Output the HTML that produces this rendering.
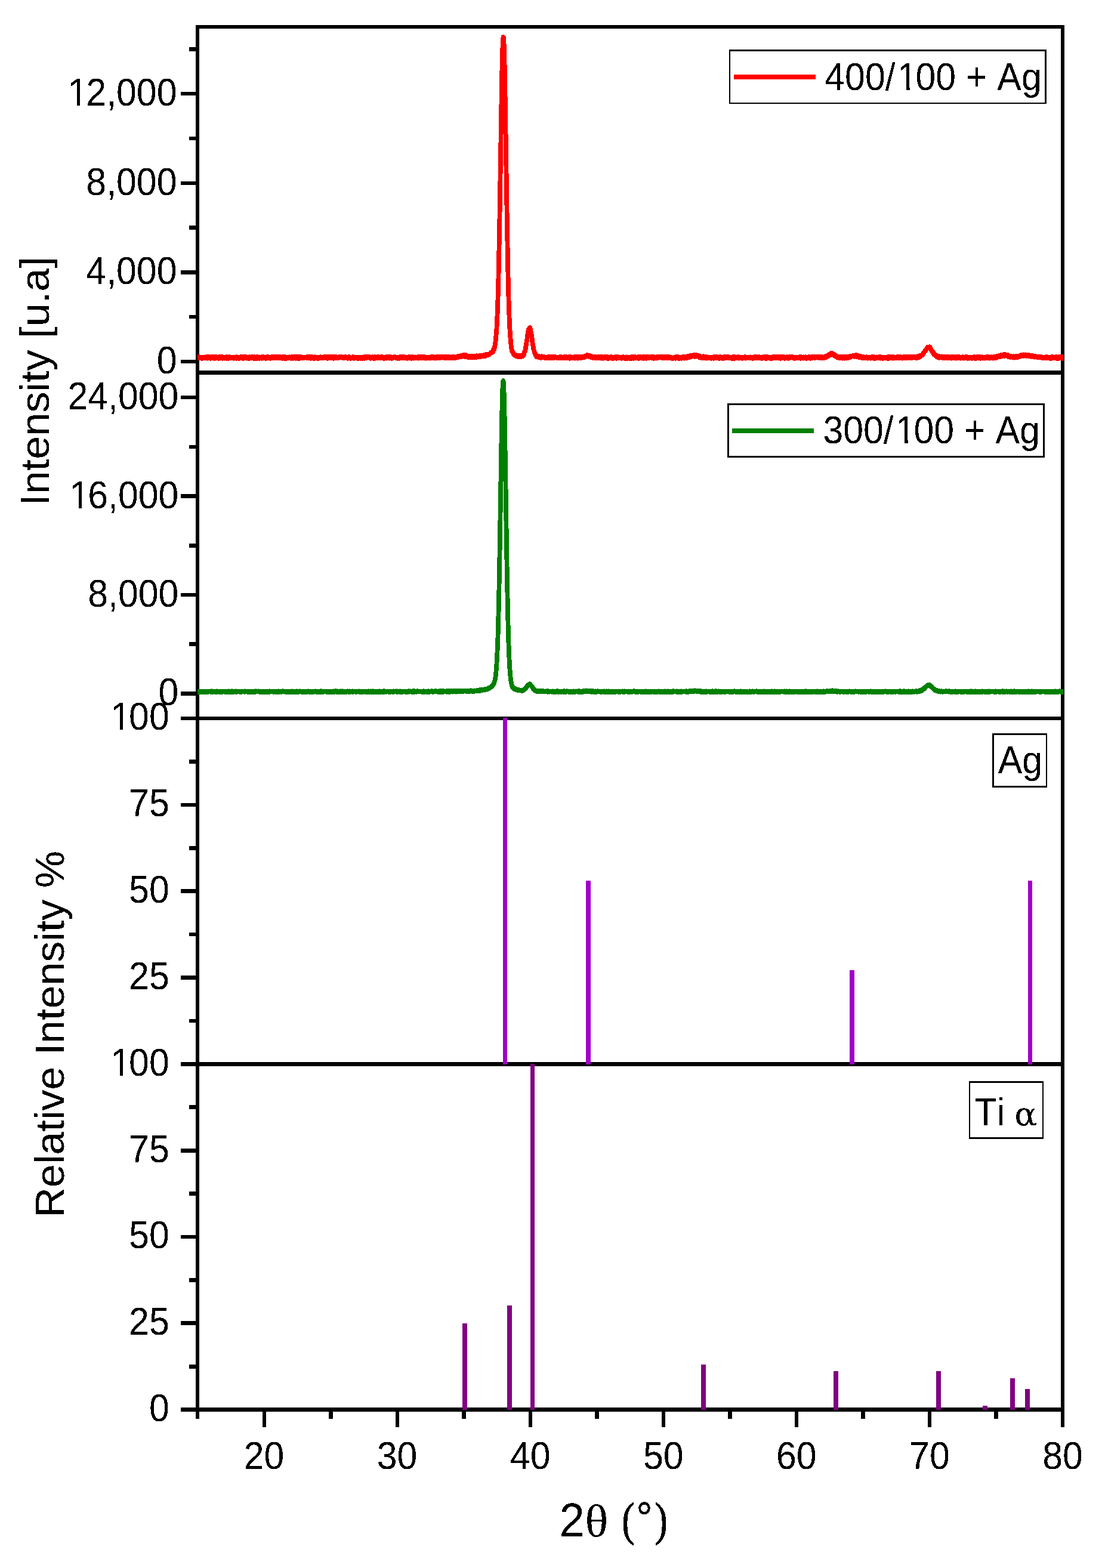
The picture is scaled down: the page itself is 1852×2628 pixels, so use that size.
<!DOCTYPE html>
<html lang="en"><head><meta charset="utf-8"><title>XRD patterns</title>
<style>html,body{margin:0;padding:0;background:#fff}svg{display:block}text{font-family:"Liberation Sans",sans-serif;fill:#000;font-kerning:none;font-variant-ligatures:none;white-space:pre}</style></head><body>
<svg width="1852" height="2628" viewBox="0 0 1852 2628">
<defs><filter id="bw" filterUnits="userSpaceOnUse" x="0" y="0" width="1852" height="2628" color-interpolation-filters="sRGB"><feComponentTransfer><feFuncA type="discrete" tableValues="0 1"/></feComponentTransfer></filter></defs>
<rect x="0" y="0" width="1852" height="2628" fill="#fff"/>
<g shape-rendering="crispEdges">
<rect x="328" y="42" width="6" height="2336" fill="#000"/>
<rect x="1778" y="42" width="6" height="2350" fill="#000"/>
<rect x="328" y="42" width="1456" height="6" fill="#000"/>
<rect x="328" y="621" width="1456" height="7" fill="#000"/>
<rect x="303" y="1201" width="1481" height="6" fill="#000"/>
<rect x="303" y="1780" width="1481" height="7" fill="#000"/>
<rect x="303" y="2359" width="1481" height="7" fill="#000"/>
<rect x="317" y="79" width="11" height="7" fill="#000"/>
<rect x="303" y="154" width="25" height="6" fill="#000"/>
<rect x="317" y="229" width="11" height="6" fill="#000"/>
<rect x="303" y="304" width="25" height="6" fill="#000"/>
<rect x="317" y="378" width="11" height="7" fill="#000"/>
<rect x="303" y="453" width="25" height="7" fill="#000"/>
<rect x="317" y="528" width="11" height="6" fill="#000"/>
<rect x="303" y="603" width="25" height="6" fill="#000"/>
<rect x="303" y="663" width="25" height="6" fill="#000"/>
<rect x="317" y="746" width="11" height="6" fill="#000"/>
<rect x="303" y="828" width="25" height="7" fill="#000"/>
<rect x="317" y="911" width="11" height="7" fill="#000"/>
<rect x="303" y="994" width="25" height="6" fill="#000"/>
<rect x="317" y="1076" width="11" height="7" fill="#000"/>
<rect x="303" y="1159" width="25" height="7" fill="#000"/>
<rect x="317" y="1273" width="11" height="7" fill="#000"/>
<rect x="303" y="1346" width="25" height="6" fill="#000"/>
<rect x="317" y="1418" width="11" height="7" fill="#000"/>
<rect x="303" y="1490" width="25" height="7" fill="#000"/>
<rect x="317" y="1563" width="11" height="6" fill="#000"/>
<rect x="303" y="1635" width="25" height="7" fill="#000"/>
<rect x="317" y="1708" width="11" height="6" fill="#000"/>
<rect x="317" y="1852" width="11" height="7" fill="#000"/>
<rect x="303" y="1925" width="25" height="7" fill="#000"/>
<rect x="317" y="1997" width="11" height="7" fill="#000"/>
<rect x="303" y="2070" width="25" height="6" fill="#000"/>
<rect x="317" y="2142" width="11" height="7" fill="#000"/>
<rect x="303" y="2214" width="25" height="7" fill="#000"/>
<rect x="317" y="2287" width="11" height="7" fill="#000"/>
<rect x="440" y="2366" width="6" height="26" fill="#000"/>
<rect x="551" y="2366" width="7" height="12" fill="#000"/>
<rect x="663" y="2366" width="6" height="26" fill="#000"/>
<rect x="774" y="2366" width="7" height="12" fill="#000"/>
<rect x="886" y="2366" width="6" height="26" fill="#000"/>
<rect x="997" y="2366" width="7" height="12" fill="#000"/>
<rect x="1109" y="2366" width="6" height="26" fill="#000"/>
<rect x="1220" y="2366" width="7" height="12" fill="#000"/>
<rect x="1332" y="2366" width="6" height="26" fill="#000"/>
<rect x="1443" y="2366" width="7" height="12" fill="#000"/>
<rect x="1555" y="2366" width="6" height="26" fill="#000"/>
<rect x="1666" y="2366" width="7" height="12" fill="#000"/>
</g>
<g shape-rendering="crispEdges">
<rect x="843" y="1203" width="7" height="581" fill="#a000c8"/>
<rect x="982" y="1476" width="8" height="308" fill="#a000c8"/>
<rect x="1424" y="1626" width="8" height="158" fill="#a000c8"/>
<rect x="1723" y="1476" width="7" height="308" fill="#a000c8"/>
<rect x="775" y="2218" width="8" height="145" fill="#800080"/>
<rect x="850" y="2188" width="8" height="175" fill="#800080"/>
<rect x="889" y="1783" width="7" height="580" fill="#800080"/>
<rect x="1175" y="2287" width="8" height="76" fill="#800080"/>
<rect x="1397" y="2298" width="8" height="65" fill="#800080"/>
<rect x="1569" y="2298" width="8" height="65" fill="#800080"/>
<rect x="1647" y="2356" width="8" height="7" fill="#800080"/>
<rect x="1693" y="2310" width="8" height="53" fill="#800080"/>
<rect x="1718" y="2328" width="8" height="35" fill="#800080"/>
</g>
<clipPath id="cp"><rect x="331" y="40" width="1451" height="1170"/></clipPath>
<g clip-path="url(#cp)">
<polyline fill="none" stroke="#ff0000" stroke-width="6.8" stroke-linejoin="round" shape-rendering="crispEdges" points="325.0,599.4 326.0,599.4 327.0,599.4 328.0,599.4 329.0,599.4 330.0,599.4 331.0,599.4 332.0,599.4 333.0,599.4 334.0,599.4 335.0,599.4 336.0,599.4 337.0,599.4 338.0,599.4 339.0,599.4 340.0,599.4 341.0,599.4 342.0,599.4 343.0,599.4 344.0,599.4 345.0,599.4 346.0,599.4 347.0,599.4 348.0,599.4 349.0,599.4 350.0,599.4 351.0,599.4 352.0,599.4 353.0,599.4 354.0,599.4 355.0,599.4 356.0,599.4 357.0,599.4 358.0,599.4 359.0,599.4 360.0,599.4 361.0,599.4 362.0,599.4 363.0,599.4 364.0,599.4 365.0,599.4 366.0,599.4 367.0,599.4 368.0,599.4 369.0,599.4 370.0,599.4 371.0,599.4 372.0,599.4 373.0,599.4 374.0,599.4 375.0,599.4 376.0,599.4 377.0,599.4 378.0,599.4 379.0,599.4 380.0,599.4 381.0,599.4 382.0,599.4 383.0,599.4 384.0,599.4 385.0,599.4 386.0,599.4 387.0,599.4 388.0,599.4 389.0,599.4 390.0,599.4 391.0,599.4 392.0,599.4 393.0,599.4 394.0,599.4 395.0,599.4 396.0,599.4 397.0,599.4 398.0,599.4 399.0,599.4 400.0,599.4 401.0,599.4 402.0,599.4 403.0,599.4 404.0,599.4 405.0,599.4 406.0,599.4 407.0,599.4 408.0,599.4 409.0,599.4 410.0,599.4 411.0,599.4 412.0,599.4 413.0,599.4 414.0,599.4 415.0,599.4 416.0,599.4 417.0,599.4 418.0,599.4 419.0,599.4 420.0,599.4 421.0,599.4 422.0,599.4 423.0,599.4 424.0,599.4 425.0,599.4 426.0,599.4 427.0,599.4 428.0,599.4 429.0,599.4 430.0,599.4 431.0,599.4 432.0,599.4 433.0,599.4 434.0,599.4 435.0,599.4 436.0,599.4 437.0,599.4 438.0,599.4 439.0,599.4 440.0,599.4 441.0,599.4 442.0,599.4 443.0,599.4 444.0,599.4 445.0,599.4 446.0,599.4 447.0,599.4 448.0,599.4 449.0,599.4 450.0,599.4 451.0,599.4 452.0,599.4 453.0,599.4 454.0,599.4 455.0,599.4 456.0,599.4 457.0,599.4 458.0,599.4 459.0,599.4 460.0,599.4 461.0,599.4 462.0,599.4 463.0,599.4 464.0,599.4 465.0,599.4 466.0,599.4 467.0,599.4 468.0,599.4 469.0,599.4 470.0,599.4 471.0,599.4 472.0,599.4 473.0,599.4 474.0,599.4 475.0,599.4 476.0,599.4 477.0,599.4 478.0,599.4 479.0,599.4 480.0,599.4 481.0,599.4 482.0,599.4 483.0,599.4 484.0,599.4 485.0,599.4 486.0,599.4 487.0,599.4 488.0,599.4 489.0,599.4 490.0,599.4 491.0,599.4 492.0,599.4 493.0,599.4 494.0,599.4 495.0,599.4 496.0,599.4 497.0,599.4 498.0,599.4 499.0,599.4 500.0,599.4 501.0,599.4 502.0,599.4 503.0,599.4 504.0,599.4 505.0,599.4 506.0,599.4 507.0,599.4 508.0,599.4 509.0,599.4 510.0,599.4 511.0,599.4 512.0,599.4 513.0,599.4 514.0,599.4 515.0,599.4 516.0,599.4 517.0,599.4 518.0,599.4 519.0,599.4 520.0,599.4 521.0,599.4 522.0,599.4 523.0,599.4 524.0,599.4 525.0,599.4 526.0,599.4 527.0,599.4 528.0,599.4 529.0,599.4 530.0,599.4 531.0,599.4 532.0,599.4 533.0,599.4 534.0,599.4 535.0,599.4 536.0,599.4 537.0,599.4 538.0,599.4 539.0,599.4 540.0,599.4 541.0,599.4 542.0,599.4 543.0,599.4 544.0,599.4 545.0,599.4 546.0,599.4 547.0,599.4 548.0,599.4 549.0,599.4 550.0,599.4 551.0,599.4 552.0,599.4 553.0,599.4 554.0,599.4 555.0,599.4 556.0,599.4 557.0,599.4 558.0,599.4 559.0,599.4 560.0,599.4 561.0,599.4 562.0,599.4 563.0,599.4 564.0,599.4 565.0,599.4 566.0,599.4 567.0,599.4 568.0,599.4 569.0,599.4 570.0,599.4 571.0,599.4 572.0,599.4 573.0,599.4 574.0,599.4 575.0,599.4 576.0,599.4 577.0,599.4 578.0,599.3 579.0,599.3 580.0,599.3 581.0,599.3 582.0,599.3 583.0,599.3 584.0,599.3 585.0,599.3 586.0,599.3 587.0,599.3 588.0,599.3 589.0,599.3 590.0,599.3 591.0,599.3 592.0,599.3 593.0,599.3 594.0,599.3 595.0,599.3 596.0,599.3 597.0,599.3 598.0,599.3 599.0,599.3 600.0,599.3 601.0,599.3 602.0,599.3 603.0,599.3 604.0,599.3 605.0,599.3 606.0,599.3 607.0,599.3 608.0,599.3 609.0,599.3 610.0,599.3 611.0,599.3 612.0,599.3 613.0,599.3 614.0,599.3 615.0,599.3 616.0,599.3 617.0,599.3 618.0,599.3 619.0,599.3 620.0,599.3 621.0,599.3 622.0,599.3 623.0,599.3 624.0,599.3 625.0,599.3 626.0,599.3 627.0,599.3 628.0,599.3 629.0,599.3 630.0,599.3 631.0,599.3 632.0,599.3 633.0,599.3 634.0,599.3 635.0,599.3 636.0,599.3 637.0,599.3 638.0,599.3 639.0,599.3 640.0,599.3 641.0,599.3 642.0,599.3 643.0,599.3 644.0,599.3 645.0,599.3 646.0,599.3 647.0,599.3 648.0,599.3 649.0,599.3 650.0,599.3 651.0,599.3 652.0,599.3 653.0,599.3 654.0,599.3 655.0,599.3 656.0,599.3 657.0,599.3 658.0,599.3 659.0,599.3 660.0,599.3 661.0,599.3 662.0,599.3 663.0,599.3 664.0,599.3 665.0,599.3 666.0,599.3 667.0,599.3 668.0,599.3 669.0,599.3 670.0,599.3 671.0,599.3 672.0,599.3 673.0,599.3 674.0,599.3 675.0,599.3 676.0,599.3 677.0,599.3 678.0,599.3 679.0,599.3 680.0,599.3 681.0,599.3 682.0,599.3 683.0,599.3 684.0,599.3 685.0,599.3 686.0,599.3 687.0,599.3 688.0,599.3 689.0,599.3 690.0,599.3 691.0,599.2 692.0,599.2 693.0,599.2 694.0,599.2 695.0,599.2 696.0,599.2 697.0,599.2 698.0,599.2 699.0,599.2 700.0,599.2 701.0,599.2 702.0,599.2 703.0,599.2 704.0,599.2 705.0,599.2 706.0,599.2 707.0,599.2 708.0,599.2 709.0,599.2 710.0,599.2 711.0,599.2 712.0,599.2 713.0,599.2 714.0,599.2 715.0,599.2 716.0,599.2 717.0,599.2 718.0,599.2 719.0,599.2 720.0,599.2 721.0,599.2 722.0,599.2 723.0,599.2 724.0,599.2 725.0,599.2 726.0,599.1 727.0,599.1 728.0,599.1 729.0,599.1 730.0,599.1 731.0,599.1 732.0,599.1 733.0,599.1 734.0,599.1 735.0,599.1 736.0,599.1 737.0,599.1 738.0,599.1 739.0,599.1 740.0,599.1 741.0,599.1 742.0,599.1 743.0,599.1 744.0,599.0 745.0,599.0 746.0,599.0 747.0,599.0 748.0,599.0 749.0,599.0 750.0,599.0 751.0,599.0 752.0,599.0 753.0,599.0 754.0,599.0 755.0,598.9 756.0,598.9 757.0,598.9 758.0,598.9 759.0,598.9 760.0,598.9 761.0,598.8 762.0,598.8 763.0,598.8 764.0,598.7 765.0,598.6 766.0,598.5 767.0,598.4 768.0,598.2 769.0,597.9 770.0,597.7 771.0,597.4 772.0,597.0 773.0,596.7 774.0,596.4 775.0,596.2 776.0,596.1 777.0,596.0 778.0,596.1 779.0,596.2 780.0,596.5 781.0,596.7 782.0,597.0 783.0,597.3 784.0,597.5 785.0,597.7 786.0,597.9 787.0,598.0 788.0,598.0 789.0,598.1 790.0,598.1 791.0,598.1 792.0,598.1 793.0,598.0 794.0,598.0 795.0,597.9 796.0,597.9 797.0,597.8 798.0,597.8 799.0,597.7 800.0,597.6 801.0,597.5 802.0,597.4 803.0,597.4 804.0,597.3 805.0,597.1 806.0,597.0 807.0,596.9 808.0,596.8 809.0,596.6 810.0,596.5 811.0,596.3 812.0,596.1 813.0,595.9 814.0,595.6 815.0,595.4 816.0,595.1 817.0,594.8 818.0,594.4 819.0,594.1 820.0,593.6 821.0,593.1 822.0,592.6 823.0,591.9 824.0,591.1 825.0,590.2 826.0,589.0 827.0,587.4 828.0,585.1 829.0,581.7 830.0,576.5 831.0,568.7 832.0,557.0 833.0,539.9 834.0,515.9 835.0,483.4 836.0,441.4 837.0,390.0 838.0,330.3 839.0,265.5 840.0,200.0 841.0,140.1 842.0,93.1 843.0,66.0 844.0,63.3 845.0,85.0 846.0,127.5 847.0,185.0 848.0,250.4 849.0,317.3 850.0,380.1 851.0,435.4 852.0,480.9 853.0,516.5 854.0,542.8 855.0,561.4 856.0,574.0 857.0,582.1 858.0,587.2 859.0,590.4 860.0,592.3 861.0,593.5 862.0,594.3 863.0,594.9 864.0,595.3 865.0,595.6 866.0,595.9 867.0,596.1 868.0,596.3 869.0,596.5 870.0,596.6 871.0,596.7 872.0,596.8 873.0,596.8 874.0,596.6 875.0,596.3 876.0,595.8 877.0,594.8 878.0,593.1 879.0,590.7 880.0,587.1 881.0,582.5 882.0,576.7 883.0,570.1 884.0,563.3 885.0,557.0 886.0,552.0 887.0,549.3 888.0,549.3 889.0,552.1 890.0,557.2 891.0,563.6 892.0,570.5 893.0,577.2 894.0,583.0 895.0,587.8 896.0,591.4 897.0,593.9 898.0,595.7 899.0,596.8 900.0,597.5 901.0,597.9 902.0,598.1 903.0,598.3 904.0,598.4 905.0,598.5 906.0,598.6 907.0,598.6 908.0,598.7 909.0,598.7 910.0,598.7 911.0,598.8 912.0,598.8 913.0,598.8 914.0,598.9 915.0,598.9 916.0,598.9 917.0,598.9 918.0,598.9 919.0,599.0 920.0,599.0 921.0,599.0 922.0,599.0 923.0,599.0 924.0,599.0 925.0,599.0 926.0,599.0 927.0,599.1 928.0,599.1 929.0,599.1 930.0,599.1 931.0,599.1 932.0,599.1 933.0,599.1 934.0,599.1 935.0,599.1 936.0,599.1 937.0,599.1 938.0,599.1 939.0,599.2 940.0,599.2 941.0,599.2 942.0,599.2 943.0,599.2 944.0,599.2 945.0,599.2 946.0,599.2 947.0,599.2 948.0,599.2 949.0,599.2 950.0,599.2 951.0,599.2 952.0,599.2 953.0,599.2 954.0,599.2 955.0,599.2 956.0,599.2 957.0,599.2 958.0,599.2 959.0,599.2 960.0,599.2 961.0,599.2 962.0,599.2 963.0,599.2 964.0,599.2 965.0,599.2 966.0,599.2 967.0,599.2 968.0,599.2 969.0,599.2 970.0,599.2 971.0,599.2 972.0,599.2 973.0,599.1 974.0,599.1 975.0,599.0 976.0,598.8 977.0,598.6 978.0,598.2 979.0,597.9 980.0,597.4 981.0,597.0 982.0,596.5 983.0,596.2 984.0,596.0 985.0,596.0 986.0,596.2 987.0,596.5 988.0,597.0 989.0,597.4 990.0,597.9 991.0,598.3 992.0,598.6 993.0,598.8 994.0,599.0 995.0,599.1 996.0,599.2 997.0,599.2 998.0,599.3 999.0,599.3 1000.0,599.3 1001.0,599.3 1002.0,599.3 1003.0,599.3 1004.0,599.3 1005.0,599.3 1006.0,599.3 1007.0,599.3 1008.0,599.3 1009.0,599.3 1010.0,599.3 1011.0,599.3 1012.0,599.3 1013.0,599.3 1014.0,599.3 1015.0,599.3 1016.0,599.3 1017.0,599.3 1018.0,599.3 1019.0,599.3 1020.0,599.3 1021.0,599.3 1022.0,599.3 1023.0,599.3 1024.0,599.3 1025.0,599.3 1026.0,599.3 1027.0,599.3 1028.0,599.3 1029.0,599.3 1030.0,599.3 1031.0,599.3 1032.0,599.3 1033.0,599.3 1034.0,599.3 1035.0,599.3 1036.0,599.3 1037.0,599.3 1038.0,599.3 1039.0,599.3 1040.0,599.3 1041.0,599.3 1042.0,599.3 1043.0,599.3 1044.0,599.3 1045.0,599.3 1046.0,599.3 1047.0,599.3 1048.0,599.3 1049.0,599.3 1050.0,599.3 1051.0,599.3 1052.0,599.4 1053.0,599.4 1054.0,599.4 1055.0,599.4 1056.0,599.4 1057.0,599.4 1058.0,599.4 1059.0,599.4 1060.0,599.4 1061.0,599.4 1062.0,599.4 1063.0,599.4 1064.0,599.4 1065.0,599.4 1066.0,599.4 1067.0,599.4 1068.0,599.4 1069.0,599.4 1070.0,599.4 1071.0,599.4 1072.0,599.4 1073.0,599.4 1074.0,599.4 1075.0,599.4 1076.0,599.4 1077.0,599.4 1078.0,599.4 1079.0,599.4 1080.0,599.4 1081.0,599.4 1082.0,599.4 1083.0,599.4 1084.0,599.4 1085.0,599.4 1086.0,599.4 1087.0,599.4 1088.0,599.4 1089.0,599.4 1090.0,599.4 1091.0,599.4 1092.0,599.4 1093.0,599.4 1094.0,599.4 1095.0,599.4 1096.0,599.4 1097.0,599.4 1098.0,599.4 1099.0,599.4 1100.0,599.4 1101.0,599.4 1102.0,599.4 1103.0,599.4 1104.0,599.4 1105.0,599.4 1106.0,599.4 1107.0,599.4 1108.0,599.4 1109.0,599.4 1110.0,599.4 1111.0,599.4 1112.0,599.4 1113.0,599.4 1114.0,599.4 1115.0,599.4 1116.0,599.4 1117.0,599.4 1118.0,599.4 1119.0,599.4 1120.0,599.4 1121.0,599.4 1122.0,599.4 1123.0,599.4 1124.0,599.4 1125.0,599.4 1126.0,599.4 1127.0,599.4 1128.0,599.4 1129.0,599.4 1130.0,599.4 1131.0,599.4 1132.0,599.4 1133.0,599.4 1134.0,599.3 1135.0,599.3 1136.0,599.3 1137.0,599.3 1138.0,599.3 1139.0,599.3 1140.0,599.3 1141.0,599.3 1142.0,599.3 1143.0,599.3 1144.0,599.2 1145.0,599.2 1146.0,599.2 1147.0,599.1 1148.0,599.0 1149.0,598.9 1150.0,598.8 1151.0,598.7 1152.0,598.5 1153.0,598.4 1154.0,598.2 1155.0,597.9 1156.0,597.7 1157.0,597.5 1158.0,597.3 1159.0,597.0 1160.0,596.8 1161.0,596.7 1162.0,596.5 1163.0,596.4 1164.0,596.4 1165.0,596.4 1166.0,596.5 1167.0,596.6 1168.0,596.7 1169.0,596.9 1170.0,597.1 1171.0,597.3 1172.0,597.6 1173.0,597.8 1174.0,598.0 1175.0,598.2 1176.0,598.4 1177.0,598.6 1178.0,598.7 1179.0,598.9 1180.0,599.0 1181.0,599.1 1182.0,599.1 1183.0,599.2 1184.0,599.2 1185.0,599.3 1186.0,599.3 1187.0,599.3 1188.0,599.3 1189.0,599.3 1190.0,599.3 1191.0,599.3 1192.0,599.3 1193.0,599.4 1194.0,599.4 1195.0,599.4 1196.0,599.4 1197.0,599.4 1198.0,599.4 1199.0,599.4 1200.0,599.4 1201.0,599.4 1202.0,599.4 1203.0,599.4 1204.0,599.4 1205.0,599.4 1206.0,599.4 1207.0,599.4 1208.0,599.4 1209.0,599.4 1210.0,599.4 1211.0,599.4 1212.0,599.4 1213.0,599.4 1214.0,599.4 1215.0,599.4 1216.0,599.4 1217.0,599.4 1218.0,599.4 1219.0,599.4 1220.0,599.4 1221.0,599.4 1222.0,599.4 1223.0,599.4 1224.0,599.4 1225.0,599.4 1226.0,599.4 1227.0,599.4 1228.0,599.4 1229.0,599.4 1230.0,599.4 1231.0,599.4 1232.0,599.4 1233.0,599.4 1234.0,599.4 1235.0,599.4 1236.0,599.4 1237.0,599.4 1238.0,599.4 1239.0,599.4 1240.0,599.4 1241.0,599.4 1242.0,599.4 1243.0,599.4 1244.0,599.4 1245.0,599.4 1246.0,599.4 1247.0,599.4 1248.0,599.4 1249.0,599.4 1250.0,599.4 1251.0,599.4 1252.0,599.4 1253.0,599.4 1254.0,599.4 1255.0,599.4 1256.0,599.4 1257.0,599.4 1258.0,599.4 1259.0,599.4 1260.0,599.4 1261.0,599.4 1262.0,599.4 1263.0,599.4 1264.0,599.4 1265.0,599.4 1266.0,599.4 1267.0,599.4 1268.0,599.4 1269.0,599.4 1270.0,599.4 1271.0,599.4 1272.0,599.4 1273.0,599.4 1274.0,599.4 1275.0,599.4 1276.0,599.4 1277.0,599.4 1278.0,599.4 1279.0,599.4 1280.0,599.4 1281.0,599.4 1282.0,599.4 1283.0,599.4 1284.0,599.4 1285.0,599.4 1286.0,599.4 1287.0,599.4 1288.0,599.4 1289.0,599.4 1290.0,599.4 1291.0,599.4 1292.0,599.4 1293.0,599.4 1294.0,599.4 1295.0,599.4 1296.0,599.4 1297.0,599.4 1298.0,599.4 1299.0,599.4 1300.0,599.4 1301.0,599.4 1302.0,599.4 1303.0,599.4 1304.0,599.4 1305.0,599.4 1306.0,599.4 1307.0,599.4 1308.0,599.4 1309.0,599.4 1310.0,599.4 1311.0,599.4 1312.0,599.4 1313.0,599.4 1314.0,599.4 1315.0,599.4 1316.0,599.4 1317.0,599.4 1318.0,599.4 1319.0,599.4 1320.0,599.4 1321.0,599.4 1322.0,599.4 1323.0,599.4 1324.0,599.4 1325.0,599.4 1326.0,599.4 1327.0,599.4 1328.0,599.4 1329.0,599.4 1330.0,599.4 1331.0,599.4 1332.0,599.4 1333.0,599.4 1334.0,599.4 1335.0,599.4 1336.0,599.4 1337.0,599.4 1338.0,599.4 1339.0,599.4 1340.0,599.4 1341.0,599.4 1342.0,599.4 1343.0,599.4 1344.0,599.4 1345.0,599.4 1346.0,599.4 1347.0,599.4 1348.0,599.4 1349.0,599.4 1350.0,599.4 1351.0,599.4 1352.0,599.4 1353.0,599.4 1354.0,599.4 1355.0,599.4 1356.0,599.4 1357.0,599.4 1358.0,599.3 1359.0,599.3 1360.0,599.3 1361.0,599.3 1362.0,599.3 1363.0,599.3 1364.0,599.3 1365.0,599.3 1366.0,599.3 1367.0,599.3 1368.0,599.3 1369.0,599.3 1370.0,599.3 1371.0,599.3 1372.0,599.3 1373.0,599.3 1374.0,599.3 1375.0,599.3 1376.0,599.2 1377.0,599.2 1378.0,599.2 1379.0,599.1 1380.0,599.1 1381.0,599.0 1382.0,598.8 1383.0,598.6 1384.0,598.3 1385.0,598.0 1386.0,597.5 1387.0,596.9 1388.0,596.3 1389.0,595.6 1390.0,594.9 1391.0,594.3 1392.0,593.8 1393.0,593.5 1394.0,593.4 1395.0,593.5 1396.0,593.9 1397.0,594.4 1398.0,595.1 1399.0,595.8 1400.0,596.4 1401.0,597.0 1402.0,597.6 1403.0,598.0 1404.0,598.4 1405.0,598.6 1406.0,598.8 1407.0,599.0 1408.0,599.1 1409.0,599.1 1410.0,599.2 1411.0,599.2 1412.0,599.2 1413.0,599.2 1414.0,599.2 1415.0,599.2 1416.0,599.2 1417.0,599.2 1418.0,599.2 1419.0,599.1 1420.0,599.1 1421.0,599.0 1422.0,598.9 1423.0,598.7 1424.0,598.5 1425.0,598.3 1426.0,598.1 1427.0,597.8 1428.0,597.5 1429.0,597.2 1430.0,596.9 1431.0,596.7 1432.0,596.5 1433.0,596.4 1434.0,596.3 1435.0,596.4 1436.0,596.6 1437.0,596.8 1438.0,597.0 1439.0,597.3 1440.0,597.6 1441.0,597.9 1442.0,598.2 1443.0,598.4 1444.0,598.6 1445.0,598.8 1446.0,599.0 1447.0,599.1 1448.0,599.1 1449.0,599.2 1450.0,599.2 1451.0,599.3 1452.0,599.3 1453.0,599.3 1454.0,599.3 1455.0,599.3 1456.0,599.3 1457.0,599.3 1458.0,599.3 1459.0,599.3 1460.0,599.3 1461.0,599.3 1462.0,599.3 1463.0,599.3 1464.0,599.3 1465.0,599.3 1466.0,599.3 1467.0,599.3 1468.0,599.3 1469.0,599.3 1470.0,599.3 1471.0,599.3 1472.0,599.3 1473.0,599.3 1474.0,599.3 1475.0,599.3 1476.0,599.3 1477.0,599.3 1478.0,599.3 1479.0,599.3 1480.0,599.3 1481.0,599.3 1482.0,599.3 1483.0,599.3 1484.0,599.3 1485.0,599.3 1486.0,599.3 1487.0,599.3 1488.0,599.3 1489.0,599.3 1490.0,599.3 1491.0,599.3 1492.0,599.3 1493.0,599.3 1494.0,599.3 1495.0,599.3 1496.0,599.3 1497.0,599.3 1498.0,599.3 1499.0,599.3 1500.0,599.3 1501.0,599.3 1502.0,599.3 1503.0,599.3 1504.0,599.3 1505.0,599.3 1506.0,599.3 1507.0,599.3 1508.0,599.3 1509.0,599.3 1510.0,599.3 1511.0,599.2 1512.0,599.2 1513.0,599.2 1514.0,599.2 1515.0,599.2 1516.0,599.2 1517.0,599.2 1518.0,599.2 1519.0,599.2 1520.0,599.2 1521.0,599.2 1522.0,599.1 1523.0,599.1 1524.0,599.1 1525.0,599.1 1526.0,599.1 1527.0,599.1 1528.0,599.0 1529.0,599.0 1530.0,599.0 1531.0,599.0 1532.0,598.9 1533.0,598.9 1534.0,598.8 1535.0,598.8 1536.0,598.7 1537.0,598.6 1538.0,598.4 1539.0,598.2 1540.0,598.0 1541.0,597.7 1542.0,597.2 1543.0,596.7 1544.0,596.0 1545.0,595.2 1546.0,594.1 1547.0,593.0 1548.0,591.6 1549.0,590.2 1550.0,588.6 1551.0,587.1 1552.0,585.5 1553.0,584.2 1554.0,583.0 1555.0,582.2 1556.0,581.9 1557.0,582.0 1558.0,582.7 1559.0,583.7 1560.0,585.0 1561.0,586.4 1562.0,588.0 1563.0,589.6 1564.0,591.1 1565.0,592.5 1566.0,593.7 1567.0,594.8 1568.0,595.7 1569.0,596.4 1570.0,597.0 1571.0,597.5 1572.0,597.9 1573.0,598.1 1574.0,598.4 1575.0,598.5 1576.0,598.6 1577.0,598.7 1578.0,598.8 1579.0,598.9 1580.0,598.9 1581.0,598.9 1582.0,599.0 1583.0,599.0 1584.0,599.0 1585.0,599.1 1586.0,599.1 1587.0,599.1 1588.0,599.1 1589.0,599.1 1590.0,599.1 1591.0,599.2 1592.0,599.2 1593.0,599.2 1594.0,599.2 1595.0,599.2 1596.0,599.2 1597.0,599.2 1598.0,599.2 1599.0,599.2 1600.0,599.2 1601.0,599.2 1602.0,599.2 1603.0,599.3 1604.0,599.3 1605.0,599.3 1606.0,599.3 1607.0,599.3 1608.0,599.3 1609.0,599.3 1610.0,599.3 1611.0,599.3 1612.0,599.3 1613.0,599.3 1614.0,599.3 1615.0,599.3 1616.0,599.3 1617.0,599.3 1618.0,599.3 1619.0,599.3 1620.0,599.3 1621.0,599.3 1622.0,599.3 1623.0,599.3 1624.0,599.3 1625.0,599.3 1626.0,599.3 1627.0,599.3 1628.0,599.3 1629.0,599.3 1630.0,599.3 1631.0,599.3 1632.0,599.3 1633.0,599.3 1634.0,599.3 1635.0,599.3 1636.0,599.3 1637.0,599.3 1638.0,599.3 1639.0,599.3 1640.0,599.3 1641.0,599.3 1642.0,599.3 1643.0,599.3 1644.0,599.3 1645.0,599.3 1646.0,599.3 1647.0,599.3 1648.0,599.3 1649.0,599.3 1650.0,599.3 1651.0,599.3 1652.0,599.3 1653.0,599.3 1654.0,599.3 1655.0,599.3 1656.0,599.3 1657.0,599.3 1658.0,599.3 1659.0,599.3 1660.0,599.3 1661.0,599.3 1662.0,599.2 1663.0,599.2 1664.0,599.2 1665.0,599.1 1666.0,599.0 1667.0,598.9 1668.0,598.8 1669.0,598.7 1670.0,598.5 1671.0,598.3 1672.0,598.1 1673.0,597.8 1674.0,597.5 1675.0,597.2 1676.0,596.9 1677.0,596.6 1678.0,596.3 1679.0,596.0 1680.0,595.8 1681.0,595.6 1682.0,595.4 1683.0,595.4 1684.0,595.3 1685.0,595.4 1686.0,595.5 1687.0,595.7 1688.0,596.0 1689.0,596.2 1690.0,596.5 1691.0,596.8 1692.0,597.1 1693.0,597.4 1694.0,597.6 1695.0,597.9 1696.0,598.1 1697.0,598.2 1698.0,598.3 1699.0,598.4 1700.0,598.4 1701.0,598.4 1702.0,598.4 1703.0,598.3 1704.0,598.2 1705.0,598.1 1706.0,597.9 1707.0,597.7 1708.0,597.5 1709.0,597.3 1710.0,597.0 1711.0,596.8 1712.0,596.5 1713.0,596.3 1714.0,596.0 1715.0,595.8 1716.0,595.7 1717.0,595.5 1718.0,595.4 1719.0,595.4 1720.0,595.4 1721.0,595.4 1722.0,595.5 1723.0,595.6 1724.0,595.8 1725.0,596.0 1726.0,596.2 1727.0,596.4 1728.0,596.7 1729.0,596.9 1730.0,597.2 1731.0,597.4 1732.0,597.7 1733.0,597.9 1734.0,598.1 1735.0,598.3 1736.0,598.5 1737.0,598.6 1738.0,598.7 1739.0,598.9 1740.0,598.9 1741.0,599.0 1742.0,599.1 1743.0,599.1 1744.0,599.2 1745.0,599.2 1746.0,599.3 1747.0,599.3 1748.0,599.3 1749.0,599.3 1750.0,599.3 1751.0,599.3 1752.0,599.3 1753.0,599.3 1754.0,599.3 1755.0,599.3 1756.0,599.3 1757.0,599.4 1758.0,599.4 1759.0,599.4 1760.0,599.4 1761.0,599.4 1762.0,599.4 1763.0,599.4 1764.0,599.4 1765.0,599.4 1766.0,599.4 1767.0,599.4 1768.0,599.4 1769.0,599.4 1770.0,599.4 1771.0,599.4 1772.0,599.4 1773.0,599.4 1774.0,599.4 1775.0,599.4 1776.0,599.4 1777.0,599.4 1778.0,599.4 1779.0,599.4 1780.0,599.4 1781.0,599.4 1782.0,599.4 1783.0,599.4 1784.0,599.4 1785.0,599.4 1786.0,599.4 1787.0,599.4 1788.0,599.4"/><polyline fill="none" stroke="#ff0000" stroke-width="7.8" stroke-linejoin="round" shape-rendering="crispEdges" points="325.0,599.1 325.5,599.9 326.0,599.2 326.5,599.1 327.0,598.5 327.5,599.2 328.0,600.4 328.5,599.8 329.0,600.4 329.5,599.6 330.0,599.8 330.5,599.6 331.0,598.1 331.5,600.2 332.0,599.9 332.5,599.9 333.0,598.1 333.5,598.1 334.0,598.5 334.5,598.9 335.0,599.7 335.5,599.3 336.0,599.9 336.5,598.8 337.0,599.7 337.5,599.8 338.0,598.8 338.5,600.7 339.0,599.9 339.5,600.5 340.0,598.8 340.5,598.7 341.0,599.1 341.5,599.3 342.0,600.0 342.5,599.6 343.0,599.0 343.5,598.5 344.0,598.9 344.5,600.5 345.0,598.6 345.5,599.6 346.0,599.8 346.5,598.1 347.0,599.4 347.5,600.6 348.0,598.1 348.5,599.1 349.0,599.3 349.5,598.6 350.0,599.9 350.5,599.3 351.0,598.1 351.5,600.2 352.0,600.0 352.5,600.3 353.0,600.7 353.5,599.7 354.0,599.5 354.5,598.2 355.0,600.0 355.5,598.8 356.0,599.0 356.5,598.2 357.0,598.5 357.5,598.9 358.0,600.6 358.5,598.1 359.0,598.1 359.5,599.6 360.0,600.7 360.5,599.9 361.0,598.1 361.5,598.1 362.0,599.7 362.5,598.7 363.0,598.3 363.5,600.3 364.0,600.4 364.5,599.5 365.0,599.6 365.5,599.8 366.0,600.7 366.5,600.0 367.0,599.9 367.5,599.9 368.0,598.1 368.5,600.6 369.0,600.3 369.5,599.9 370.0,598.1 370.5,598.8 371.0,600.2 371.5,598.1 372.0,599.2 372.5,600.4 373.0,598.1 373.5,600.7 374.0,599.9 374.5,599.2 375.0,599.7 375.5,600.0 376.0,599.5 376.5,600.5 377.0,598.8 377.5,599.0 378.0,600.4 378.5,599.4 379.0,598.5 379.5,600.3 380.0,600.7 380.5,599.0 381.0,598.1 381.5,599.3 382.0,599.2 382.5,599.1 383.0,600.7 383.5,598.4 384.0,600.6 384.5,598.2 385.0,598.6 385.5,600.0 386.0,600.5 386.5,600.2 387.0,599.7 387.5,599.5 388.0,599.5 388.5,599.9 389.0,599.2 389.5,599.6 390.0,599.9 390.5,599.4 391.0,600.1 391.5,599.9 392.0,600.7 392.5,599.7 393.0,599.0 393.5,599.0 394.0,599.4 394.5,600.3 395.0,599.1 395.5,599.7 396.0,600.7 396.5,598.1 397.0,598.3 397.5,599.6 398.0,599.8 398.5,599.6 399.0,599.0 399.5,600.0 400.0,599.6 400.5,598.9 401.0,600.7 401.5,599.7 402.0,598.9 402.5,599.3 403.0,599.2 403.5,599.3 404.0,598.1 404.5,598.9 405.0,600.3 405.5,598.3 406.0,599.3 406.5,600.3 407.0,600.2 407.5,600.7 408.0,598.1 408.5,599.0 409.0,599.1 409.5,600.0 410.0,600.4 410.5,598.1 411.0,600.4 411.5,598.1 412.0,600.0 412.5,598.1 413.0,599.5 413.5,600.5 414.0,599.2 414.5,599.6 415.0,600.1 415.5,599.5 416.0,599.3 416.5,600.7 417.0,600.4 417.5,599.1 418.0,600.7 418.5,598.3 419.0,600.2 419.5,599.1 420.0,599.5 420.5,600.0 421.0,599.6 421.5,600.0 422.0,598.0 422.5,598.0 423.0,600.0 423.5,598.5 424.0,598.4 424.5,598.0 425.0,600.6 425.5,600.1 426.0,600.7 426.5,598.5 427.0,599.4 427.5,598.3 428.0,600.1 428.5,600.7 429.0,598.5 429.5,600.7 430.0,600.3 430.5,599.2 431.0,598.0 431.5,600.7 432.0,599.3 432.5,598.8 433.0,599.8 433.5,599.8 434.0,600.7 434.5,598.4 435.0,600.5 435.5,600.7 436.0,600.7 436.5,599.2 437.0,598.7 437.5,600.3 438.0,599.5 438.5,599.5 439.0,600.7 439.5,599.1 440.0,598.0 440.5,599.0 441.0,598.0 441.5,600.2 442.0,599.7 442.5,598.8 443.0,599.4 443.5,600.2 444.0,599.5 444.5,600.6 445.0,599.3 445.5,600.4 446.0,600.7 446.5,600.7 447.0,598.7 447.5,600.2 448.0,598.0 448.5,598.3 449.0,598.0 449.5,600.4 450.0,598.2 450.5,599.4 451.0,599.2 451.5,599.3 452.0,598.8 452.5,599.6 453.0,600.7 453.5,599.4 454.0,599.9 454.5,600.3 455.0,599.2 455.5,598.2 456.0,598.8 456.5,600.4 457.0,598.0 457.5,598.8 458.0,600.3 458.5,600.1 459.0,599.4 459.5,600.1 460.0,599.5 460.5,598.3 461.0,598.0 461.5,598.8 462.0,600.3 462.5,598.8 463.0,598.5 463.5,598.6 464.0,598.0 464.5,599.3 465.0,598.3 465.5,599.7 466.0,598.0 466.5,599.7 467.0,598.8 467.5,598.0 468.0,600.1 468.5,599.1 469.0,598.0 469.5,598.5 470.0,599.7 470.5,598.9 471.0,600.1 471.5,600.1 472.0,600.0 472.5,599.7 473.0,600.6 473.5,600.0 474.0,599.8 474.5,598.0 475.0,600.2 475.5,600.6 476.0,599.1 476.5,598.9 477.0,600.7 477.5,598.0 478.0,599.8 478.5,600.7 479.0,598.5 479.5,600.0 480.0,600.7 480.5,599.3 481.0,599.9 481.5,600.2 482.0,598.5 482.5,599.3 483.0,599.7 483.5,600.2 484.0,599.3 484.5,599.2 485.0,598.4 485.5,599.0 486.0,600.2 486.5,599.5 487.0,598.6 487.5,598.6 488.0,600.7 488.5,600.5 489.0,600.0 489.5,598.0 490.0,600.0 490.5,599.8 491.0,600.7 491.5,599.8 492.0,599.3 492.5,599.9 493.0,598.0 493.5,600.4 494.0,599.7 494.5,598.7 495.0,600.6 495.5,600.7 496.0,598.0 496.5,598.7 497.0,599.6 497.5,599.5 498.0,599.0 498.5,598.4 499.0,600.7 499.5,600.4 500.0,598.2 500.5,598.1 501.0,600.7 501.5,600.3 502.0,600.7 502.5,600.1 503.0,598.5 503.5,599.6 504.0,598.0 504.5,598.7 505.0,599.3 505.5,599.9 506.0,598.7 506.5,599.3 507.0,599.8 507.5,599.7 508.0,600.0 508.5,599.6 509.0,599.1 509.5,600.1 510.0,599.4 510.5,598.6 511.0,598.8 511.5,599.4 512.0,599.3 512.5,599.5 513.0,599.4 513.5,599.5 514.0,599.2 514.5,598.2 515.0,599.8 515.5,600.4 516.0,599.8 516.5,599.2 517.0,599.8 517.5,598.4 518.0,598.0 518.5,599.4 519.0,598.5 519.5,600.1 520.0,598.3 520.5,598.0 521.0,598.4 521.5,600.7 522.0,599.0 522.5,598.1 523.0,598.6 523.5,599.9 524.0,599.8 524.5,599.5 525.0,600.7 525.5,600.0 526.0,599.3 526.5,599.9 527.0,600.7 527.5,600.3 528.0,600.3 528.5,598.3 529.0,599.2 529.5,600.1 530.0,599.1 530.5,600.4 531.0,599.9 531.5,600.2 532.0,599.2 532.5,600.7 533.0,600.5 533.5,599.2 534.0,599.4 534.5,600.7 535.0,599.0 535.5,600.2 536.0,600.3 536.5,599.4 537.0,598.3 537.5,599.5 538.0,599.7 538.5,600.4 539.0,600.1 539.5,599.4 540.0,600.2 540.5,599.9 541.0,599.6 541.5,599.4 542.0,599.1 542.5,600.0 543.0,598.4 543.5,598.8 544.0,599.4 544.5,598.0 545.0,598.9 545.5,598.0 546.0,598.7 546.5,599.9 547.0,599.9 547.5,599.3 548.0,599.1 548.5,598.0 549.0,600.7 549.5,599.8 550.0,600.4 550.5,598.5 551.0,599.2 551.5,598.0 552.0,600.1 552.5,600.2 553.0,598.0 553.5,599.3 554.0,600.0 554.5,598.0 555.0,598.0 555.5,598.3 556.0,598.8 556.5,598.0 557.0,599.4 557.5,599.6 558.0,600.0 558.5,600.0 559.0,600.7 559.5,600.5 560.0,598.1 560.5,598.9 561.0,598.3 561.5,598.3 562.0,599.3 562.5,599.4 563.0,599.8 563.5,598.0 564.0,598.2 564.5,599.3 565.0,599.2 565.5,599.1 566.0,599.3 566.5,598.6 567.0,600.0 567.5,599.7 568.0,599.3 568.5,598.7 569.0,599.2 569.5,598.0 570.0,598.4 570.5,599.4 571.0,598.0 571.5,599.5 572.0,599.5 572.5,598.0 573.0,599.1 573.5,599.1 574.0,599.8 574.5,599.9 575.0,599.3 575.5,598.5 576.0,599.2 576.5,599.3 577.0,600.0 577.5,599.6 578.0,598.7 578.5,598.1 579.0,599.0 579.5,598.6 580.0,598.3 580.5,599.2 581.0,598.9 581.5,599.4 582.0,599.8 582.5,599.0 583.0,600.7 583.5,599.0 584.0,600.4 584.5,599.5 585.0,600.4 585.5,598.0 586.0,598.6 586.5,599.6 587.0,599.9 587.5,600.7 588.0,599.7 588.5,600.6 589.0,600.1 589.5,600.2 590.0,599.8 590.5,599.2 591.0,599.8 591.5,598.3 592.0,600.5 592.5,598.4 593.0,599.6 593.5,600.7 594.0,599.1 594.5,599.4 595.0,600.4 595.5,599.4 596.0,598.6 596.5,599.6 597.0,599.9 597.5,600.0 598.0,598.6 598.5,600.7 599.0,600.7 599.5,599.4 600.0,599.6 600.5,598.9 601.0,600.7 601.5,598.7 602.0,600.0 602.5,598.9 603.0,598.7 603.5,600.0 604.0,600.6 604.5,599.3 605.0,598.7 605.5,600.1 606.0,599.3 606.5,599.6 607.0,600.7 607.5,600.4 608.0,598.8 608.5,600.7 609.0,599.3 609.5,600.1 610.0,598.7 610.5,599.3 611.0,598.0 611.5,600.7 612.0,600.6 612.5,598.2 613.0,598.0 613.5,598.0 614.0,600.5 614.5,598.9 615.0,599.3 615.5,599.0 616.0,599.2 616.5,598.3 617.0,599.4 617.5,598.0 618.0,599.3 618.5,599.6 619.0,599.8 619.5,599.1 620.0,598.5 620.5,599.5 621.0,598.9 621.5,600.7 622.0,600.1 622.5,599.2 623.0,598.9 623.5,598.7 624.0,598.4 624.5,599.0 625.0,599.6 625.5,599.8 626.0,599.9 626.5,600.7 627.0,598.7 627.5,599.3 628.0,600.7 628.5,598.0 629.0,598.8 629.5,599.5 630.0,599.5 630.5,599.7 631.0,599.1 631.5,599.7 632.0,599.4 632.5,600.1 633.0,598.0 633.5,598.5 634.0,599.3 634.5,598.3 635.0,598.3 635.5,599.9 636.0,598.7 636.5,599.9 637.0,600.0 637.5,599.6 638.0,599.8 638.5,599.2 639.0,598.0 639.5,599.3 640.0,599.7 640.5,598.8 641.0,599.2 641.5,600.0 642.0,598.5 642.5,599.9 643.0,600.6 643.5,598.8 644.0,599.5 644.5,599.2 645.0,600.6 645.5,599.6 646.0,600.2 646.5,598.7 647.0,599.3 647.5,599.3 648.0,598.0 648.5,600.6 649.0,600.2 649.5,598.0 650.0,600.0 650.5,599.2 651.0,599.7 651.5,599.7 652.0,598.0 652.5,599.1 653.0,600.6 653.5,598.8 654.0,598.3 654.5,598.0 655.0,598.1 655.5,599.6 656.0,600.6 656.5,599.7 657.0,599.5 657.5,600.6 658.0,598.8 658.5,598.7 659.0,599.8 659.5,599.8 660.0,598.3 660.5,598.2 661.0,599.6 661.5,599.5 662.0,598.1 662.5,599.1 663.0,598.8 663.5,599.7 664.0,599.2 664.5,599.2 665.0,599.0 665.5,600.3 666.0,600.6 666.5,598.9 667.0,600.1 667.5,598.6 668.0,599.4 668.5,600.0 669.0,600.6 669.5,598.9 670.0,599.2 670.5,599.5 671.0,598.0 671.5,599.3 672.0,598.6 672.5,599.6 673.0,598.2 673.5,597.9 674.0,599.3 674.5,599.5 675.0,598.8 675.5,600.1 676.0,599.0 676.5,598.7 677.0,599.7 677.5,597.9 678.0,598.6 678.5,599.3 679.0,600.1 679.5,599.1 680.0,599.6 680.5,598.6 681.0,599.6 681.5,600.6 682.0,598.6 682.5,600.6 683.0,598.7 683.5,599.3 684.0,599.4 684.5,600.2 685.0,598.1 685.5,597.9 686.0,599.8 686.5,600.0 687.0,599.8 687.5,600.6 688.0,599.4 688.5,599.5 689.0,600.1 689.5,599.6 690.0,600.6 690.5,598.1 691.0,598.9 691.5,597.9 692.0,600.0 692.5,598.9 693.0,600.1 693.5,600.6 694.0,599.2 694.5,599.0 695.0,598.8 695.5,598.4 696.0,598.6 696.5,599.8 697.0,599.3 697.5,599.3 698.0,599.1 698.5,600.1 699.0,599.7 699.5,599.1 700.0,599.9 700.5,599.1 701.0,598.1 701.5,600.6 702.0,599.7 702.5,598.3 703.0,600.2 703.5,599.5 704.0,597.9 704.5,600.5 705.0,599.5 705.5,600.1 706.0,599.4 706.5,599.1 707.0,597.9 707.5,600.1 708.0,599.2 708.5,598.9 709.0,599.5 709.5,599.3 710.0,599.8 710.5,598.8 711.0,599.2 711.5,597.9 712.0,598.8 712.5,599.8 713.0,600.5 713.5,598.8 714.0,599.1 714.5,600.5 715.0,598.9 715.5,599.9 716.0,600.5 716.5,599.2 717.0,600.3 717.5,598.5 718.0,599.4 718.5,599.1 719.0,599.3 719.5,600.2 720.0,600.5 720.5,598.5 721.0,598.6 721.5,599.6 722.0,598.2 722.5,599.6 723.0,599.7 723.5,598.9 724.0,599.7 724.5,597.8 725.0,599.9 725.5,597.8 726.0,598.5 726.5,598.6 727.0,598.8 727.5,600.0 728.0,599.2 728.5,598.8 729.0,599.6 729.5,600.5 730.0,599.1 730.5,599.5 731.0,600.3 731.5,599.4 732.0,597.9 732.5,600.4 733.0,600.4 733.5,597.8 734.0,599.1 734.5,599.5 735.0,600.0 735.5,599.7 736.0,598.8 736.5,598.1 737.0,599.2 737.5,600.1 738.0,598.0 738.5,598.1 739.0,599.1 739.5,597.7 740.0,598.8 740.5,598.7 741.0,599.5 741.5,598.4 742.0,598.2 742.5,598.7 743.0,599.0 743.5,598.4 744.0,599.1 744.5,599.8 745.0,600.2 745.5,600.4 746.0,598.3 746.5,598.6 747.0,597.7 747.5,600.3 748.0,598.3 748.5,599.0 749.0,599.5 749.5,597.7 750.0,599.4 750.5,599.0 751.0,597.7 751.5,599.3 752.0,600.1 752.5,597.6 753.0,599.7 753.5,599.2 754.0,599.4 754.5,599.4 755.0,600.2 755.5,598.7 756.0,599.8 756.5,598.5 757.0,599.6 757.5,598.1 758.0,598.8 758.5,600.2 759.0,599.3 759.5,598.7 760.0,597.8 760.5,598.1 761.0,599.0 761.5,599.7 762.0,599.2 762.5,599.3 763.0,598.7 763.5,600.0 764.0,598.3 764.5,598.1 765.0,599.5 765.5,598.6 766.0,598.2 766.5,597.9 767.0,598.1 767.5,598.9 768.0,598.5 768.5,596.9 769.0,598.3 769.5,598.0 770.0,596.7 770.5,598.3 771.0,597.1 771.5,596.9 772.0,597.8 772.5,598.1 773.0,596.1 773.5,597.0 774.0,595.6 774.5,597.7 775.0,595.8 775.5,597.3 776.0,595.5 776.5,596.8 777.0,597.4 777.5,594.7 778.0,595.7 778.5,596.6 779.0,596.2 779.5,595.7 780.0,597.8 780.5,596.7 781.0,595.4 781.5,597.7 782.0,595.7 782.5,598.2 783.0,596.7 783.5,597.5 784.0,598.7 784.5,597.7 785.0,596.4 785.5,596.5 786.0,599.0 786.5,598.6 787.0,597.2 787.5,598.8 788.0,598.5 788.5,598.7 789.0,596.8 789.5,597.8 790.0,599.0 790.5,598.8 791.0,598.9 791.5,596.8 792.0,598.2 792.5,598.5 793.0,599.4 793.5,597.1 794.0,597.7 794.5,598.0 795.0,598.8 795.5,597.5 796.0,599.0 796.5,597.1 797.0,598.1 797.5,597.3 798.0,597.9 798.5,597.1 799.0,596.4 799.5,598.7 800.0,597.9 800.5,597.0 801.0,597.7 801.5,598.4 802.0,596.5 802.5,597.3 803.0,597.9 803.5,597.8 804.0,596.9 804.5,595.9 805.0,598.3 805.5,597.4 806.0,597.0 806.5,596.7 807.0,597.2 807.5,596.4 808.0,595.8 808.5,596.0 809.0,596.1 809.5,596.0 810.0,595.4 810.5,597.0 811.0,595.0 811.5,596.8 812.0,595.1 812.5,596.3 813.0,597.2 813.5,596.0 814.0,595.0 814.5,595.6 815.0,595.5 815.5,593.9 816.0,594.5 816.5,595.1 817.0,594.4 817.5,594.7 818.0,595.1 818.5,595.0 819.0,594.9 819.5,594.4 820.0,593.4 820.5,593.4 821.0,592.9 821.5,592.6 822.0,592.4 822.5,590.9 823.0,591.6 823.5,591.5 824.0,590.2 824.5,590.7 825.0,590.7 825.5,589.5 826.0,590.3 826.5,586.9 827.0,587.2 827.5,585.0 828.0,586.0 828.5,584.9 829.0,580.4 829.5,579.5 830.0,577.0 830.5,572.7 831.0,569.2 831.5,562.1 832.0,557.8 832.5,549.6 833.0,540.0 833.5,528.3 834.0,516.5 834.5,500.3 835.0,483.6 835.5,463.1 836.0,440.1 836.5,416.8 837.0,390.2 837.5,361.7 838.0,329.5 838.5,298.3 839.0,266.1 839.5,232.6 840.0,201.2 840.5,170.3 841.0,139.3 841.5,113.2 842.0,93.9 842.5,78.0 843.0,66.8 843.5,62.2 844.0,62.7 844.5,70.6 845.0,85.9 845.5,103.1 846.0,126.2 846.5,153.9 847.0,186.3 847.5,218.4 848.0,249.8 848.5,283.3 849.0,317.5 849.5,348.8 850.0,381.4 850.5,408.8 851.0,434.3 851.5,460.7 852.0,480.4 852.5,500.2 853.0,516.5 853.5,530.4 854.0,543.1 854.5,552.3 855.0,560.1 855.5,567.0 856.0,572.8 856.5,577.8 857.0,582.1 857.5,585.0 858.0,587.7 858.5,589.1 859.0,589.6 859.5,590.8 860.0,591.0 860.5,592.8 861.0,594.0 861.5,594.5 862.0,594.2 862.5,594.5 863.0,595.8 863.5,595.1 864.0,596.0 864.5,596.0 865.0,595.9 865.5,597.0 866.0,595.4 866.5,595.7 867.0,595.4 867.5,595.5 868.0,597.7 868.5,597.7 869.0,596.5 869.5,597.1 870.0,597.7 870.5,597.4 871.0,597.9 871.5,595.5 872.0,596.2 872.5,597.2 873.0,598.1 873.5,596.8 874.0,595.8 874.5,596.2 875.0,595.7 875.5,595.3 876.0,597.1 876.5,594.7 877.0,594.8 877.5,595.4 878.0,594.3 878.5,592.3 879.0,590.1 879.5,589.4 880.0,588.5 880.5,585.5 881.0,583.7 881.5,579.8 882.0,577.2 882.5,573.3 883.0,570.6 883.5,568.0 884.0,562.0 884.5,560.0 885.0,557.2 885.5,553.7 886.0,551.7 886.5,551.1 887.0,550.6 887.5,549.5 888.0,549.6 888.5,549.1 889.0,553.5 889.5,554.5 890.0,557.1 890.5,559.2 891.0,563.5 891.5,566.0 892.0,570.6 892.5,574.3 893.0,577.2 893.5,580.5 894.0,582.2 894.5,586.9 895.0,587.1 895.5,588.4 896.0,591.2 896.5,592.1 897.0,593.0 897.5,594.6 898.0,596.0 898.5,595.2 899.0,596.7 899.5,598.5 900.0,598.1 900.5,597.6 901.0,598.0 901.5,597.9 902.0,598.1 902.5,598.9 903.0,598.2 903.5,597.0 904.0,598.4 904.5,597.6 905.0,599.1 905.5,597.9 906.0,598.7 906.5,599.9 907.0,597.6 907.5,597.6 908.0,597.3 908.5,597.3 909.0,597.4 909.5,599.1 910.0,598.1 910.5,597.4 911.0,597.4 911.5,599.4 912.0,598.1 912.5,598.5 913.0,599.1 913.5,600.1 914.0,600.2 914.5,599.8 915.0,599.0 915.5,599.1 916.0,600.2 916.5,600.2 917.0,598.6 917.5,599.4 918.0,599.2 918.5,599.0 919.0,598.5 919.5,597.7 920.0,598.5 920.5,597.6 921.0,600.1 921.5,599.5 922.0,597.9 922.5,600.3 923.0,599.9 923.5,597.7 924.0,600.4 924.5,599.8 925.0,600.4 925.5,597.9 926.0,599.6 926.5,599.5 927.0,599.3 927.5,599.2 928.0,600.1 928.5,597.7 929.0,597.9 929.5,597.8 930.0,598.6 930.5,598.5 931.0,599.4 931.5,599.4 932.0,599.1 932.5,598.5 933.0,598.7 933.5,600.0 934.0,599.8 934.5,599.2 935.0,598.8 935.5,600.5 936.0,598.6 936.5,599.8 937.0,600.2 937.5,598.9 938.0,599.9 938.5,598.1 939.0,600.1 939.5,599.3 940.0,597.8 940.5,599.8 941.0,598.3 941.5,600.4 942.0,598.5 942.5,599.0 943.0,599.4 943.5,598.9 944.0,599.4 944.5,598.7 945.0,599.8 945.5,599.2 946.0,599.4 946.5,597.9 947.0,600.3 947.5,599.2 948.0,597.9 948.5,599.3 949.0,599.6 949.5,600.2 950.0,598.2 950.5,600.5 951.0,599.1 951.5,600.5 952.0,599.1 952.5,599.9 953.0,598.9 953.5,598.2 954.0,600.3 954.5,600.1 955.0,600.6 955.5,600.0 956.0,598.7 956.5,597.9 957.0,598.6 957.5,598.6 958.0,598.5 958.5,599.8 959.0,599.5 959.5,599.0 960.0,599.4 960.5,599.1 961.0,599.4 961.5,599.9 962.0,600.1 962.5,598.6 963.0,597.9 963.5,600.6 964.0,599.3 964.5,600.3 965.0,597.9 965.5,598.9 966.0,599.3 966.5,597.9 967.0,598.7 967.5,599.9 968.0,600.3 968.5,600.6 969.0,598.4 969.5,597.9 970.0,599.7 970.5,600.1 971.0,599.4 971.5,598.0 972.0,599.9 972.5,599.9 973.0,599.7 973.5,598.7 974.0,599.4 974.5,599.8 975.0,598.4 975.5,597.6 976.0,599.1 976.5,599.1 977.0,598.6 977.5,599.3 978.0,597.7 978.5,598.0 979.0,597.6 979.5,598.2 980.0,598.7 980.5,596.9 981.0,598.3 981.5,598.1 982.0,597.3 982.5,596.9 983.0,597.5 983.5,595.9 984.0,595.9 984.5,595.0 985.0,596.5 985.5,597.4 986.0,596.7 986.5,596.8 987.0,596.3 987.5,596.9 988.0,595.6 988.5,598.2 989.0,597.0 989.5,596.6 990.0,597.2 990.5,597.3 991.0,599.1 991.5,599.4 992.0,597.3 992.5,599.6 993.0,599.7 993.5,598.4 994.0,597.7 994.5,598.4 995.0,598.5 995.5,599.5 996.0,598.8 996.5,597.9 997.0,599.5 997.5,597.9 998.0,600.1 998.5,598.1 999.0,598.6 999.5,598.5 1000.0,598.8 1000.5,600.5 1001.0,600.1 1001.5,599.9 1002.0,599.6 1002.5,598.0 1003.0,598.8 1003.5,598.8 1004.0,598.4 1004.5,599.8 1005.0,598.6 1005.5,598.6 1006.0,598.3 1006.5,598.0 1007.0,599.9 1007.5,600.6 1008.0,599.5 1008.5,598.4 1009.0,598.0 1009.5,599.5 1010.0,600.5 1010.5,599.6 1011.0,600.2 1011.5,600.6 1012.0,600.4 1012.5,598.9 1013.0,600.3 1013.5,600.1 1014.0,598.0 1014.5,598.9 1015.0,598.0 1015.5,599.2 1016.0,599.9 1016.5,598.3 1017.0,598.0 1017.5,600.6 1018.0,599.7 1018.5,600.7 1019.0,598.1 1019.5,600.3 1020.0,600.7 1020.5,600.7 1021.0,599.1 1021.5,599.6 1022.0,599.2 1022.5,600.3 1023.0,600.3 1023.5,599.4 1024.0,598.0 1024.5,600.0 1025.0,598.9 1025.5,599.9 1026.0,599.6 1026.5,600.7 1027.0,600.4 1027.5,598.9 1028.0,599.7 1028.5,600.7 1029.0,598.8 1029.5,599.7 1030.0,600.5 1030.5,600.5 1031.0,599.8 1031.5,598.1 1032.0,598.1 1032.5,599.6 1033.0,599.7 1033.5,600.7 1034.0,598.5 1034.5,600.4 1035.0,600.1 1035.5,598.0 1036.0,598.6 1036.5,599.5 1037.0,598.9 1037.5,599.2 1038.0,599.8 1038.5,598.6 1039.0,599.8 1039.5,598.7 1040.0,598.8 1040.5,599.9 1041.0,598.8 1041.5,599.6 1042.0,600.7 1042.5,599.4 1043.0,599.2 1043.5,600.0 1044.0,599.0 1044.5,600.4 1045.0,598.1 1045.5,599.9 1046.0,598.9 1046.5,598.6 1047.0,600.7 1047.5,598.5 1048.0,600.7 1048.5,600.0 1049.0,600.7 1049.5,598.4 1050.0,600.5 1050.5,600.7 1051.0,599.2 1051.5,599.2 1052.0,600.7 1052.5,599.5 1053.0,598.9 1053.5,598.8 1054.0,599.8 1054.5,599.7 1055.0,599.5 1055.5,600.7 1056.0,599.0 1056.5,599.8 1057.0,600.7 1057.5,598.4 1058.0,600.3 1058.5,600.7 1059.0,598.1 1059.5,598.3 1060.0,598.4 1060.5,598.0 1061.0,599.8 1061.5,598.0 1062.0,599.8 1062.5,600.7 1063.0,598.0 1063.5,599.1 1064.0,598.0 1064.5,600.1 1065.0,598.7 1065.5,599.1 1066.0,599.4 1066.5,599.9 1067.0,599.0 1067.5,599.4 1068.0,598.8 1068.5,599.5 1069.0,598.2 1069.5,599.4 1070.0,598.0 1070.5,598.9 1071.0,600.7 1071.5,599.4 1072.0,598.2 1072.5,599.6 1073.0,598.4 1073.5,598.0 1074.0,598.7 1074.5,600.1 1075.0,599.7 1075.5,599.3 1076.0,598.5 1076.5,598.3 1077.0,600.6 1077.5,599.6 1078.0,598.5 1078.5,598.0 1079.0,598.1 1079.5,600.7 1080.0,598.3 1080.5,599.3 1081.0,599.6 1081.5,599.2 1082.0,599.1 1082.5,598.1 1083.0,598.4 1083.5,600.7 1084.0,598.6 1084.5,600.2 1085.0,598.0 1085.5,599.1 1086.0,599.6 1086.5,600.3 1087.0,598.3 1087.5,599.9 1088.0,599.7 1088.5,598.7 1089.0,599.8 1089.5,598.5 1090.0,598.6 1090.5,599.3 1091.0,598.0 1091.5,599.3 1092.0,598.4 1092.5,598.0 1093.0,599.0 1093.5,600.1 1094.0,599.0 1094.5,600.6 1095.0,598.3 1095.5,598.1 1096.0,600.7 1096.5,599.7 1097.0,600.3 1097.5,598.6 1098.0,600.1 1098.5,599.6 1099.0,600.0 1099.5,599.4 1100.0,600.5 1100.5,598.7 1101.0,598.4 1101.5,598.0 1102.0,600.5 1102.5,598.7 1103.0,598.4 1103.5,598.5 1104.0,598.9 1104.5,598.2 1105.0,599.1 1105.5,598.8 1106.0,598.8 1106.5,598.5 1107.0,599.4 1107.5,598.9 1108.0,599.5 1108.5,599.6 1109.0,599.7 1109.5,598.0 1110.0,598.9 1110.5,598.6 1111.0,600.1 1111.5,598.0 1112.0,598.7 1112.5,599.1 1113.0,599.0 1113.5,600.3 1114.0,598.9 1114.5,600.3 1115.0,598.0 1115.5,598.0 1116.0,600.5 1116.5,599.8 1117.0,599.8 1117.5,599.5 1118.0,599.8 1118.5,598.2 1119.0,600.3 1119.5,598.9 1120.0,600.3 1120.5,599.4 1121.0,598.0 1121.5,598.1 1122.0,600.4 1122.5,599.2 1123.0,599.0 1123.5,599.6 1124.0,599.0 1124.5,598.8 1125.0,599.5 1125.5,599.5 1126.0,600.7 1126.5,599.4 1127.0,600.7 1127.5,600.7 1128.0,600.7 1128.5,600.4 1129.0,599.5 1129.5,599.5 1130.0,599.2 1130.5,598.7 1131.0,599.3 1131.5,598.7 1132.0,600.7 1132.5,599.9 1133.0,598.9 1133.5,598.0 1134.0,599.3 1134.5,599.0 1135.0,598.3 1135.5,598.3 1136.0,598.0 1136.5,599.9 1137.0,599.3 1137.5,600.7 1138.0,599.3 1138.5,599.2 1139.0,600.7 1139.5,599.5 1140.0,599.5 1140.5,599.0 1141.0,598.7 1141.5,600.6 1142.0,600.2 1142.5,600.6 1143.0,598.9 1143.5,599.3 1144.0,598.4 1144.5,600.1 1145.0,597.9 1145.5,599.7 1146.0,600.2 1146.5,600.5 1147.0,598.2 1147.5,600.1 1148.0,598.4 1148.5,598.3 1149.0,597.7 1149.5,600.0 1150.0,600.2 1150.5,598.2 1151.0,598.0 1151.5,598.3 1152.0,599.9 1152.5,599.4 1153.0,597.8 1153.5,596.9 1154.0,597.5 1154.5,599.2 1155.0,599.3 1155.5,597.6 1156.0,597.1 1156.5,597.1 1157.0,596.2 1157.5,598.2 1158.0,596.2 1158.5,598.2 1159.0,595.7 1159.5,595.7 1160.0,597.1 1160.5,596.0 1161.0,597.4 1161.5,596.6 1162.0,595.4 1162.5,597.1 1163.0,597.2 1163.5,595.1 1164.0,597.7 1164.5,596.9 1165.0,597.1 1165.5,595.1 1166.0,595.8 1166.5,596.2 1167.0,597.6 1167.5,595.3 1168.0,595.9 1168.5,595.5 1169.0,596.7 1169.5,597.3 1170.0,595.8 1170.5,596.7 1171.0,597.8 1171.5,598.8 1172.0,598.2 1172.5,597.4 1173.0,596.7 1173.5,597.0 1174.0,597.4 1174.5,598.3 1175.0,598.2 1175.5,599.7 1176.0,598.7 1176.5,597.5 1177.0,599.9 1177.5,599.6 1178.0,598.8 1178.5,598.1 1179.0,597.5 1179.5,598.0 1180.0,599.8 1180.5,598.3 1181.0,597.8 1181.5,599.3 1182.0,599.4 1182.5,599.7 1183.0,599.8 1183.5,600.5 1184.0,598.4 1184.5,600.2 1185.0,598.3 1185.5,599.9 1186.0,599.5 1186.5,599.5 1187.0,600.2 1187.5,599.3 1188.0,600.4 1188.5,600.2 1189.0,599.5 1189.5,598.8 1190.0,598.6 1190.5,598.8 1191.0,599.2 1191.5,599.3 1192.0,600.7 1192.5,600.0 1193.0,600.1 1193.5,598.5 1194.0,598.7 1194.5,599.1 1195.0,599.5 1195.5,598.4 1196.0,600.7 1196.5,598.8 1197.0,600.4 1197.5,598.0 1198.0,599.4 1198.5,599.6 1199.0,599.5 1199.5,599.9 1200.0,599.6 1200.5,599.5 1201.0,598.0 1201.5,598.7 1202.0,598.0 1202.5,600.0 1203.0,599.7 1203.5,599.2 1204.0,598.6 1204.5,598.8 1205.0,600.7 1205.5,600.7 1206.0,599.3 1206.5,600.6 1207.0,598.0 1207.5,598.0 1208.0,598.9 1208.5,598.5 1209.0,598.8 1209.5,599.5 1210.0,600.7 1210.5,598.7 1211.0,599.4 1211.5,599.6 1212.0,599.3 1212.5,600.3 1213.0,600.7 1213.5,598.2 1214.0,599.5 1214.5,599.1 1215.0,599.7 1215.5,598.0 1216.0,598.0 1216.5,598.0 1217.0,599.9 1217.5,599.6 1218.0,599.4 1218.5,598.0 1219.0,599.0 1219.5,598.7 1220.0,598.0 1220.5,598.5 1221.0,600.0 1221.5,599.9 1222.0,599.4 1222.5,599.9 1223.0,598.8 1223.5,599.4 1224.0,599.4 1224.5,599.9 1225.0,599.3 1225.5,599.2 1226.0,599.2 1226.5,598.8 1227.0,600.7 1227.5,599.9 1228.0,599.8 1228.5,600.7 1229.0,600.7 1229.5,598.0 1230.0,600.0 1230.5,600.2 1231.0,600.7 1231.5,600.6 1232.0,600.1 1232.5,598.3 1233.0,598.6 1233.5,599.6 1234.0,599.9 1234.5,598.4 1235.0,599.0 1235.5,599.0 1236.0,599.4 1236.5,599.7 1237.0,599.1 1237.5,598.2 1238.0,600.6 1238.5,600.7 1239.0,599.3 1239.5,600.4 1240.0,599.8 1240.5,600.0 1241.0,599.8 1241.5,598.7 1242.0,599.9 1242.5,600.3 1243.0,598.5 1243.5,600.7 1244.0,600.7 1244.5,600.7 1245.0,600.7 1245.5,600.1 1246.0,599.1 1246.5,598.8 1247.0,598.6 1247.5,599.5 1248.0,599.3 1248.5,600.0 1249.0,598.0 1249.5,600.7 1250.0,600.7 1250.5,599.4 1251.0,600.0 1251.5,599.8 1252.0,599.6 1252.5,599.2 1253.0,599.3 1253.5,598.6 1254.0,599.5 1254.5,599.4 1255.0,599.7 1255.5,598.6 1256.0,599.4 1256.5,599.4 1257.0,600.0 1257.5,598.4 1258.0,599.8 1258.5,600.3 1259.0,599.9 1259.5,599.0 1260.0,598.9 1260.5,599.2 1261.0,600.1 1261.5,600.7 1262.0,599.2 1262.5,598.8 1263.0,599.7 1263.5,599.6 1264.0,598.5 1264.5,598.7 1265.0,599.3 1265.5,600.0 1266.0,598.2 1266.5,598.4 1267.0,599.9 1267.5,598.2 1268.0,599.5 1268.5,599.7 1269.0,599.3 1269.5,598.4 1270.0,599.3 1270.5,599.1 1271.0,599.7 1271.5,598.6 1272.0,600.4 1272.5,598.1 1273.0,599.2 1273.5,599.4 1274.0,600.3 1274.5,598.8 1275.0,599.9 1275.5,598.8 1276.0,600.1 1276.5,600.7 1277.0,599.0 1277.5,599.8 1278.0,598.5 1278.5,600.3 1279.0,600.5 1279.5,599.4 1280.0,598.3 1280.5,599.8 1281.0,600.5 1281.5,600.4 1282.0,600.2 1282.5,598.0 1283.0,598.7 1283.5,600.7 1284.0,598.2 1284.5,600.5 1285.0,600.7 1285.5,600.1 1286.0,600.4 1286.5,599.1 1287.0,598.2 1287.5,599.3 1288.0,599.2 1288.5,599.3 1289.0,600.0 1289.5,599.2 1290.0,599.6 1290.5,599.8 1291.0,599.4 1291.5,600.7 1292.0,599.8 1292.5,599.5 1293.0,599.2 1293.5,598.8 1294.0,600.7 1294.5,599.5 1295.0,598.4 1295.5,598.8 1296.0,599.2 1296.5,599.0 1297.0,600.4 1297.5,598.3 1298.0,599.8 1298.5,599.5 1299.0,598.3 1299.5,599.4 1300.0,599.3 1300.5,599.9 1301.0,599.0 1301.5,599.7 1302.0,598.0 1302.5,598.3 1303.0,600.1 1303.5,600.4 1304.0,599.4 1304.5,598.8 1305.0,600.4 1305.5,598.0 1306.0,598.6 1306.5,600.0 1307.0,600.0 1307.5,598.4 1308.0,598.0 1308.5,600.7 1309.0,599.5 1309.5,598.5 1310.0,599.4 1310.5,600.2 1311.0,598.0 1311.5,600.4 1312.0,600.1 1312.5,598.0 1313.0,600.1 1313.5,598.0 1314.0,600.5 1314.5,599.8 1315.0,600.7 1315.5,598.8 1316.0,599.4 1316.5,600.4 1317.0,598.8 1317.5,598.7 1318.0,599.0 1318.5,599.3 1319.0,598.3 1319.5,599.8 1320.0,599.9 1320.5,599.4 1321.0,600.7 1321.5,599.1 1322.0,600.6 1322.5,598.9 1323.0,600.1 1323.5,598.0 1324.0,599.6 1324.5,599.2 1325.0,598.9 1325.5,598.8 1326.0,599.0 1326.5,598.7 1327.0,598.0 1327.5,598.8 1328.0,598.9 1328.5,598.9 1329.0,598.4 1329.5,599.2 1330.0,600.1 1330.5,599.1 1331.0,598.9 1331.5,600.7 1332.0,600.3 1332.5,600.2 1333.0,600.5 1333.5,599.1 1334.0,599.2 1334.5,600.4 1335.0,598.8 1335.5,599.3 1336.0,599.7 1336.5,599.7 1337.0,599.1 1337.5,600.3 1338.0,599.2 1338.5,600.1 1339.0,600.4 1339.5,600.0 1340.0,600.1 1340.5,598.3 1341.0,598.1 1341.5,598.8 1342.0,599.8 1342.5,600.7 1343.0,598.2 1343.5,599.7 1344.0,598.6 1344.5,598.7 1345.0,599.1 1345.5,600.0 1346.0,599.6 1346.5,600.5 1347.0,598.4 1347.5,600.2 1348.0,600.2 1348.5,599.4 1349.0,599.8 1349.5,598.8 1350.0,598.3 1350.5,599.0 1351.0,598.7 1351.5,600.7 1352.0,598.9 1352.5,600.7 1353.0,599.5 1353.5,599.7 1354.0,600.1 1354.5,598.6 1355.0,600.2 1355.5,599.7 1356.0,598.0 1356.5,599.9 1357.0,599.9 1357.5,599.8 1358.0,600.7 1358.5,599.0 1359.0,599.8 1359.5,600.1 1360.0,598.5 1360.5,600.5 1361.0,598.0 1361.5,598.1 1362.0,599.8 1362.5,598.3 1363.0,599.2 1363.5,598.0 1364.0,599.4 1364.5,598.3 1365.0,599.7 1365.5,598.0 1366.0,599.8 1366.5,599.1 1367.0,599.4 1367.5,599.3 1368.0,599.4 1368.5,598.1 1369.0,598.0 1369.5,599.3 1370.0,598.4 1370.5,598.9 1371.0,599.7 1371.5,598.0 1372.0,598.6 1372.5,598.7 1373.0,598.3 1373.5,599.6 1374.0,599.1 1374.5,598.5 1375.0,598.3 1375.5,600.0 1376.0,598.6 1376.5,599.8 1377.0,599.7 1377.5,597.9 1378.0,598.2 1378.5,599.2 1379.0,599.5 1379.5,599.9 1380.0,599.8 1380.5,600.0 1381.0,598.6 1381.5,598.7 1382.0,599.6 1382.5,598.3 1383.0,599.6 1383.5,597.1 1384.0,598.9 1384.5,598.0 1385.0,596.6 1385.5,598.7 1386.0,597.8 1386.5,597.2 1387.0,595.9 1387.5,596.2 1388.0,597.6 1388.5,595.2 1389.0,594.3 1389.5,594.5 1390.0,593.8 1390.5,594.5 1391.0,593.9 1391.5,593.2 1392.0,593.0 1392.5,594.6 1393.0,592.1 1393.5,594.7 1394.0,592.9 1394.5,592.4 1395.0,594.3 1395.5,594.2 1396.0,592.9 1396.5,594.9 1397.0,593.1 1397.5,593.9 1398.0,596.1 1398.5,595.2 1399.0,594.5 1399.5,596.6 1400.0,597.3 1400.5,596.7 1401.0,595.7 1401.5,597.0 1402.0,598.0 1402.5,598.5 1403.0,599.4 1403.5,598.0 1404.0,597.9 1404.5,598.5 1405.0,599.8 1405.5,597.9 1406.0,600.1 1406.5,597.6 1407.0,599.7 1407.5,598.4 1408.0,599.5 1408.5,599.8 1409.0,598.0 1409.5,599.1 1410.0,599.4 1410.5,599.7 1411.0,598.3 1411.5,598.3 1412.0,597.9 1412.5,600.6 1413.0,599.0 1413.5,599.0 1414.0,597.9 1414.5,600.1 1415.0,598.7 1415.5,600.6 1416.0,600.0 1416.5,599.2 1417.0,599.9 1417.5,598.1 1418.0,598.9 1418.5,598.6 1419.0,597.9 1419.5,599.1 1420.0,598.9 1420.5,600.4 1421.0,597.7 1421.5,598.3 1422.0,598.0 1422.5,598.4 1423.0,599.1 1423.5,599.0 1424.0,598.6 1424.5,598.0 1425.0,598.8 1425.5,598.5 1426.0,596.7 1426.5,597.7 1427.0,596.5 1427.5,596.5 1428.0,597.6 1428.5,597.4 1429.0,597.3 1429.5,596.2 1430.0,596.7 1430.5,595.9 1431.0,597.0 1431.5,597.2 1432.0,597.8 1432.5,597.6 1433.0,595.6 1433.5,595.9 1434.0,595.5 1434.5,596.7 1435.0,597.7 1435.5,597.1 1436.0,595.2 1436.5,595.5 1437.0,595.5 1437.5,597.4 1438.0,597.0 1438.5,597.5 1439.0,598.6 1439.5,596.7 1440.0,596.8 1440.5,599.1 1441.0,598.2 1441.5,597.3 1442.0,596.9 1442.5,597.0 1443.0,597.1 1443.5,598.6 1444.0,598.7 1444.5,599.7 1445.0,598.7 1445.5,598.2 1446.0,598.2 1446.5,600.3 1447.0,597.7 1447.5,599.3 1448.0,599.2 1448.5,599.8 1449.0,598.8 1449.5,599.7 1450.0,600.0 1450.5,599.1 1451.0,598.8 1451.5,599.1 1452.0,598.4 1452.5,599.1 1453.0,599.0 1453.5,599.5 1454.0,600.6 1454.5,600.6 1455.0,598.9 1455.5,599.9 1456.0,599.6 1456.5,600.0 1457.0,599.3 1457.5,599.6 1458.0,598.9 1458.5,598.6 1459.0,600.2 1459.5,600.6 1460.0,600.0 1460.5,599.7 1461.0,599.6 1461.5,598.9 1462.0,598.0 1462.5,600.0 1463.0,599.5 1463.5,598.8 1464.0,598.4 1464.5,600.5 1465.0,598.0 1465.5,600.7 1466.0,599.9 1466.5,600.7 1467.0,598.7 1467.5,599.3 1468.0,598.9 1468.5,599.5 1469.0,599.1 1469.5,598.6 1470.0,600.4 1470.5,598.6 1471.0,598.9 1471.5,599.9 1472.0,598.8 1472.5,598.9 1473.0,599.7 1473.5,599.0 1474.0,598.2 1474.5,599.2 1475.0,599.1 1475.5,600.7 1476.0,598.3 1476.5,600.3 1477.0,598.6 1477.5,599.0 1478.0,599.0 1478.5,599.6 1479.0,600.2 1479.5,600.7 1480.0,598.7 1480.5,600.6 1481.0,600.3 1481.5,600.1 1482.0,598.6 1482.5,600.2 1483.0,599.2 1483.5,599.7 1484.0,599.1 1484.5,600.0 1485.0,600.4 1485.5,600.4 1486.0,599.1 1486.5,600.3 1487.0,600.7 1487.5,598.4 1488.0,600.7 1488.5,598.1 1489.0,599.8 1489.5,599.9 1490.0,600.6 1490.5,599.6 1491.0,598.9 1491.5,598.6 1492.0,598.1 1492.5,600.0 1493.0,599.1 1493.5,598.6 1494.0,599.8 1494.5,598.6 1495.0,598.9 1495.5,598.9 1496.0,600.6 1496.5,600.6 1497.0,599.2 1497.5,598.0 1498.0,599.6 1498.5,599.4 1499.0,599.6 1499.5,599.8 1500.0,599.0 1500.5,600.2 1501.0,600.1 1501.5,599.5 1502.0,598.9 1502.5,598.8 1503.0,599.9 1503.5,598.2 1504.0,599.1 1504.5,598.6 1505.0,598.0 1505.5,599.8 1506.0,599.2 1506.5,599.3 1507.0,600.1 1507.5,597.9 1508.0,599.2 1508.5,599.5 1509.0,600.0 1509.5,598.2 1510.0,599.9 1510.5,599.5 1511.0,600.5 1511.5,600.3 1512.0,599.8 1512.5,600.6 1513.0,599.2 1513.5,598.8 1514.0,598.9 1514.5,598.3 1515.0,599.2 1515.5,597.9 1516.0,599.1 1516.5,599.6 1517.0,600.1 1517.5,598.9 1518.0,600.5 1518.5,598.6 1519.0,599.1 1519.5,597.8 1520.0,598.4 1520.5,598.4 1521.0,600.5 1521.5,599.6 1522.0,598.1 1522.5,599.6 1523.0,599.6 1523.5,598.9 1524.0,599.1 1524.5,598.8 1525.0,598.6 1525.5,597.8 1526.0,599.0 1526.5,600.3 1527.0,600.4 1527.5,598.8 1528.0,598.3 1528.5,598.8 1529.0,599.8 1529.5,599.3 1530.0,598.4 1530.5,599.3 1531.0,598.8 1531.5,599.4 1532.0,598.5 1532.5,597.6 1533.0,598.9 1533.5,599.6 1534.0,597.8 1534.5,598.7 1535.0,599.6 1535.5,598.4 1536.0,598.1 1536.5,600.0 1537.0,599.3 1537.5,599.4 1538.0,597.5 1538.5,599.7 1539.0,596.9 1539.5,597.6 1540.0,598.7 1540.5,599.1 1541.0,596.8 1541.5,596.8 1542.0,597.4 1542.5,595.6 1543.0,597.3 1543.5,596.9 1544.0,595.6 1544.5,596.1 1545.0,595.9 1545.5,595.0 1546.0,594.6 1546.5,594.9 1547.0,592.5 1547.5,592.5 1548.0,591.2 1548.5,591.9 1549.0,589.8 1549.5,589.9 1550.0,588.8 1550.5,587.9 1551.0,588.4 1551.5,586.2 1552.0,586.8 1552.5,585.6 1553.0,585.4 1553.5,583.4 1554.0,583.9 1554.5,583.3 1555.0,581.7 1555.5,582.3 1556.0,581.8 1556.5,581.9 1557.0,583.2 1557.5,581.6 1558.0,581.3 1558.5,581.8 1559.0,583.2 1559.5,583.7 1560.0,585.0 1560.5,586.2 1561.0,587.8 1561.5,587.5 1562.0,588.4 1562.5,588.1 1563.0,590.1 1563.5,591.6 1564.0,592.3 1564.5,590.5 1565.0,593.3 1565.5,594.4 1566.0,594.5 1566.5,592.9 1567.0,594.5 1567.5,595.8 1568.0,596.1 1568.5,595.3 1569.0,595.6 1569.5,597.6 1570.0,595.8 1570.5,598.6 1571.0,597.5 1571.5,598.0 1572.0,596.6 1572.5,597.5 1573.0,598.8 1573.5,596.9 1574.0,599.7 1574.5,597.2 1575.0,597.4 1575.5,598.6 1576.0,599.1 1576.5,599.4 1577.0,598.4 1577.5,598.6 1578.0,598.6 1578.5,598.3 1579.0,597.5 1579.5,599.8 1580.0,599.1 1580.5,599.1 1581.0,598.4 1581.5,599.2 1582.0,599.0 1582.5,598.9 1583.0,600.0 1583.5,597.7 1584.0,599.3 1584.5,598.1 1585.0,598.8 1585.5,600.4 1586.0,598.1 1586.5,599.0 1587.0,598.6 1587.5,600.0 1588.0,598.2 1588.5,597.8 1589.0,599.6 1589.5,598.8 1590.0,598.9 1590.5,600.1 1591.0,598.3 1591.5,598.8 1592.0,599.3 1592.5,599.6 1593.0,598.7 1593.5,600.1 1594.0,600.5 1594.5,598.8 1595.0,600.5 1595.5,597.9 1596.0,600.5 1596.5,598.9 1597.0,599.3 1597.5,598.9 1598.0,598.6 1598.5,598.1 1599.0,598.9 1599.5,600.4 1600.0,600.3 1600.5,598.9 1601.0,598.8 1601.5,598.6 1602.0,598.2 1602.5,600.6 1603.0,599.9 1603.5,599.4 1604.0,598.8 1604.5,598.3 1605.0,600.5 1605.5,600.0 1606.0,598.4 1606.5,600.2 1607.0,598.3 1607.5,599.9 1608.0,598.4 1608.5,598.9 1609.0,599.7 1609.5,599.7 1610.0,600.2 1610.5,598.5 1611.0,600.6 1611.5,600.5 1612.0,599.3 1612.5,599.7 1613.0,598.6 1613.5,599.2 1614.0,598.1 1614.5,599.4 1615.0,599.5 1615.5,600.5 1616.0,600.2 1616.5,600.0 1617.0,599.0 1617.5,599.1 1618.0,599.0 1618.5,599.5 1619.0,598.0 1619.5,600.0 1620.0,598.0 1620.5,598.8 1621.0,599.3 1621.5,598.8 1622.0,600.6 1622.5,599.2 1623.0,600.6 1623.5,600.4 1624.0,598.9 1624.5,599.7 1625.0,600.5 1625.5,599.0 1626.0,599.4 1626.5,598.8 1627.0,599.4 1627.5,599.0 1628.0,599.4 1628.5,600.2 1629.0,600.6 1629.5,599.4 1630.0,599.5 1630.5,600.1 1631.0,599.1 1631.5,598.4 1632.0,600.3 1632.5,598.5 1633.0,600.2 1633.5,598.4 1634.0,600.7 1634.5,598.4 1635.0,600.1 1635.5,600.7 1636.0,598.5 1636.5,600.7 1637.0,598.6 1637.5,598.0 1638.0,600.0 1638.5,600.0 1639.0,599.1 1639.5,598.0 1640.0,599.3 1640.5,599.1 1641.0,599.0 1641.5,599.1 1642.0,598.0 1642.5,598.8 1643.0,600.7 1643.5,600.7 1644.0,599.0 1644.5,598.7 1645.0,599.7 1645.5,600.3 1646.0,600.0 1646.5,598.3 1647.0,599.5 1647.5,599.5 1648.0,600.6 1648.5,600.4 1649.0,599.8 1649.5,600.4 1650.0,599.0 1650.5,600.7 1651.0,598.9 1651.5,599.7 1652.0,600.2 1652.5,598.5 1653.0,598.7 1653.5,598.0 1654.0,599.5 1654.5,599.3 1655.0,599.0 1655.5,599.8 1656.0,598.0 1656.5,599.3 1657.0,599.4 1657.5,599.1 1658.0,600.0 1658.5,600.6 1659.0,598.9 1659.5,598.4 1660.0,598.7 1660.5,599.4 1661.0,599.8 1661.5,598.5 1662.0,600.1 1662.5,598.3 1663.0,600.0 1663.5,599.6 1664.0,599.6 1664.5,600.5 1665.0,598.9 1665.5,598.9 1666.0,599.5 1666.5,599.8 1667.0,597.7 1667.5,599.1 1668.0,598.1 1668.5,599.3 1669.0,599.9 1669.5,598.6 1670.0,598.4 1670.5,598.6 1671.0,597.0 1671.5,598.9 1672.0,598.6 1672.5,598.1 1673.0,597.4 1673.5,597.0 1674.0,597.4 1674.5,598.5 1675.0,597.1 1675.5,598.3 1676.0,595.6 1676.5,596.3 1677.0,596.9 1677.5,596.4 1678.0,595.0 1678.5,595.6 1679.0,597.2 1679.5,594.7 1680.0,594.9 1680.5,594.7 1681.0,595.1 1681.5,596.1 1682.0,596.0 1682.5,594.1 1683.0,596.7 1683.5,594.8 1684.0,594.8 1684.5,596.7 1685.0,595.3 1685.5,594.3 1686.0,595.0 1686.5,595.0 1687.0,594.8 1687.5,595.5 1688.0,596.8 1688.5,596.4 1689.0,595.0 1689.5,597.7 1690.0,595.6 1690.5,596.8 1691.0,596.8 1691.5,597.6 1692.0,596.8 1692.5,597.7 1693.0,598.7 1693.5,597.6 1694.0,596.7 1694.5,598.1 1695.0,597.1 1695.5,597.6 1696.0,598.2 1696.5,598.5 1697.0,598.0 1697.5,599.1 1698.0,598.2 1698.5,597.2 1699.0,599.2 1699.5,598.1 1700.0,599.6 1700.5,597.9 1701.0,599.0 1701.5,598.7 1702.0,597.1 1702.5,597.0 1703.0,597.3 1703.5,599.5 1704.0,596.9 1704.5,599.0 1705.0,599.1 1705.5,598.4 1706.0,598.5 1706.5,597.3 1707.0,597.7 1707.5,597.8 1708.0,597.9 1708.5,598.0 1709.0,597.1 1709.5,596.5 1710.0,596.5 1710.5,597.3 1711.0,595.4 1711.5,595.5 1712.0,596.1 1712.5,595.9 1713.0,596.0 1713.5,594.8 1714.0,595.7 1714.5,595.7 1715.0,596.6 1715.5,594.4 1716.0,595.4 1716.5,596.0 1717.0,596.0 1717.5,596.6 1718.0,596.4 1718.5,594.4 1719.0,596.0 1719.5,595.1 1720.0,594.6 1720.5,596.7 1721.0,594.8 1721.5,594.7 1722.0,595.1 1722.5,594.8 1723.0,596.5 1723.5,596.0 1724.0,597.1 1724.5,596.3 1725.0,595.4 1725.5,597.0 1726.0,595.6 1726.5,595.9 1727.0,596.3 1727.5,596.6 1728.0,597.8 1728.5,596.3 1729.0,597.3 1729.5,597.0 1730.0,596.0 1730.5,596.3 1731.0,597.2 1731.5,597.9 1732.0,598.0 1732.5,598.2 1733.0,597.9 1733.5,597.6 1734.0,598.5 1734.5,597.3 1735.0,597.1 1735.5,598.1 1736.0,597.2 1736.5,598.1 1737.0,597.9 1737.5,598.2 1738.0,598.7 1738.5,598.1 1739.0,598.5 1739.5,597.6 1740.0,599.1 1740.5,598.2 1741.0,599.4 1741.5,597.7 1742.0,598.4 1742.5,599.3 1743.0,597.8 1743.5,598.8 1744.0,599.3 1744.5,599.3 1745.0,597.9 1745.5,599.4 1746.0,599.4 1746.5,598.4 1747.0,600.0 1747.5,599.2 1748.0,599.3 1748.5,598.9 1749.0,599.8 1749.5,599.4 1750.0,600.4 1750.5,599.7 1751.0,598.8 1751.5,599.1 1752.0,600.2 1752.5,599.0 1753.0,599.7 1753.5,599.8 1754.0,599.2 1754.5,598.0 1755.0,599.5 1755.5,599.5 1756.0,599.5 1756.5,598.7 1757.0,600.5 1757.5,599.2 1758.0,598.8 1758.5,598.7 1759.0,599.7 1759.5,598.4 1760.0,598.4 1760.5,600.7 1761.0,600.6 1761.5,600.3 1762.0,600.6 1762.5,599.9 1763.0,598.0 1763.5,600.5 1764.0,600.5 1764.5,599.8 1765.0,598.0 1765.5,600.5 1766.0,600.6 1766.5,598.9 1767.0,599.5 1767.5,600.1 1768.0,599.3 1768.5,600.4 1769.0,599.4 1769.5,600.0 1770.0,599.4 1770.5,598.0 1771.0,598.5 1771.5,600.7 1772.0,599.6 1772.5,600.6 1773.0,600.4 1773.5,600.7 1774.0,599.9 1774.5,598.8 1775.0,599.4 1775.5,598.0 1776.0,599.2 1776.5,600.2 1777.0,598.0 1777.5,599.6 1778.0,600.1 1778.5,600.6 1779.0,598.5 1779.5,598.8 1780.0,598.0 1780.5,598.4 1781.0,599.9 1781.5,600.7 1782.0,598.3 1782.5,600.6 1783.0,599.8 1783.5,598.9 1784.0,600.7 1784.5,598.0 1785.0,599.3 1785.5,599.6 1786.0,600.7 1786.5,600.7 1787.0,600.7 1787.5,599.5 1788.0,600.3"/>
<polyline fill="none" stroke="#008000" stroke-width="6.8" stroke-linejoin="round" shape-rendering="crispEdges" points="325.0,1159.3 326.0,1159.3 327.0,1159.3 328.0,1159.3 329.0,1159.3 330.0,1159.3 331.0,1159.3 332.0,1159.3 333.0,1159.3 334.0,1159.3 335.0,1159.3 336.0,1159.3 337.0,1159.3 338.0,1159.3 339.0,1159.3 340.0,1159.3 341.0,1159.3 342.0,1159.3 343.0,1159.3 344.0,1159.3 345.0,1159.3 346.0,1159.3 347.0,1159.3 348.0,1159.3 349.0,1159.3 350.0,1159.3 351.0,1159.3 352.0,1159.3 353.0,1159.3 354.0,1159.3 355.0,1159.3 356.0,1159.3 357.0,1159.3 358.0,1159.3 359.0,1159.3 360.0,1159.3 361.0,1159.3 362.0,1159.3 363.0,1159.3 364.0,1159.3 365.0,1159.3 366.0,1159.3 367.0,1159.3 368.0,1159.3 369.0,1159.3 370.0,1159.3 371.0,1159.3 372.0,1159.3 373.0,1159.3 374.0,1159.3 375.0,1159.3 376.0,1159.3 377.0,1159.3 378.0,1159.3 379.0,1159.3 380.0,1159.3 381.0,1159.3 382.0,1159.3 383.0,1159.3 384.0,1159.3 385.0,1159.3 386.0,1159.3 387.0,1159.3 388.0,1159.3 389.0,1159.3 390.0,1159.3 391.0,1159.3 392.0,1159.3 393.0,1159.3 394.0,1159.3 395.0,1159.3 396.0,1159.3 397.0,1159.3 398.0,1159.3 399.0,1159.3 400.0,1159.3 401.0,1159.3 402.0,1159.3 403.0,1159.3 404.0,1159.3 405.0,1159.3 406.0,1159.3 407.0,1159.3 408.0,1159.3 409.0,1159.3 410.0,1159.3 411.0,1159.3 412.0,1159.3 413.0,1159.3 414.0,1159.3 415.0,1159.3 416.0,1159.3 417.0,1159.3 418.0,1159.3 419.0,1159.3 420.0,1159.3 421.0,1159.3 422.0,1159.3 423.0,1159.3 424.0,1159.3 425.0,1159.3 426.0,1159.3 427.0,1159.3 428.0,1159.3 429.0,1159.3 430.0,1159.3 431.0,1159.3 432.0,1159.3 433.0,1159.3 434.0,1159.3 435.0,1159.3 436.0,1159.3 437.0,1159.3 438.0,1159.3 439.0,1159.3 440.0,1159.3 441.0,1159.3 442.0,1159.3 443.0,1159.3 444.0,1159.3 445.0,1159.3 446.0,1159.3 447.0,1159.3 448.0,1159.3 449.0,1159.3 450.0,1159.3 451.0,1159.3 452.0,1159.3 453.0,1159.3 454.0,1159.3 455.0,1159.3 456.0,1159.3 457.0,1159.3 458.0,1159.3 459.0,1159.3 460.0,1159.3 461.0,1159.3 462.0,1159.3 463.0,1159.3 464.0,1159.3 465.0,1159.3 466.0,1159.3 467.0,1159.3 468.0,1159.3 469.0,1159.3 470.0,1159.3 471.0,1159.3 472.0,1159.3 473.0,1159.3 474.0,1159.3 475.0,1159.3 476.0,1159.3 477.0,1159.3 478.0,1159.3 479.0,1159.3 480.0,1159.3 481.0,1159.3 482.0,1159.3 483.0,1159.3 484.0,1159.3 485.0,1159.3 486.0,1159.3 487.0,1159.3 488.0,1159.3 489.0,1159.3 490.0,1159.3 491.0,1159.3 492.0,1159.3 493.0,1159.3 494.0,1159.3 495.0,1159.3 496.0,1159.3 497.0,1159.3 498.0,1159.3 499.0,1159.3 500.0,1159.3 501.0,1159.3 502.0,1159.3 503.0,1159.3 504.0,1159.3 505.0,1159.3 506.0,1159.3 507.0,1159.3 508.0,1159.3 509.0,1159.3 510.0,1159.3 511.0,1159.3 512.0,1159.3 513.0,1159.3 514.0,1159.3 515.0,1159.3 516.0,1159.3 517.0,1159.3 518.0,1159.3 519.0,1159.3 520.0,1159.3 521.0,1159.3 522.0,1159.3 523.0,1159.3 524.0,1159.3 525.0,1159.3 526.0,1159.3 527.0,1159.3 528.0,1159.3 529.0,1159.3 530.0,1159.3 531.0,1159.3 532.0,1159.3 533.0,1159.3 534.0,1159.3 535.0,1159.3 536.0,1159.3 537.0,1159.3 538.0,1159.3 539.0,1159.3 540.0,1159.3 541.0,1159.3 542.0,1159.3 543.0,1159.3 544.0,1159.3 545.0,1159.3 546.0,1159.3 547.0,1159.3 548.0,1159.3 549.0,1159.3 550.0,1159.3 551.0,1159.3 552.0,1159.3 553.0,1159.3 554.0,1159.3 555.0,1159.3 556.0,1159.3 557.0,1159.3 558.0,1159.3 559.0,1159.3 560.0,1159.3 561.0,1159.3 562.0,1159.3 563.0,1159.3 564.0,1159.3 565.0,1159.3 566.0,1159.3 567.0,1159.3 568.0,1159.3 569.0,1159.3 570.0,1159.3 571.0,1159.3 572.0,1159.3 573.0,1159.3 574.0,1159.3 575.0,1159.3 576.0,1159.3 577.0,1159.3 578.0,1159.3 579.0,1159.3 580.0,1159.3 581.0,1159.3 582.0,1159.3 583.0,1159.2 584.0,1159.2 585.0,1159.2 586.0,1159.2 587.0,1159.2 588.0,1159.2 589.0,1159.2 590.0,1159.2 591.0,1159.2 592.0,1159.2 593.0,1159.2 594.0,1159.2 595.0,1159.2 596.0,1159.2 597.0,1159.2 598.0,1159.2 599.0,1159.2 600.0,1159.2 601.0,1159.2 602.0,1159.2 603.0,1159.2 604.0,1159.2 605.0,1159.2 606.0,1159.2 607.0,1159.2 608.0,1159.2 609.0,1159.2 610.0,1159.2 611.0,1159.2 612.0,1159.2 613.0,1159.2 614.0,1159.2 615.0,1159.2 616.0,1159.2 617.0,1159.2 618.0,1159.2 619.0,1159.2 620.0,1159.2 621.0,1159.2 622.0,1159.2 623.0,1159.2 624.0,1159.2 625.0,1159.2 626.0,1159.2 627.0,1159.2 628.0,1159.2 629.0,1159.2 630.0,1159.2 631.0,1159.2 632.0,1159.2 633.0,1159.2 634.0,1159.2 635.0,1159.2 636.0,1159.2 637.0,1159.2 638.0,1159.2 639.0,1159.2 640.0,1159.2 641.0,1159.2 642.0,1159.2 643.0,1159.2 644.0,1159.2 645.0,1159.2 646.0,1159.2 647.0,1159.2 648.0,1159.2 649.0,1159.2 650.0,1159.2 651.0,1159.2 652.0,1159.2 653.0,1159.2 654.0,1159.2 655.0,1159.2 656.0,1159.2 657.0,1159.2 658.0,1159.2 659.0,1159.2 660.0,1159.2 661.0,1159.2 662.0,1159.2 663.0,1159.2 664.0,1159.2 665.0,1159.2 666.0,1159.2 667.0,1159.2 668.0,1159.2 669.0,1159.2 670.0,1159.2 671.0,1159.2 672.0,1159.2 673.0,1159.2 674.0,1159.2 675.0,1159.2 676.0,1159.2 677.0,1159.2 678.0,1159.2 679.0,1159.2 680.0,1159.2 681.0,1159.2 682.0,1159.2 683.0,1159.2 684.0,1159.2 685.0,1159.2 686.0,1159.2 687.0,1159.2 688.0,1159.2 689.0,1159.2 690.0,1159.2 691.0,1159.2 692.0,1159.2 693.0,1159.2 694.0,1159.1 695.0,1159.1 696.0,1159.1 697.0,1159.1 698.0,1159.1 699.0,1159.1 700.0,1159.1 701.0,1159.1 702.0,1159.1 703.0,1159.1 704.0,1159.1 705.0,1159.1 706.0,1159.1 707.0,1159.1 708.0,1159.1 709.0,1159.1 710.0,1159.1 711.0,1159.1 712.0,1159.1 713.0,1159.1 714.0,1159.1 715.0,1159.1 716.0,1159.1 717.0,1159.1 718.0,1159.1 719.0,1159.1 720.0,1159.1 721.0,1159.1 722.0,1159.1 723.0,1159.1 724.0,1159.1 725.0,1159.1 726.0,1159.1 727.0,1159.1 728.0,1159.0 729.0,1159.0 730.0,1159.0 731.0,1159.0 732.0,1159.0 733.0,1159.0 734.0,1159.0 735.0,1159.0 736.0,1159.0 737.0,1159.0 738.0,1159.0 739.0,1159.0 740.0,1159.0 741.0,1159.0 742.0,1159.0 743.0,1159.0 744.0,1159.0 745.0,1159.0 746.0,1158.9 747.0,1158.9 748.0,1158.9 749.0,1158.9 750.0,1158.9 751.0,1158.9 752.0,1158.9 753.0,1158.9 754.0,1158.9 755.0,1158.9 756.0,1158.9 757.0,1158.9 758.0,1158.8 759.0,1158.8 760.0,1158.8 761.0,1158.8 762.0,1158.8 763.0,1158.8 764.0,1158.8 765.0,1158.8 766.0,1158.7 767.0,1158.7 768.0,1158.7 769.0,1158.7 770.0,1158.7 771.0,1158.7 772.0,1158.6 773.0,1158.6 774.0,1158.6 775.0,1158.6 776.0,1158.6 777.0,1158.5 778.0,1158.5 779.0,1158.5 780.0,1158.5 781.0,1158.4 782.0,1158.4 783.0,1158.4 784.0,1158.4 785.0,1158.3 786.0,1158.3 787.0,1158.3 788.0,1158.2 789.0,1158.2 790.0,1158.1 791.0,1158.1 792.0,1158.0 793.0,1158.0 794.0,1157.9 795.0,1157.9 796.0,1157.8 797.0,1157.8 798.0,1157.7 799.0,1157.6 800.0,1157.5 801.0,1157.5 802.0,1157.4 803.0,1157.3 804.0,1157.2 805.0,1157.1 806.0,1156.9 807.0,1156.8 808.0,1156.7 809.0,1156.5 810.0,1156.4 811.0,1156.2 812.0,1156.0 813.0,1155.8 814.0,1155.5 815.0,1155.3 816.0,1155.0 817.0,1154.7 818.0,1154.3 819.0,1153.9 820.0,1153.5 821.0,1153.0 822.0,1152.4 823.0,1151.8 824.0,1151.0 825.0,1150.1 826.0,1148.9 827.0,1147.4 828.0,1145.3 829.0,1142.2 830.0,1137.6 831.0,1130.5 832.0,1119.7 833.0,1103.8 834.0,1081.1 835.0,1049.8 836.0,1008.8 837.0,958.0 838.0,898.6 839.0,833.7 840.0,768.2 841.0,708.9 842.0,663.7 843.0,640.1 844.0,642.6 845.0,670.1 846.0,717.8 847.0,778.8 848.0,845.6 849.0,911.4 850.0,971.3 851.0,1022.1 852.0,1062.5 853.0,1092.9 854.0,1114.6 855.0,1129.4 856.0,1139.0 857.0,1145.1 858.0,1148.8 859.0,1151.1 860.0,1152.6 861.0,1153.6 862.0,1154.2 863.0,1154.8 864.0,1155.2 865.0,1155.5 866.0,1155.8 867.0,1156.1 868.0,1156.3 869.0,1156.5 870.0,1156.7 871.0,1156.8 872.0,1156.9 873.0,1157.0 874.0,1157.0 875.0,1157.0 876.0,1156.8 877.0,1156.6 878.0,1156.1 879.0,1155.5 880.0,1154.7 881.0,1153.6 882.0,1152.3 883.0,1151.0 884.0,1149.6 885.0,1148.4 886.0,1147.4 887.0,1146.9 888.0,1147.0 889.0,1147.5 890.0,1148.6 891.0,1149.9 892.0,1151.4 893.0,1152.8 894.0,1154.2 895.0,1155.3 896.0,1156.3 897.0,1157.0 898.0,1157.5 899.0,1157.9 900.0,1158.2 901.0,1158.4 902.0,1158.5 903.0,1158.6 904.0,1158.6 905.0,1158.7 906.0,1158.7 907.0,1158.7 908.0,1158.7 909.0,1158.8 910.0,1158.8 911.0,1158.8 912.0,1158.8 913.0,1158.8 914.0,1158.9 915.0,1158.9 916.0,1158.9 917.0,1158.9 918.0,1158.9 919.0,1158.9 920.0,1158.9 921.0,1159.0 922.0,1159.0 923.0,1159.0 924.0,1159.0 925.0,1159.0 926.0,1159.0 927.0,1159.0 928.0,1159.0 929.0,1159.0 930.0,1159.0 931.0,1159.0 932.0,1159.0 933.0,1159.0 934.0,1159.1 935.0,1159.1 936.0,1159.1 937.0,1159.1 938.0,1159.1 939.0,1159.1 940.0,1159.1 941.0,1159.1 942.0,1159.1 943.0,1159.1 944.0,1159.1 945.0,1159.1 946.0,1159.1 947.0,1159.1 948.0,1159.1 949.0,1159.1 950.0,1159.1 951.0,1159.1 952.0,1159.1 953.0,1159.1 954.0,1159.1 955.0,1159.1 956.0,1159.1 957.0,1159.1 958.0,1159.1 959.0,1159.1 960.0,1159.2 961.0,1159.2 962.0,1159.2 963.0,1159.2 964.0,1159.2 965.0,1159.2 966.0,1159.2 967.0,1159.2 968.0,1159.2 969.0,1159.2 970.0,1159.2 971.0,1159.2 972.0,1159.2 973.0,1159.1 974.0,1159.1 975.0,1159.1 976.0,1159.0 977.0,1159.0 978.0,1158.9 979.0,1158.8 980.0,1158.6 981.0,1158.5 982.0,1158.4 983.0,1158.3 984.0,1158.2 985.0,1158.2 986.0,1158.3 987.0,1158.4 988.0,1158.5 989.0,1158.6 990.0,1158.8 991.0,1158.9 992.0,1159.0 993.0,1159.1 994.0,1159.1 995.0,1159.2 996.0,1159.2 997.0,1159.2 998.0,1159.2 999.0,1159.2 1000.0,1159.2 1001.0,1159.2 1002.0,1159.2 1003.0,1159.2 1004.0,1159.2 1005.0,1159.2 1006.0,1159.2 1007.0,1159.2 1008.0,1159.2 1009.0,1159.2 1010.0,1159.2 1011.0,1159.2 1012.0,1159.2 1013.0,1159.2 1014.0,1159.2 1015.0,1159.2 1016.0,1159.2 1017.0,1159.2 1018.0,1159.2 1019.0,1159.2 1020.0,1159.2 1021.0,1159.2 1022.0,1159.2 1023.0,1159.2 1024.0,1159.2 1025.0,1159.2 1026.0,1159.2 1027.0,1159.2 1028.0,1159.2 1029.0,1159.2 1030.0,1159.2 1031.0,1159.2 1032.0,1159.2 1033.0,1159.2 1034.0,1159.2 1035.0,1159.2 1036.0,1159.2 1037.0,1159.2 1038.0,1159.2 1039.0,1159.2 1040.0,1159.2 1041.0,1159.2 1042.0,1159.2 1043.0,1159.3 1044.0,1159.3 1045.0,1159.3 1046.0,1159.3 1047.0,1159.3 1048.0,1159.3 1049.0,1159.3 1050.0,1159.3 1051.0,1159.3 1052.0,1159.3 1053.0,1159.3 1054.0,1159.3 1055.0,1159.3 1056.0,1159.3 1057.0,1159.3 1058.0,1159.3 1059.0,1159.3 1060.0,1159.3 1061.0,1159.3 1062.0,1159.3 1063.0,1159.3 1064.0,1159.3 1065.0,1159.3 1066.0,1159.3 1067.0,1159.3 1068.0,1159.3 1069.0,1159.3 1070.0,1159.3 1071.0,1159.3 1072.0,1159.3 1073.0,1159.3 1074.0,1159.3 1075.0,1159.3 1076.0,1159.3 1077.0,1159.3 1078.0,1159.3 1079.0,1159.3 1080.0,1159.3 1081.0,1159.3 1082.0,1159.3 1083.0,1159.3 1084.0,1159.3 1085.0,1159.3 1086.0,1159.3 1087.0,1159.3 1088.0,1159.3 1089.0,1159.3 1090.0,1159.3 1091.0,1159.3 1092.0,1159.3 1093.0,1159.3 1094.0,1159.3 1095.0,1159.3 1096.0,1159.3 1097.0,1159.3 1098.0,1159.3 1099.0,1159.3 1100.0,1159.3 1101.0,1159.3 1102.0,1159.3 1103.0,1159.3 1104.0,1159.3 1105.0,1159.3 1106.0,1159.3 1107.0,1159.3 1108.0,1159.3 1109.0,1159.3 1110.0,1159.3 1111.0,1159.3 1112.0,1159.3 1113.0,1159.3 1114.0,1159.3 1115.0,1159.3 1116.0,1159.3 1117.0,1159.3 1118.0,1159.3 1119.0,1159.3 1120.0,1159.3 1121.0,1159.3 1122.0,1159.3 1123.0,1159.3 1124.0,1159.3 1125.0,1159.3 1126.0,1159.3 1127.0,1159.3 1128.0,1159.3 1129.0,1159.3 1130.0,1159.3 1131.0,1159.3 1132.0,1159.3 1133.0,1159.3 1134.0,1159.3 1135.0,1159.3 1136.0,1159.3 1137.0,1159.3 1138.0,1159.3 1139.0,1159.3 1140.0,1159.3 1141.0,1159.3 1142.0,1159.3 1143.0,1159.3 1144.0,1159.3 1145.0,1159.2 1146.0,1159.2 1147.0,1159.2 1148.0,1159.2 1149.0,1159.2 1150.0,1159.1 1151.0,1159.1 1152.0,1159.1 1153.0,1159.0 1154.0,1158.9 1155.0,1158.9 1156.0,1158.8 1157.0,1158.7 1158.0,1158.6 1159.0,1158.5 1160.0,1158.4 1161.0,1158.4 1162.0,1158.3 1163.0,1158.3 1164.0,1158.3 1165.0,1158.3 1166.0,1158.3 1167.0,1158.4 1168.0,1158.4 1169.0,1158.5 1170.0,1158.6 1171.0,1158.7 1172.0,1158.8 1173.0,1158.9 1174.0,1158.9 1175.0,1159.0 1176.0,1159.1 1177.0,1159.1 1178.0,1159.1 1179.0,1159.2 1180.0,1159.2 1181.0,1159.2 1182.0,1159.2 1183.0,1159.2 1184.0,1159.3 1185.0,1159.3 1186.0,1159.3 1187.0,1159.3 1188.0,1159.3 1189.0,1159.3 1190.0,1159.3 1191.0,1159.3 1192.0,1159.3 1193.0,1159.3 1194.0,1159.3 1195.0,1159.3 1196.0,1159.3 1197.0,1159.3 1198.0,1159.3 1199.0,1159.3 1200.0,1159.3 1201.0,1159.3 1202.0,1159.3 1203.0,1159.3 1204.0,1159.3 1205.0,1159.3 1206.0,1159.3 1207.0,1159.3 1208.0,1159.3 1209.0,1159.3 1210.0,1159.3 1211.0,1159.3 1212.0,1159.3 1213.0,1159.3 1214.0,1159.3 1215.0,1159.3 1216.0,1159.3 1217.0,1159.3 1218.0,1159.3 1219.0,1159.3 1220.0,1159.3 1221.0,1159.3 1222.0,1159.3 1223.0,1159.3 1224.0,1159.3 1225.0,1159.3 1226.0,1159.3 1227.0,1159.3 1228.0,1159.3 1229.0,1159.3 1230.0,1159.3 1231.0,1159.3 1232.0,1159.3 1233.0,1159.3 1234.0,1159.3 1235.0,1159.3 1236.0,1159.3 1237.0,1159.3 1238.0,1159.3 1239.0,1159.3 1240.0,1159.3 1241.0,1159.3 1242.0,1159.3 1243.0,1159.3 1244.0,1159.3 1245.0,1159.3 1246.0,1159.3 1247.0,1159.3 1248.0,1159.3 1249.0,1159.3 1250.0,1159.3 1251.0,1159.3 1252.0,1159.3 1253.0,1159.3 1254.0,1159.3 1255.0,1159.3 1256.0,1159.3 1257.0,1159.3 1258.0,1159.3 1259.0,1159.3 1260.0,1159.3 1261.0,1159.3 1262.0,1159.3 1263.0,1159.3 1264.0,1159.3 1265.0,1159.3 1266.0,1159.3 1267.0,1159.3 1268.0,1159.3 1269.0,1159.3 1270.0,1159.3 1271.0,1159.3 1272.0,1159.3 1273.0,1159.3 1274.0,1159.3 1275.0,1159.3 1276.0,1159.3 1277.0,1159.3 1278.0,1159.3 1279.0,1159.3 1280.0,1159.3 1281.0,1159.3 1282.0,1159.3 1283.0,1159.3 1284.0,1159.3 1285.0,1159.3 1286.0,1159.3 1287.0,1159.3 1288.0,1159.3 1289.0,1159.3 1290.0,1159.3 1291.0,1159.3 1292.0,1159.3 1293.0,1159.3 1294.0,1159.3 1295.0,1159.3 1296.0,1159.3 1297.0,1159.3 1298.0,1159.3 1299.0,1159.3 1300.0,1159.3 1301.0,1159.3 1302.0,1159.3 1303.0,1159.3 1304.0,1159.3 1305.0,1159.3 1306.0,1159.3 1307.0,1159.3 1308.0,1159.3 1309.0,1159.3 1310.0,1159.3 1311.0,1159.3 1312.0,1159.3 1313.0,1159.3 1314.0,1159.3 1315.0,1159.3 1316.0,1159.3 1317.0,1159.3 1318.0,1159.3 1319.0,1159.3 1320.0,1159.3 1321.0,1159.3 1322.0,1159.3 1323.0,1159.3 1324.0,1159.3 1325.0,1159.3 1326.0,1159.3 1327.0,1159.3 1328.0,1159.3 1329.0,1159.3 1330.0,1159.3 1331.0,1159.3 1332.0,1159.3 1333.0,1159.3 1334.0,1159.3 1335.0,1159.3 1336.0,1159.3 1337.0,1159.3 1338.0,1159.3 1339.0,1159.3 1340.0,1159.3 1341.0,1159.3 1342.0,1159.3 1343.0,1159.3 1344.0,1159.3 1345.0,1159.3 1346.0,1159.3 1347.0,1159.3 1348.0,1159.3 1349.0,1159.3 1350.0,1159.3 1351.0,1159.3 1352.0,1159.3 1353.0,1159.3 1354.0,1159.3 1355.0,1159.3 1356.0,1159.3 1357.0,1159.3 1358.0,1159.3 1359.0,1159.3 1360.0,1159.3 1361.0,1159.3 1362.0,1159.3 1363.0,1159.3 1364.0,1159.3 1365.0,1159.3 1366.0,1159.3 1367.0,1159.3 1368.0,1159.3 1369.0,1159.3 1370.0,1159.3 1371.0,1159.3 1372.0,1159.3 1373.0,1159.3 1374.0,1159.3 1375.0,1159.3 1376.0,1159.3 1377.0,1159.3 1378.0,1159.3 1379.0,1159.3 1380.0,1159.2 1381.0,1159.2 1382.0,1159.2 1383.0,1159.2 1384.0,1159.1 1385.0,1159.0 1386.0,1158.9 1387.0,1158.8 1388.0,1158.7 1389.0,1158.5 1390.0,1158.4 1391.0,1158.3 1392.0,1158.2 1393.0,1158.1 1394.0,1158.1 1395.0,1158.1 1396.0,1158.2 1397.0,1158.3 1398.0,1158.4 1399.0,1158.5 1400.0,1158.7 1401.0,1158.8 1402.0,1158.9 1403.0,1159.0 1404.0,1159.1 1405.0,1159.2 1406.0,1159.2 1407.0,1159.2 1408.0,1159.2 1409.0,1159.3 1410.0,1159.3 1411.0,1159.3 1412.0,1159.3 1413.0,1159.3 1414.0,1159.3 1415.0,1159.3 1416.0,1159.3 1417.0,1159.3 1418.0,1159.3 1419.0,1159.3 1420.0,1159.3 1421.0,1159.3 1422.0,1159.3 1423.0,1159.3 1424.0,1159.3 1425.0,1159.3 1426.0,1159.3 1427.0,1159.3 1428.0,1159.3 1429.0,1159.3 1430.0,1159.3 1431.0,1159.3 1432.0,1159.3 1433.0,1159.3 1434.0,1159.3 1435.0,1159.3 1436.0,1159.3 1437.0,1159.3 1438.0,1159.3 1439.0,1159.3 1440.0,1159.3 1441.0,1159.3 1442.0,1159.3 1443.0,1159.3 1444.0,1159.3 1445.0,1159.3 1446.0,1159.3 1447.0,1159.3 1448.0,1159.3 1449.0,1159.3 1450.0,1159.3 1451.0,1159.3 1452.0,1159.3 1453.0,1159.3 1454.0,1159.3 1455.0,1159.3 1456.0,1159.3 1457.0,1159.3 1458.0,1159.3 1459.0,1159.3 1460.0,1159.3 1461.0,1159.3 1462.0,1159.3 1463.0,1159.3 1464.0,1159.3 1465.0,1159.3 1466.0,1159.3 1467.0,1159.3 1468.0,1159.3 1469.0,1159.3 1470.0,1159.3 1471.0,1159.3 1472.0,1159.3 1473.0,1159.3 1474.0,1159.3 1475.0,1159.3 1476.0,1159.3 1477.0,1159.3 1478.0,1159.3 1479.0,1159.3 1480.0,1159.3 1481.0,1159.3 1482.0,1159.3 1483.0,1159.3 1484.0,1159.3 1485.0,1159.3 1486.0,1159.3 1487.0,1159.3 1488.0,1159.3 1489.0,1159.3 1490.0,1159.3 1491.0,1159.3 1492.0,1159.3 1493.0,1159.2 1494.0,1159.2 1495.0,1159.2 1496.0,1159.2 1497.0,1159.2 1498.0,1159.2 1499.0,1159.2 1500.0,1159.2 1501.0,1159.2 1502.0,1159.2 1503.0,1159.2 1504.0,1159.2 1505.0,1159.2 1506.0,1159.2 1507.0,1159.2 1508.0,1159.2 1509.0,1159.2 1510.0,1159.2 1511.0,1159.2 1512.0,1159.2 1513.0,1159.2 1514.0,1159.2 1515.0,1159.2 1516.0,1159.2 1517.0,1159.2 1518.0,1159.2 1519.0,1159.2 1520.0,1159.2 1521.0,1159.2 1522.0,1159.1 1523.0,1159.1 1524.0,1159.1 1525.0,1159.1 1526.0,1159.1 1527.0,1159.1 1528.0,1159.1 1529.0,1159.1 1530.0,1159.1 1531.0,1159.0 1532.0,1159.0 1533.0,1159.0 1534.0,1159.0 1535.0,1158.9 1536.0,1158.9 1537.0,1158.8 1538.0,1158.7 1539.0,1158.6 1540.0,1158.5 1541.0,1158.3 1542.0,1158.1 1543.0,1157.7 1544.0,1157.3 1545.0,1156.9 1546.0,1156.3 1547.0,1155.6 1548.0,1154.8 1549.0,1153.9 1550.0,1152.9 1551.0,1151.9 1552.0,1151.0 1553.0,1150.1 1554.0,1149.3 1555.0,1148.7 1556.0,1148.4 1557.0,1148.3 1558.0,1148.6 1559.0,1149.1 1560.0,1149.9 1561.0,1150.8 1562.0,1151.7 1563.0,1152.7 1564.0,1153.7 1565.0,1154.6 1566.0,1155.4 1567.0,1156.1 1568.0,1156.7 1569.0,1157.3 1570.0,1157.7 1571.0,1158.0 1572.0,1158.2 1573.0,1158.4 1574.0,1158.6 1575.0,1158.7 1576.0,1158.8 1577.0,1158.9 1578.0,1158.9 1579.0,1158.9 1580.0,1159.0 1581.0,1159.0 1582.0,1159.0 1583.0,1159.0 1584.0,1159.1 1585.0,1159.1 1586.0,1159.1 1587.0,1159.1 1588.0,1159.1 1589.0,1159.1 1590.0,1159.1 1591.0,1159.1 1592.0,1159.2 1593.0,1159.2 1594.0,1159.2 1595.0,1159.2 1596.0,1159.2 1597.0,1159.2 1598.0,1159.2 1599.0,1159.2 1600.0,1159.2 1601.0,1159.2 1602.0,1159.2 1603.0,1159.2 1604.0,1159.2 1605.0,1159.2 1606.0,1159.2 1607.0,1159.2 1608.0,1159.2 1609.0,1159.2 1610.0,1159.2 1611.0,1159.2 1612.0,1159.2 1613.0,1159.2 1614.0,1159.2 1615.0,1159.2 1616.0,1159.2 1617.0,1159.2 1618.0,1159.2 1619.0,1159.2 1620.0,1159.3 1621.0,1159.3 1622.0,1159.3 1623.0,1159.3 1624.0,1159.3 1625.0,1159.3 1626.0,1159.3 1627.0,1159.3 1628.0,1159.3 1629.0,1159.3 1630.0,1159.3 1631.0,1159.3 1632.0,1159.3 1633.0,1159.3 1634.0,1159.3 1635.0,1159.3 1636.0,1159.3 1637.0,1159.3 1638.0,1159.3 1639.0,1159.3 1640.0,1159.3 1641.0,1159.3 1642.0,1159.3 1643.0,1159.3 1644.0,1159.3 1645.0,1159.3 1646.0,1159.3 1647.0,1159.3 1648.0,1159.3 1649.0,1159.3 1650.0,1159.3 1651.0,1159.3 1652.0,1159.3 1653.0,1159.3 1654.0,1159.3 1655.0,1159.3 1656.0,1159.3 1657.0,1159.3 1658.0,1159.3 1659.0,1159.3 1660.0,1159.3 1661.0,1159.3 1662.0,1159.3 1663.0,1159.3 1664.0,1159.3 1665.0,1159.3 1666.0,1159.3 1667.0,1159.3 1668.0,1159.3 1669.0,1159.3 1670.0,1159.3 1671.0,1159.3 1672.0,1159.3 1673.0,1159.3 1674.0,1159.3 1675.0,1159.3 1676.0,1159.3 1677.0,1159.3 1678.0,1159.3 1679.0,1159.3 1680.0,1159.3 1681.0,1159.3 1682.0,1159.3 1683.0,1159.3 1684.0,1159.3 1685.0,1159.3 1686.0,1159.3 1687.0,1159.3 1688.0,1159.3 1689.0,1159.3 1690.0,1159.3 1691.0,1159.3 1692.0,1159.3 1693.0,1159.3 1694.0,1159.3 1695.0,1159.3 1696.0,1159.3 1697.0,1159.3 1698.0,1159.3 1699.0,1159.3 1700.0,1159.3 1701.0,1159.3 1702.0,1159.3 1703.0,1159.3 1704.0,1159.3 1705.0,1159.3 1706.0,1159.3 1707.0,1159.3 1708.0,1159.3 1709.0,1159.3 1710.0,1159.3 1711.0,1159.3 1712.0,1159.3 1713.0,1159.3 1714.0,1159.3 1715.0,1159.3 1716.0,1159.3 1717.0,1159.3 1718.0,1159.3 1719.0,1159.3 1720.0,1159.3 1721.0,1159.3 1722.0,1159.3 1723.0,1159.3 1724.0,1159.3 1725.0,1159.3 1726.0,1159.3 1727.0,1159.3 1728.0,1159.3 1729.0,1159.3 1730.0,1159.3 1731.0,1159.3 1732.0,1159.3 1733.0,1159.3 1734.0,1159.3 1735.0,1159.3 1736.0,1159.3 1737.0,1159.3 1738.0,1159.3 1739.0,1159.3 1740.0,1159.3 1741.0,1159.3 1742.0,1159.3 1743.0,1159.3 1744.0,1159.3 1745.0,1159.3 1746.0,1159.3 1747.0,1159.3 1748.0,1159.3 1749.0,1159.3 1750.0,1159.3 1751.0,1159.3 1752.0,1159.3 1753.0,1159.3 1754.0,1159.3 1755.0,1159.3 1756.0,1159.3 1757.0,1159.3 1758.0,1159.3 1759.0,1159.3 1760.0,1159.3 1761.0,1159.3 1762.0,1159.3 1763.0,1159.3 1764.0,1159.3 1765.0,1159.3 1766.0,1159.3 1767.0,1159.3 1768.0,1159.3 1769.0,1159.3 1770.0,1159.3 1771.0,1159.3 1772.0,1159.3 1773.0,1159.3 1774.0,1159.3 1775.0,1159.3 1776.0,1159.3 1777.0,1159.3 1778.0,1159.3 1779.0,1159.3 1780.0,1159.3 1781.0,1159.3 1782.0,1159.3 1783.0,1159.3 1784.0,1159.3 1785.0,1159.3 1786.0,1159.3 1787.0,1159.3 1788.0,1159.3"/><polyline fill="none" stroke="#008000" stroke-width="7.8" stroke-linejoin="round" shape-rendering="crispEdges" points="325.0,1160.0 325.5,1159.6 326.0,1159.5 326.5,1159.2 327.0,1159.1 327.5,1158.6 328.0,1160.1 328.5,1159.0 329.0,1158.5 329.5,1159.4 330.0,1159.3 330.5,1159.4 331.0,1160.1 331.5,1159.2 332.0,1159.1 332.5,1158.9 333.0,1159.3 333.5,1159.1 334.0,1159.4 334.5,1160.1 335.0,1159.5 335.5,1158.8 336.0,1160.1 336.5,1159.7 337.0,1159.7 337.5,1159.7 338.0,1159.7 338.5,1159.6 339.0,1160.0 339.5,1159.8 340.0,1160.0 340.5,1159.0 341.0,1159.3 341.5,1158.9 342.0,1159.8 342.5,1159.7 343.0,1159.0 343.5,1159.6 344.0,1160.1 344.5,1159.9 345.0,1158.7 345.5,1159.2 346.0,1159.6 346.5,1159.3 347.0,1159.5 347.5,1159.9 348.0,1159.5 348.5,1158.7 349.0,1159.7 349.5,1159.2 350.0,1159.3 350.5,1159.0 351.0,1158.5 351.5,1158.6 352.0,1159.1 352.5,1158.7 353.0,1158.5 353.5,1159.9 354.0,1158.7 354.5,1158.9 355.0,1159.6 355.5,1158.5 356.0,1160.0 356.5,1158.9 357.0,1159.6 357.5,1159.0 358.0,1159.4 358.5,1159.3 359.0,1159.3 359.5,1158.5 360.0,1158.5 360.5,1159.3 361.0,1160.0 361.5,1159.0 362.0,1159.6 362.5,1159.4 363.0,1159.5 363.5,1159.8 364.0,1158.5 364.5,1159.4 365.0,1159.2 365.5,1159.1 366.0,1158.8 366.5,1158.9 367.0,1158.7 367.5,1158.7 368.0,1160.1 368.5,1160.1 369.0,1159.3 369.5,1159.7 370.0,1158.8 370.5,1158.5 371.0,1158.5 371.5,1159.4 372.0,1160.1 372.5,1159.3 373.0,1158.7 373.5,1159.2 374.0,1158.7 374.5,1158.5 375.0,1159.2 375.5,1159.1 376.0,1158.8 376.5,1158.8 377.0,1158.8 377.5,1159.4 378.0,1160.0 378.5,1159.2 379.0,1160.1 379.5,1158.5 380.0,1159.4 380.5,1158.7 381.0,1159.2 381.5,1159.3 382.0,1159.6 382.5,1159.9 383.0,1159.0 383.5,1158.6 384.0,1159.2 384.5,1159.4 385.0,1158.9 385.5,1159.8 386.0,1160.1 386.5,1158.5 387.0,1159.5 387.5,1159.8 388.0,1158.5 388.5,1159.4 389.0,1159.2 389.5,1158.5 390.0,1160.0 390.5,1159.4 391.0,1159.0 391.5,1159.5 392.0,1159.6 392.5,1159.7 393.0,1159.6 393.5,1159.5 394.0,1158.7 394.5,1159.1 395.0,1159.4 395.5,1158.5 396.0,1160.1 396.5,1159.1 397.0,1158.7 397.5,1158.5 398.0,1159.4 398.5,1159.3 399.0,1159.0 399.5,1159.1 400.0,1158.8 400.5,1158.9 401.0,1159.2 401.5,1158.9 402.0,1159.6 402.5,1159.2 403.0,1159.4 403.5,1159.5 404.0,1160.0 404.5,1159.6 405.0,1159.4 405.5,1159.2 406.0,1158.9 406.5,1159.1 407.0,1159.6 407.5,1159.4 408.0,1159.1 408.5,1158.6 409.0,1158.5 409.5,1159.5 410.0,1159.8 410.5,1159.5 411.0,1158.5 411.5,1159.2 412.0,1159.4 412.5,1158.8 413.0,1159.5 413.5,1159.2 414.0,1158.8 414.5,1158.6 415.0,1159.7 415.5,1159.5 416.0,1158.8 416.5,1158.7 417.0,1159.8 417.5,1159.6 418.0,1159.1 418.5,1160.1 419.0,1159.1 419.5,1158.7 420.0,1159.9 420.5,1159.2 421.0,1159.5 421.5,1159.3 422.0,1158.7 422.5,1158.6 423.0,1159.2 423.5,1160.0 424.0,1158.7 424.5,1160.0 425.0,1159.4 425.5,1158.7 426.0,1159.4 426.5,1159.6 427.0,1158.8 427.5,1158.5 428.0,1159.5 428.5,1158.7 429.0,1159.5 429.5,1158.5 430.0,1159.2 430.5,1158.8 431.0,1158.5 431.5,1159.2 432.0,1159.4 432.5,1159.0 433.0,1158.6 433.5,1159.4 434.0,1158.5 434.5,1159.6 435.0,1159.5 435.5,1160.0 436.0,1159.8 436.5,1159.5 437.0,1159.4 437.5,1159.3 438.0,1158.6 438.5,1160.0 439.0,1159.6 439.5,1159.1 440.0,1158.7 440.5,1160.0 441.0,1159.6 441.5,1158.6 442.0,1159.6 442.5,1160.0 443.0,1159.3 443.5,1159.5 444.0,1159.1 444.5,1158.9 445.0,1159.9 445.5,1160.0 446.0,1159.3 446.5,1159.2 447.0,1159.7 447.5,1159.1 448.0,1159.7 448.5,1159.7 449.0,1158.7 449.5,1158.7 450.0,1159.2 450.5,1159.7 451.0,1159.4 451.5,1159.9 452.0,1158.5 452.5,1159.5 453.0,1158.9 453.5,1159.3 454.0,1159.4 454.5,1158.8 455.0,1159.2 455.5,1158.7 456.0,1159.4 456.5,1158.8 457.0,1159.0 457.5,1159.4 458.0,1158.9 458.5,1159.9 459.0,1158.9 459.5,1159.7 460.0,1159.4 460.5,1158.7 461.0,1159.2 461.5,1158.8 462.0,1159.1 462.5,1159.1 463.0,1160.0 463.5,1159.1 464.0,1160.0 464.5,1159.5 465.0,1158.6 465.5,1158.5 466.0,1159.6 466.5,1158.5 467.0,1159.7 467.5,1159.8 468.0,1159.5 468.5,1159.2 469.0,1159.1 469.5,1159.4 470.0,1159.1 470.5,1159.0 471.0,1159.1 471.5,1159.9 472.0,1158.9 472.5,1159.5 473.0,1158.7 473.5,1158.9 474.0,1158.5 474.5,1159.2 475.0,1159.6 475.5,1159.4 476.0,1159.0 476.5,1159.6 477.0,1159.1 477.5,1159.5 478.0,1159.4 478.5,1159.6 479.0,1158.5 479.5,1158.6 480.0,1159.7 480.5,1159.2 481.0,1160.0 481.5,1159.1 482.0,1159.0 482.5,1160.0 483.0,1159.6 483.5,1160.0 484.0,1159.5 484.5,1159.2 485.0,1159.7 485.5,1158.9 486.0,1159.0 486.5,1159.0 487.0,1159.2 487.5,1159.7 488.0,1159.0 488.5,1159.4 489.0,1159.0 489.5,1159.7 490.0,1158.5 490.5,1159.2 491.0,1159.4 491.5,1158.7 492.0,1159.8 492.5,1159.4 493.0,1160.0 493.5,1159.8 494.0,1159.6 494.5,1159.2 495.0,1158.7 495.5,1159.2 496.0,1159.0 496.5,1159.4 497.0,1159.0 497.5,1160.0 498.0,1158.5 498.5,1159.9 499.0,1159.0 499.5,1159.1 500.0,1159.8 500.5,1159.3 501.0,1158.6 501.5,1159.5 502.0,1159.2 502.5,1158.5 503.0,1159.4 503.5,1158.7 504.0,1158.9 504.5,1159.5 505.0,1159.4 505.5,1159.1 506.0,1160.0 506.5,1159.5 507.0,1158.9 507.5,1159.4 508.0,1159.2 508.5,1158.5 509.0,1158.5 509.5,1158.5 510.0,1160.0 510.5,1159.2 511.0,1159.1 511.5,1159.0 512.0,1159.8 512.5,1159.3 513.0,1160.0 513.5,1159.7 514.0,1160.0 514.5,1159.2 515.0,1159.5 515.5,1159.0 516.0,1159.2 516.5,1158.5 517.0,1159.0 517.5,1158.8 518.0,1158.9 518.5,1159.9 519.0,1159.4 519.5,1159.9 520.0,1159.7 520.5,1159.8 521.0,1159.8 521.5,1158.9 522.0,1159.7 522.5,1159.1 523.0,1159.0 523.5,1159.9 524.0,1160.0 524.5,1158.7 525.0,1160.0 525.5,1159.7 526.0,1158.8 526.5,1159.4 527.0,1159.5 527.5,1159.5 528.0,1159.1 528.5,1158.6 529.0,1159.3 529.5,1159.7 530.0,1159.7 530.5,1159.6 531.0,1159.8 531.5,1158.7 532.0,1159.2 532.5,1159.4 533.0,1159.8 533.5,1159.3 534.0,1159.5 534.5,1159.3 535.0,1160.0 535.5,1158.5 536.0,1159.3 536.5,1160.0 537.0,1159.4 537.5,1158.5 538.0,1159.3 538.5,1158.5 539.0,1158.9 539.5,1159.4 540.0,1160.0 540.5,1159.5 541.0,1159.6 541.5,1159.8 542.0,1159.4 542.5,1158.8 543.0,1159.2 543.5,1159.4 544.0,1159.1 544.5,1158.9 545.0,1159.1 545.5,1158.5 546.0,1158.7 546.5,1159.2 547.0,1159.1 547.5,1159.3 548.0,1160.0 548.5,1159.4 549.0,1159.2 549.5,1158.6 550.0,1158.7 550.5,1159.5 551.0,1158.8 551.5,1159.5 552.0,1158.7 552.5,1159.3 553.0,1159.2 553.5,1159.8 554.0,1159.1 554.5,1159.1 555.0,1159.4 555.5,1159.3 556.0,1160.0 556.5,1159.1 557.0,1159.0 557.5,1159.1 558.0,1159.5 558.5,1159.4 559.0,1159.6 559.5,1158.5 560.0,1160.0 560.5,1160.0 561.0,1159.2 561.5,1158.6 562.0,1159.3 562.5,1159.5 563.0,1158.5 563.5,1159.3 564.0,1158.5 564.5,1159.5 565.0,1160.0 565.5,1159.8 566.0,1158.5 566.5,1160.0 567.0,1159.7 567.5,1159.1 568.0,1159.5 568.5,1160.0 569.0,1159.1 569.5,1159.2 570.0,1159.0 570.5,1159.9 571.0,1158.5 571.5,1160.0 572.0,1158.7 572.5,1159.7 573.0,1158.5 573.5,1158.8 574.0,1158.9 574.5,1159.7 575.0,1158.5 575.5,1159.6 576.0,1158.9 576.5,1159.9 577.0,1159.1 577.5,1159.5 578.0,1159.2 578.5,1160.0 579.0,1159.1 579.5,1159.2 580.0,1160.0 580.5,1159.3 581.0,1159.6 581.5,1158.9 582.0,1159.4 582.5,1158.5 583.0,1159.3 583.5,1158.9 584.0,1158.5 584.5,1158.5 585.0,1159.9 585.5,1159.5 586.0,1158.5 586.5,1160.0 587.0,1158.9 587.5,1159.1 588.0,1159.4 588.5,1158.6 589.0,1158.5 589.5,1158.9 590.0,1159.9 590.5,1159.8 591.0,1158.5 591.5,1159.9 592.0,1159.3 592.5,1159.5 593.0,1159.3 593.5,1159.5 594.0,1158.7 594.5,1158.8 595.0,1158.9 595.5,1159.0 596.0,1159.6 596.5,1158.6 597.0,1160.0 597.5,1158.9 598.0,1158.9 598.5,1159.6 599.0,1159.5 599.5,1159.1 600.0,1158.7 600.5,1158.7 601.0,1158.5 601.5,1159.8 602.0,1159.8 602.5,1160.0 603.0,1159.5 603.5,1159.4 604.0,1159.6 604.5,1159.7 605.0,1159.1 605.5,1159.4 606.0,1160.0 606.5,1158.5 607.0,1158.5 607.5,1158.7 608.0,1159.6 608.5,1159.9 609.0,1159.1 609.5,1159.6 610.0,1159.2 610.5,1159.4 611.0,1159.0 611.5,1159.2 612.0,1159.2 612.5,1159.8 613.0,1160.0 613.5,1158.5 614.0,1159.5 614.5,1159.2 615.0,1159.7 615.5,1159.8 616.0,1159.6 616.5,1159.7 617.0,1158.7 617.5,1158.5 618.0,1160.0 618.5,1159.9 619.0,1158.7 619.5,1159.9 620.0,1159.6 620.5,1158.5 621.0,1159.7 621.5,1158.7 622.0,1159.8 622.5,1158.9 623.0,1158.8 623.5,1158.5 624.0,1159.1 624.5,1159.8 625.0,1158.9 625.5,1158.5 626.0,1160.0 626.5,1160.0 627.0,1159.6 627.5,1158.9 628.0,1158.6 628.5,1158.5 629.0,1159.5 629.5,1159.9 630.0,1158.7 630.5,1159.2 631.0,1159.1 631.5,1159.1 632.0,1159.5 632.5,1160.0 633.0,1158.9 633.5,1159.7 634.0,1159.8 634.5,1159.1 635.0,1159.1 635.5,1158.5 636.0,1159.8 636.5,1158.9 637.0,1158.9 637.5,1159.3 638.0,1158.8 638.5,1158.7 639.0,1159.1 639.5,1160.0 640.0,1159.1 640.5,1159.5 641.0,1158.4 641.5,1158.4 642.0,1160.0 642.5,1159.0 643.0,1158.4 643.5,1159.2 644.0,1159.5 644.5,1158.4 645.0,1158.7 645.5,1159.4 646.0,1158.7 646.5,1159.6 647.0,1159.7 647.5,1159.4 648.0,1159.0 648.5,1159.2 649.0,1158.9 649.5,1159.1 650.0,1159.4 650.5,1159.0 651.0,1159.7 651.5,1160.0 652.0,1158.9 652.5,1159.4 653.0,1159.6 653.5,1159.5 654.0,1159.1 654.5,1159.0 655.0,1159.7 655.5,1159.5 656.0,1159.5 656.5,1158.8 657.0,1159.5 657.5,1159.6 658.0,1159.1 658.5,1159.5 659.0,1160.0 659.5,1158.4 660.0,1159.5 660.5,1158.6 661.0,1158.5 661.5,1159.1 662.0,1159.5 662.5,1159.2 663.0,1158.6 663.5,1158.4 664.0,1158.9 664.5,1159.2 665.0,1158.8 665.5,1158.4 666.0,1160.0 666.5,1158.7 667.0,1159.1 667.5,1158.9 668.0,1158.9 668.5,1159.2 669.0,1159.0 669.5,1159.5 670.0,1158.6 670.5,1158.4 671.0,1160.0 671.5,1159.1 672.0,1159.6 672.5,1159.8 673.0,1159.5 673.5,1159.2 674.0,1158.4 674.5,1158.4 675.0,1159.7 675.5,1159.5 676.0,1159.5 676.5,1158.4 677.0,1158.4 677.5,1158.6 678.0,1158.5 678.5,1159.3 679.0,1158.6 679.5,1159.9 680.0,1158.8 680.5,1158.9 681.0,1159.6 681.5,1159.3 682.0,1158.7 682.5,1159.6 683.0,1159.9 683.5,1158.5 684.0,1159.0 684.5,1158.6 685.0,1158.4 685.5,1159.5 686.0,1159.5 686.5,1159.7 687.0,1159.4 687.5,1158.4 688.0,1159.1 688.5,1158.8 689.0,1158.5 689.5,1158.6 690.0,1159.6 690.5,1159.0 691.0,1159.9 691.5,1159.4 692.0,1158.4 692.5,1159.6 693.0,1159.8 693.5,1159.2 694.0,1158.5 694.5,1159.9 695.0,1158.4 695.5,1159.1 696.0,1158.4 696.5,1158.5 697.0,1158.4 697.5,1159.7 698.0,1159.8 698.5,1158.9 699.0,1158.4 699.5,1159.1 700.0,1159.3 700.5,1158.4 701.0,1158.5 701.5,1159.1 702.0,1159.5 702.5,1159.2 703.0,1159.4 703.5,1158.5 704.0,1158.4 704.5,1159.3 705.0,1158.6 705.5,1159.1 706.0,1158.9 706.5,1159.4 707.0,1158.7 707.5,1159.9 708.0,1159.1 708.5,1159.4 709.0,1159.5 709.5,1159.7 710.0,1159.3 710.5,1158.3 711.0,1158.8 711.5,1159.9 712.0,1159.4 712.5,1159.4 713.0,1159.4 713.5,1158.8 714.0,1158.7 714.5,1158.7 715.0,1159.7 715.5,1159.3 716.0,1159.9 716.5,1159.4 717.0,1159.9 717.5,1159.3 718.0,1158.4 718.5,1159.9 719.0,1159.3 719.5,1159.7 720.0,1159.2 720.5,1158.9 721.0,1159.2 721.5,1158.5 722.0,1158.4 722.5,1158.6 723.0,1158.8 723.5,1158.3 724.0,1159.0 724.5,1159.2 725.0,1159.8 725.5,1159.8 726.0,1159.0 726.5,1159.5 727.0,1158.9 727.5,1159.3 728.0,1159.0 728.5,1158.8 729.0,1159.1 729.5,1158.3 730.0,1159.3 730.5,1158.9 731.0,1158.4 731.5,1158.8 732.0,1159.3 732.5,1158.7 733.0,1159.3 733.5,1159.3 734.0,1159.8 734.5,1158.4 735.0,1159.0 735.5,1159.3 736.0,1159.8 736.5,1159.1 737.0,1159.4 737.5,1158.2 738.0,1158.7 738.5,1159.8 739.0,1158.8 739.5,1159.8 740.0,1158.6 740.5,1158.8 741.0,1158.2 741.5,1159.3 742.0,1159.1 742.5,1159.7 743.0,1159.1 743.5,1158.8 744.0,1158.2 744.5,1158.9 745.0,1159.5 745.5,1159.4 746.0,1159.6 746.5,1159.4 747.0,1158.9 747.5,1159.3 748.0,1159.0 748.5,1158.2 749.0,1159.7 749.5,1159.1 750.0,1158.3 750.5,1159.1 751.0,1159.1 751.5,1159.4 752.0,1159.7 752.5,1158.1 753.0,1159.2 753.5,1159.7 754.0,1158.4 754.5,1158.1 755.0,1159.0 755.5,1159.0 756.0,1159.1 756.5,1158.3 757.0,1158.6 757.5,1159.0 758.0,1159.2 758.5,1159.6 759.0,1159.0 759.5,1158.5 760.0,1158.0 760.5,1159.4 761.0,1158.7 761.5,1158.7 762.0,1158.3 762.5,1159.2 763.0,1158.0 763.5,1158.8 764.0,1158.8 764.5,1158.9 765.0,1159.5 765.5,1158.7 766.0,1158.8 766.5,1159.2 767.0,1158.0 767.5,1158.6 768.0,1158.7 768.5,1159.2 769.0,1158.3 769.5,1159.1 770.0,1158.9 770.5,1157.9 771.0,1157.9 771.5,1157.9 772.0,1158.7 772.5,1158.7 773.0,1159.0 773.5,1159.1 774.0,1158.3 774.5,1159.2 775.0,1159.0 775.5,1158.8 776.0,1158.8 776.5,1157.9 777.0,1158.7 777.5,1158.0 778.0,1157.9 778.5,1158.3 779.0,1158.6 779.5,1158.5 780.0,1158.3 780.5,1157.9 781.0,1158.5 781.5,1158.0 782.0,1157.6 782.5,1158.5 783.0,1159.2 783.5,1158.1 784.0,1157.8 784.5,1159.1 785.0,1159.1 785.5,1158.1 786.0,1158.2 786.5,1158.4 787.0,1159.0 787.5,1158.3 788.0,1158.8 788.5,1158.4 789.0,1157.4 789.5,1157.6 790.0,1157.5 790.5,1158.3 791.0,1158.1 791.5,1158.8 792.0,1157.9 792.5,1158.2 793.0,1158.0 793.5,1158.0 794.0,1158.7 794.5,1158.1 795.0,1158.7 795.5,1158.6 796.0,1157.5 796.5,1158.2 797.0,1157.6 797.5,1157.8 798.0,1157.8 798.5,1157.7 799.0,1157.4 799.5,1158.4 800.0,1157.4 800.5,1157.9 801.0,1158.2 801.5,1157.8 802.0,1157.9 802.5,1158.1 803.0,1157.9 803.5,1158.0 804.0,1156.4 804.5,1157.9 805.0,1157.1 805.5,1156.2 806.0,1156.6 806.5,1156.1 807.0,1156.8 807.5,1156.0 808.0,1156.1 808.5,1156.8 809.0,1156.6 809.5,1156.0 810.0,1156.2 810.5,1156.2 811.0,1156.2 811.5,1156.1 812.0,1155.9 812.5,1156.4 813.0,1155.0 813.5,1155.4 814.0,1155.6 814.5,1155.2 815.0,1155.0 815.5,1154.9 816.0,1155.1 816.5,1155.5 817.0,1154.6 817.5,1154.4 818.0,1154.5 818.5,1154.0 819.0,1153.2 819.5,1153.9 820.0,1153.3 820.5,1152.9 821.0,1153.3 821.5,1152.7 822.0,1152.1 822.5,1151.3 823.0,1151.0 823.5,1151.4 824.0,1150.9 824.5,1150.8 825.0,1150.2 825.5,1149.3 826.0,1148.2 826.5,1147.6 827.0,1147.3 827.5,1145.8 828.0,1145.7 828.5,1143.2 829.0,1141.4 829.5,1140.0 830.0,1136.8 830.5,1135.2 831.0,1129.9 831.5,1125.6 832.0,1119.6 832.5,1112.1 833.0,1103.1 833.5,1092.6 834.0,1081.5 834.5,1067.1 835.0,1050.5 835.5,1029.8 836.0,1009.1 836.5,984.6 837.0,958.5 837.5,929.0 838.0,899.0 838.5,867.1 839.0,834.0 839.5,801.4 840.0,768.1 840.5,738.1 841.0,708.5 841.5,684.8 842.0,662.9 842.5,648.8 843.0,639.7 843.5,638.1 844.0,643.2 844.5,653.9 845.0,670.2 845.5,692.6 846.0,717.1 846.5,746.7 847.0,779.6 847.5,812.1 848.0,844.8 848.5,879.2 849.0,910.8 849.5,943.1 850.0,971.9 850.5,997.6 851.0,1022.8 851.5,1043.1 852.0,1063.0 852.5,1079.2 853.0,1092.8 853.5,1104.0 854.0,1114.5 854.5,1122.0 855.0,1129.1 855.5,1134.0 856.0,1139.7 856.5,1141.9 857.0,1144.3 857.5,1147.5 858.0,1149.0 858.5,1149.8 859.0,1151.9 859.5,1152.4 860.0,1152.6 860.5,1152.8 861.0,1152.8 861.5,1154.2 862.0,1154.8 862.5,1154.2 863.0,1154.0 863.5,1154.9 864.0,1154.4 864.5,1155.4 865.0,1155.9 865.5,1156.4 866.0,1156.0 866.5,1156.1 867.0,1156.5 867.5,1157.0 868.0,1156.1 868.5,1155.7 869.0,1156.1 869.5,1155.9 870.0,1156.2 870.5,1156.7 871.0,1157.0 871.5,1156.9 872.0,1157.0 872.5,1156.8 873.0,1157.2 873.5,1157.5 874.0,1157.4 874.5,1157.8 875.0,1156.8 875.5,1156.8 876.0,1157.6 876.5,1156.8 877.0,1156.8 877.5,1156.2 878.0,1156.7 878.5,1155.6 879.0,1155.0 879.5,1155.1 880.0,1154.4 880.5,1154.6 881.0,1153.4 881.5,1153.1 882.0,1152.2 882.5,1151.9 883.0,1150.6 883.5,1150.9 884.0,1148.8 884.5,1148.7 885.0,1148.0 885.5,1148.2 886.0,1147.4 886.5,1147.4 887.0,1146.7 887.5,1146.5 888.0,1146.3 888.5,1147.0 889.0,1147.3 889.5,1148.2 890.0,1148.8 890.5,1149.7 891.0,1149.8 891.5,1150.2 892.0,1150.8 892.5,1152.1 893.0,1153.0 893.5,1154.3 894.0,1154.3 894.5,1155.5 895.0,1156.1 895.5,1155.2 896.0,1156.9 896.5,1157.3 897.0,1157.7 897.5,1157.3 898.0,1158.1 898.5,1157.5 899.0,1157.9 899.5,1158.1 900.0,1159.0 900.5,1158.2 901.0,1158.9 901.5,1158.5 902.0,1158.1 902.5,1158.7 903.0,1158.9 903.5,1158.2 904.0,1159.0 904.5,1158.2 905.0,1158.2 905.5,1158.8 906.0,1158.6 906.5,1158.2 907.0,1158.0 907.5,1158.7 908.0,1158.9 908.5,1158.5 909.0,1158.9 909.5,1158.0 910.0,1159.0 910.5,1159.0 911.0,1159.0 911.5,1158.5 912.0,1158.9 912.5,1158.9 913.0,1159.4 913.5,1159.0 914.0,1159.0 914.5,1158.5 915.0,1159.4 915.5,1159.5 916.0,1158.6 916.5,1159.3 917.0,1159.1 917.5,1158.9 918.0,1158.2 918.5,1159.7 919.0,1158.2 919.5,1159.1 920.0,1158.7 920.5,1159.6 921.0,1158.7 921.5,1159.0 922.0,1159.3 922.5,1159.2 923.0,1158.7 923.5,1159.4 924.0,1159.2 924.5,1159.5 925.0,1158.7 925.5,1159.0 926.0,1158.8 926.5,1158.5 927.0,1159.1 927.5,1159.2 928.0,1159.8 928.5,1158.8 929.0,1159.2 929.5,1159.7 930.0,1159.0 930.5,1159.1 931.0,1159.1 931.5,1158.7 932.0,1158.5 932.5,1159.7 933.0,1159.1 933.5,1159.0 934.0,1158.4 934.5,1159.1 935.0,1159.7 935.5,1158.4 936.0,1158.6 936.5,1159.7 937.0,1159.8 937.5,1159.8 938.0,1158.8 938.5,1159.4 939.0,1158.7 939.5,1159.4 940.0,1158.9 940.5,1159.2 941.0,1159.8 941.5,1159.3 942.0,1159.0 942.5,1159.1 943.0,1159.2 943.5,1158.8 944.0,1159.2 944.5,1159.4 945.0,1159.9 945.5,1158.3 946.0,1158.5 946.5,1158.4 947.0,1159.6 947.5,1159.9 948.0,1159.2 948.5,1159.2 949.0,1159.7 949.5,1158.4 950.0,1159.0 950.5,1158.4 951.0,1159.2 951.5,1158.9 952.0,1158.9 952.5,1159.3 953.0,1158.8 953.5,1159.7 954.0,1159.1 954.5,1159.3 955.0,1159.9 955.5,1158.9 956.0,1159.6 956.5,1158.7 957.0,1159.8 957.5,1159.7 958.0,1159.2 958.5,1159.7 959.0,1159.9 959.5,1159.9 960.0,1159.2 960.5,1159.1 961.0,1159.8 961.5,1158.4 962.0,1158.8 962.5,1159.4 963.0,1159.5 963.5,1159.9 964.0,1159.9 964.5,1159.3 965.0,1159.4 965.5,1158.4 966.0,1159.1 966.5,1159.3 967.0,1159.0 967.5,1159.2 968.0,1159.5 968.5,1158.6 969.0,1158.9 969.5,1158.4 970.0,1159.8 970.5,1158.6 971.0,1158.4 971.5,1159.6 972.0,1159.0 972.5,1159.7 973.0,1158.9 973.5,1159.9 974.0,1159.5 974.5,1159.2 975.0,1159.2 975.5,1159.0 976.0,1159.5 976.5,1159.8 977.0,1158.7 977.5,1158.3 978.0,1159.2 978.5,1159.4 979.0,1158.0 979.5,1158.3 980.0,1158.1 980.5,1158.9 981.0,1158.8 981.5,1158.0 982.0,1157.7 982.5,1158.7 983.0,1157.5 983.5,1158.6 984.0,1158.1 984.5,1159.0 985.0,1158.7 985.5,1157.9 986.0,1158.1 986.5,1158.2 987.0,1158.0 987.5,1158.5 988.0,1159.0 988.5,1157.8 989.0,1158.5 989.5,1159.5 990.0,1159.2 990.5,1158.4 991.0,1158.5 991.5,1158.5 992.0,1158.2 992.5,1159.7 993.0,1159.1 993.5,1158.7 994.0,1158.3 994.5,1158.9 995.0,1158.9 995.5,1159.9 996.0,1158.9 996.5,1159.2 997.0,1159.8 997.5,1159.6 998.0,1159.1 998.5,1158.4 999.0,1160.0 999.5,1159.5 1000.0,1159.0 1000.5,1159.2 1001.0,1158.7 1001.5,1158.7 1002.0,1158.4 1002.5,1159.5 1003.0,1159.5 1003.5,1159.3 1004.0,1159.6 1004.5,1159.5 1005.0,1159.3 1005.5,1158.7 1006.0,1159.5 1006.5,1159.9 1007.0,1159.6 1007.5,1159.9 1008.0,1159.0 1008.5,1158.7 1009.0,1159.9 1009.5,1158.9 1010.0,1159.4 1010.5,1159.1 1011.0,1159.2 1011.5,1159.1 1012.0,1158.9 1012.5,1158.5 1013.0,1160.0 1013.5,1159.3 1014.0,1158.5 1014.5,1158.7 1015.0,1158.6 1015.5,1158.8 1016.0,1158.5 1016.5,1159.5 1017.0,1160.0 1017.5,1159.1 1018.0,1159.6 1018.5,1159.6 1019.0,1158.6 1019.5,1159.9 1020.0,1158.5 1020.5,1158.9 1021.0,1159.0 1021.5,1159.9 1022.0,1159.3 1022.5,1159.2 1023.0,1158.8 1023.5,1159.3 1024.0,1159.3 1024.5,1159.6 1025.0,1160.0 1025.5,1159.6 1026.0,1159.2 1026.5,1159.2 1027.0,1160.0 1027.5,1159.3 1028.0,1159.2 1028.5,1160.0 1029.0,1160.0 1029.5,1159.5 1030.0,1159.2 1030.5,1158.9 1031.0,1159.8 1031.5,1159.0 1032.0,1159.8 1032.5,1158.8 1033.0,1159.3 1033.5,1159.5 1034.0,1159.3 1034.5,1159.4 1035.0,1159.5 1035.5,1158.6 1036.0,1158.6 1036.5,1159.2 1037.0,1160.0 1037.5,1159.2 1038.0,1158.7 1038.5,1158.9 1039.0,1159.3 1039.5,1159.9 1040.0,1158.9 1040.5,1159.6 1041.0,1159.3 1041.5,1159.1 1042.0,1158.7 1042.5,1159.2 1043.0,1158.9 1043.5,1159.5 1044.0,1158.5 1044.5,1159.9 1045.0,1159.7 1045.5,1159.6 1046.0,1160.0 1046.5,1159.6 1047.0,1158.5 1047.5,1159.3 1048.0,1159.5 1048.5,1158.9 1049.0,1158.6 1049.5,1159.5 1050.0,1159.5 1050.5,1159.0 1051.0,1159.1 1051.5,1159.0 1052.0,1158.9 1052.5,1159.2 1053.0,1159.8 1053.5,1158.5 1054.0,1159.1 1054.5,1160.0 1055.0,1159.4 1055.5,1159.3 1056.0,1159.7 1056.5,1158.7 1057.0,1158.6 1057.5,1158.5 1058.0,1158.5 1058.5,1159.4 1059.0,1159.7 1059.5,1159.0 1060.0,1158.9 1060.5,1159.5 1061.0,1159.6 1061.5,1159.4 1062.0,1158.5 1062.5,1159.0 1063.0,1158.5 1063.5,1159.4 1064.0,1158.8 1064.5,1158.9 1065.0,1160.0 1065.5,1160.0 1066.0,1159.5 1066.5,1159.4 1067.0,1159.4 1067.5,1158.9 1068.0,1159.2 1068.5,1160.0 1069.0,1158.8 1069.5,1158.9 1070.0,1159.3 1070.5,1159.7 1071.0,1159.7 1071.5,1158.7 1072.0,1159.2 1072.5,1159.1 1073.0,1158.6 1073.5,1159.3 1074.0,1159.0 1074.5,1159.8 1075.0,1159.5 1075.5,1158.8 1076.0,1159.3 1076.5,1159.1 1077.0,1158.9 1077.5,1159.0 1078.0,1159.8 1078.5,1159.0 1079.0,1158.5 1079.5,1158.8 1080.0,1159.7 1080.5,1160.0 1081.0,1158.7 1081.5,1159.1 1082.0,1159.1 1082.5,1158.5 1083.0,1159.5 1083.5,1159.2 1084.0,1159.4 1084.5,1160.0 1085.0,1159.1 1085.5,1159.7 1086.0,1159.7 1086.5,1158.9 1087.0,1158.9 1087.5,1160.0 1088.0,1159.6 1088.5,1159.3 1089.0,1158.7 1089.5,1159.7 1090.0,1159.5 1090.5,1160.0 1091.0,1160.0 1091.5,1159.7 1092.0,1159.4 1092.5,1159.3 1093.0,1159.0 1093.5,1159.4 1094.0,1159.4 1094.5,1159.6 1095.0,1159.8 1095.5,1159.4 1096.0,1159.0 1096.5,1159.7 1097.0,1160.0 1097.5,1158.8 1098.0,1159.5 1098.5,1159.6 1099.0,1159.6 1099.5,1159.5 1100.0,1159.2 1100.5,1159.2 1101.0,1160.0 1101.5,1160.0 1102.0,1158.5 1102.5,1158.5 1103.0,1159.5 1103.5,1158.9 1104.0,1159.0 1104.5,1158.5 1105.0,1159.5 1105.5,1159.2 1106.0,1159.0 1106.5,1159.8 1107.0,1160.0 1107.5,1160.0 1108.0,1159.9 1108.5,1159.0 1109.0,1159.6 1109.5,1159.2 1110.0,1159.9 1110.5,1159.6 1111.0,1159.3 1111.5,1159.6 1112.0,1158.9 1112.5,1159.7 1113.0,1160.0 1113.5,1159.1 1114.0,1159.6 1114.5,1158.5 1115.0,1159.8 1115.5,1159.7 1116.0,1158.7 1116.5,1160.0 1117.0,1159.3 1117.5,1158.5 1118.0,1158.5 1118.5,1159.7 1119.0,1159.1 1119.5,1159.9 1120.0,1158.5 1120.5,1159.2 1121.0,1159.8 1121.5,1158.9 1122.0,1159.6 1122.5,1159.1 1123.0,1159.5 1123.5,1159.4 1124.0,1160.0 1124.5,1158.6 1125.0,1159.7 1125.5,1160.0 1126.0,1158.7 1126.5,1159.3 1127.0,1160.0 1127.5,1159.8 1128.0,1158.5 1128.5,1159.1 1129.0,1158.5 1129.5,1159.4 1130.0,1158.9 1130.5,1159.0 1131.0,1158.8 1131.5,1159.4 1132.0,1159.0 1132.5,1158.8 1133.0,1159.1 1133.5,1159.5 1134.0,1158.8 1134.5,1159.9 1135.0,1158.5 1135.5,1159.5 1136.0,1159.1 1136.5,1160.0 1137.0,1158.9 1137.5,1158.9 1138.0,1158.6 1138.5,1160.0 1139.0,1159.6 1139.5,1158.7 1140.0,1159.1 1140.5,1158.8 1141.0,1160.0 1141.5,1159.5 1142.0,1158.5 1142.5,1159.4 1143.0,1159.7 1143.5,1159.3 1144.0,1159.5 1144.5,1159.2 1145.0,1159.4 1145.5,1159.4 1146.0,1158.9 1146.5,1159.4 1147.0,1159.3 1147.5,1159.2 1148.0,1158.8 1148.5,1158.6 1149.0,1159.3 1149.5,1159.6 1150.0,1158.4 1150.5,1158.8 1151.0,1159.8 1151.5,1159.6 1152.0,1158.7 1152.5,1159.8 1153.0,1158.5 1153.5,1158.5 1154.0,1159.7 1154.5,1158.7 1155.0,1158.7 1155.5,1158.1 1156.0,1158.2 1156.5,1158.1 1157.0,1158.6 1157.5,1157.9 1158.0,1159.2 1158.5,1158.4 1159.0,1158.2 1159.5,1158.1 1160.0,1158.8 1160.5,1159.2 1161.0,1158.2 1161.5,1159.1 1162.0,1159.1 1162.5,1159.0 1163.0,1158.5 1163.5,1157.5 1164.0,1158.6 1164.5,1158.1 1165.0,1158.4 1165.5,1157.5 1166.0,1158.2 1166.5,1158.5 1167.0,1157.9 1167.5,1158.6 1168.0,1159.2 1168.5,1158.6 1169.0,1158.2 1169.5,1159.3 1170.0,1157.8 1170.5,1158.2 1171.0,1158.9 1171.5,1158.4 1172.0,1158.0 1172.5,1159.0 1173.0,1159.3 1173.5,1158.5 1174.0,1159.7 1174.5,1159.2 1175.0,1159.6 1175.5,1158.3 1176.0,1159.1 1176.5,1159.9 1177.0,1159.9 1177.5,1159.8 1178.0,1159.1 1178.5,1159.3 1179.0,1158.8 1179.5,1159.8 1180.0,1158.8 1180.5,1159.3 1181.0,1158.5 1181.5,1158.5 1182.0,1160.0 1182.5,1159.3 1183.0,1159.4 1183.5,1158.5 1184.0,1159.2 1184.5,1160.0 1185.0,1158.5 1185.5,1158.5 1186.0,1159.2 1186.5,1159.0 1187.0,1159.2 1187.5,1158.6 1188.0,1158.5 1188.5,1158.6 1189.0,1159.6 1189.5,1159.2 1190.0,1159.7 1190.5,1158.7 1191.0,1159.6 1191.5,1159.0 1192.0,1159.3 1192.5,1159.8 1193.0,1159.3 1193.5,1159.1 1194.0,1158.5 1194.5,1159.3 1195.0,1159.7 1195.5,1158.9 1196.0,1159.2 1196.5,1158.5 1197.0,1158.6 1197.5,1159.5 1198.0,1160.0 1198.5,1159.1 1199.0,1158.5 1199.5,1159.1 1200.0,1158.5 1200.5,1159.1 1201.0,1160.0 1201.5,1159.4 1202.0,1159.2 1202.5,1159.8 1203.0,1159.1 1203.5,1159.5 1204.0,1159.4 1204.5,1159.5 1205.0,1158.5 1205.5,1159.7 1206.0,1159.8 1206.5,1158.5 1207.0,1158.5 1207.5,1158.8 1208.0,1160.1 1208.5,1159.3 1209.0,1159.6 1209.5,1159.6 1210.0,1159.8 1210.5,1158.9 1211.0,1159.0 1211.5,1159.5 1212.0,1159.6 1212.5,1159.6 1213.0,1159.5 1213.5,1159.0 1214.0,1159.9 1214.5,1159.5 1215.0,1159.9 1215.5,1158.5 1216.0,1159.8 1216.5,1158.5 1217.0,1159.4 1217.5,1158.9 1218.0,1159.3 1218.5,1159.0 1219.0,1159.1 1219.5,1159.4 1220.0,1159.5 1220.5,1158.9 1221.0,1158.5 1221.5,1158.9 1222.0,1159.6 1222.5,1158.8 1223.0,1159.5 1223.5,1159.1 1224.0,1158.8 1224.5,1159.9 1225.0,1160.1 1225.5,1159.2 1226.0,1159.3 1226.5,1159.8 1227.0,1158.6 1227.5,1158.8 1228.0,1159.9 1228.5,1159.8 1229.0,1159.0 1229.5,1158.9 1230.0,1159.5 1230.5,1158.5 1231.0,1159.0 1231.5,1159.2 1232.0,1158.5 1232.5,1159.6 1233.0,1159.7 1233.5,1159.9 1234.0,1158.5 1234.5,1158.6 1235.0,1158.8 1235.5,1158.6 1236.0,1160.1 1236.5,1158.8 1237.0,1159.1 1237.5,1159.4 1238.0,1159.5 1238.5,1160.1 1239.0,1158.7 1239.5,1159.8 1240.0,1159.4 1240.5,1158.6 1241.0,1159.4 1241.5,1158.5 1242.0,1160.1 1242.5,1158.9 1243.0,1159.8 1243.5,1160.0 1244.0,1158.9 1244.5,1158.8 1245.0,1159.4 1245.5,1158.7 1246.0,1159.8 1246.5,1159.4 1247.0,1158.9 1247.5,1158.9 1248.0,1159.7 1248.5,1158.5 1249.0,1160.1 1249.5,1158.9 1250.0,1159.2 1250.5,1158.8 1251.0,1160.1 1251.5,1159.7 1252.0,1160.0 1252.5,1159.6 1253.0,1159.3 1253.5,1160.1 1254.0,1159.6 1254.5,1159.5 1255.0,1159.6 1255.5,1159.7 1256.0,1159.4 1256.5,1159.2 1257.0,1158.5 1257.5,1160.1 1258.0,1158.6 1258.5,1158.5 1259.0,1158.9 1259.5,1160.1 1260.0,1160.0 1260.5,1159.0 1261.0,1159.4 1261.5,1159.3 1262.0,1158.5 1262.5,1159.1 1263.0,1159.4 1263.5,1159.9 1264.0,1158.6 1264.5,1158.5 1265.0,1158.5 1265.5,1159.5 1266.0,1159.3 1266.5,1159.4 1267.0,1159.4 1267.5,1159.1 1268.0,1158.5 1268.5,1159.5 1269.0,1159.5 1269.5,1159.6 1270.0,1160.0 1270.5,1158.6 1271.0,1158.5 1271.5,1158.5 1272.0,1160.1 1272.5,1158.8 1273.0,1159.5 1273.5,1159.3 1274.0,1159.7 1274.5,1160.1 1275.0,1159.0 1275.5,1159.2 1276.0,1159.0 1276.5,1159.4 1277.0,1159.6 1277.5,1158.8 1278.0,1160.0 1278.5,1159.9 1279.0,1159.5 1279.5,1159.2 1280.0,1159.2 1280.5,1158.5 1281.0,1159.6 1281.5,1158.8 1282.0,1159.0 1282.5,1159.8 1283.0,1158.8 1283.5,1159.0 1284.0,1159.8 1284.5,1160.1 1285.0,1158.9 1285.5,1159.9 1286.0,1158.9 1286.5,1159.5 1287.0,1159.6 1287.5,1158.7 1288.0,1159.9 1288.5,1160.1 1289.0,1159.3 1289.5,1159.4 1290.0,1158.6 1290.5,1160.1 1291.0,1159.3 1291.5,1158.6 1292.0,1159.7 1292.5,1158.5 1293.0,1158.9 1293.5,1158.5 1294.0,1160.0 1294.5,1160.1 1295.0,1158.9 1295.5,1158.9 1296.0,1159.0 1296.5,1159.0 1297.0,1159.6 1297.5,1160.1 1298.0,1158.7 1298.5,1159.5 1299.0,1158.5 1299.5,1160.1 1300.0,1159.2 1300.5,1158.9 1301.0,1160.1 1301.5,1159.2 1302.0,1160.0 1302.5,1159.9 1303.0,1160.1 1303.5,1158.8 1304.0,1159.3 1304.5,1159.5 1305.0,1159.2 1305.5,1160.1 1306.0,1158.9 1306.5,1159.8 1307.0,1160.0 1307.5,1158.5 1308.0,1158.8 1308.5,1158.8 1309.0,1159.0 1309.5,1159.5 1310.0,1159.2 1310.5,1159.3 1311.0,1159.0 1311.5,1159.2 1312.0,1159.6 1312.5,1159.7 1313.0,1158.9 1313.5,1159.2 1314.0,1158.9 1314.5,1159.2 1315.0,1158.5 1315.5,1159.8 1316.0,1159.7 1316.5,1159.2 1317.0,1158.9 1317.5,1159.0 1318.0,1158.9 1318.5,1158.5 1319.0,1160.1 1319.5,1160.1 1320.0,1158.6 1320.5,1158.6 1321.0,1159.6 1321.5,1159.6 1322.0,1158.5 1322.5,1158.5 1323.0,1159.6 1323.5,1158.5 1324.0,1160.1 1324.5,1159.0 1325.0,1159.3 1325.5,1159.3 1326.0,1159.0 1326.5,1159.2 1327.0,1159.1 1327.5,1160.0 1328.0,1159.2 1328.5,1159.3 1329.0,1159.0 1329.5,1158.9 1330.0,1158.9 1330.5,1159.3 1331.0,1160.1 1331.5,1159.9 1332.0,1159.4 1332.5,1160.1 1333.0,1159.8 1333.5,1159.4 1334.0,1159.2 1334.5,1158.7 1335.0,1159.4 1335.5,1159.1 1336.0,1158.5 1336.5,1158.6 1337.0,1160.1 1337.5,1159.4 1338.0,1159.6 1338.5,1159.4 1339.0,1159.0 1339.5,1159.5 1340.0,1159.9 1340.5,1159.1 1341.0,1159.6 1341.5,1159.9 1342.0,1159.0 1342.5,1159.4 1343.0,1158.9 1343.5,1159.6 1344.0,1159.1 1344.5,1159.9 1345.0,1158.9 1345.5,1160.1 1346.0,1159.1 1346.5,1158.8 1347.0,1158.8 1347.5,1159.7 1348.0,1158.8 1348.5,1160.1 1349.0,1160.0 1349.5,1159.6 1350.0,1158.5 1350.5,1159.3 1351.0,1158.9 1351.5,1158.5 1352.0,1159.5 1352.5,1160.1 1353.0,1159.0 1353.5,1159.7 1354.0,1160.0 1354.5,1158.8 1355.0,1159.1 1355.5,1159.4 1356.0,1159.5 1356.5,1158.7 1357.0,1159.4 1357.5,1159.2 1358.0,1159.8 1358.5,1158.5 1359.0,1159.0 1359.5,1159.0 1360.0,1159.1 1360.5,1159.7 1361.0,1158.9 1361.5,1160.1 1362.0,1158.9 1362.5,1159.7 1363.0,1159.8 1363.5,1159.8 1364.0,1159.2 1364.5,1158.8 1365.0,1159.1 1365.5,1159.6 1366.0,1159.3 1366.5,1159.6 1367.0,1159.6 1367.5,1158.8 1368.0,1158.8 1368.5,1160.1 1369.0,1159.0 1369.5,1158.5 1370.0,1160.1 1370.5,1158.8 1371.0,1158.8 1371.5,1159.8 1372.0,1158.7 1372.5,1158.8 1373.0,1159.9 1373.5,1158.8 1374.0,1160.0 1374.5,1159.3 1375.0,1160.0 1375.5,1159.3 1376.0,1159.3 1376.5,1158.9 1377.0,1159.1 1377.5,1159.0 1378.0,1159.3 1378.5,1159.7 1379.0,1158.6 1379.5,1158.7 1380.0,1158.5 1380.5,1160.0 1381.0,1159.2 1381.5,1159.2 1382.0,1159.2 1382.5,1159.7 1383.0,1159.3 1383.5,1159.6 1384.0,1159.0 1384.5,1159.0 1385.0,1159.0 1385.5,1158.2 1386.0,1159.5 1386.5,1158.1 1387.0,1158.3 1387.5,1159.1 1388.0,1158.7 1388.5,1159.1 1389.0,1159.3 1389.5,1159.2 1390.0,1159.2 1390.5,1158.2 1391.0,1159.1 1391.5,1157.7 1392.0,1158.1 1392.5,1158.7 1393.0,1158.0 1393.5,1158.0 1394.0,1157.9 1394.5,1158.8 1395.0,1157.3 1395.5,1158.8 1396.0,1158.8 1396.5,1158.2 1397.0,1158.6 1397.5,1157.8 1398.0,1159.0 1398.5,1159.2 1399.0,1158.0 1399.5,1159.4 1400.0,1158.7 1400.5,1158.6 1401.0,1158.5 1401.5,1158.8 1402.0,1158.2 1402.5,1158.2 1403.0,1159.8 1403.5,1159.1 1404.0,1159.4 1404.5,1159.3 1405.0,1159.4 1405.5,1158.4 1406.0,1158.7 1406.5,1159.6 1407.0,1159.8 1407.5,1158.6 1408.0,1158.9 1408.5,1158.7 1409.0,1159.6 1409.5,1159.4 1410.0,1159.3 1410.5,1158.9 1411.0,1159.5 1411.5,1159.3 1412.0,1158.9 1412.5,1159.5 1413.0,1158.9 1413.5,1159.8 1414.0,1159.6 1414.5,1158.9 1415.0,1159.6 1415.5,1159.3 1416.0,1158.9 1416.5,1158.8 1417.0,1158.5 1417.5,1158.7 1418.0,1159.5 1418.5,1159.9 1419.0,1158.9 1419.5,1159.4 1420.0,1159.5 1420.5,1159.7 1421.0,1159.5 1421.5,1160.0 1422.0,1159.7 1422.5,1158.9 1423.0,1159.5 1423.5,1158.5 1424.0,1159.2 1424.5,1159.3 1425.0,1159.6 1425.5,1159.1 1426.0,1159.7 1426.5,1160.0 1427.0,1158.8 1427.5,1159.0 1428.0,1159.4 1428.5,1159.5 1429.0,1159.4 1429.5,1159.7 1430.0,1158.6 1430.5,1159.7 1431.0,1159.9 1431.5,1159.9 1432.0,1159.5 1432.5,1159.1 1433.0,1159.5 1433.5,1159.2 1434.0,1158.5 1434.5,1158.9 1435.0,1159.3 1435.5,1159.0 1436.0,1158.8 1436.5,1159.2 1437.0,1159.1 1437.5,1159.3 1438.0,1159.3 1438.5,1159.4 1439.0,1159.8 1439.5,1159.4 1440.0,1159.5 1440.5,1158.6 1441.0,1158.5 1441.5,1159.1 1442.0,1159.7 1442.5,1159.1 1443.0,1158.9 1443.5,1158.6 1444.0,1159.8 1444.5,1159.0 1445.0,1159.4 1445.5,1159.9 1446.0,1159.6 1446.5,1160.0 1447.0,1159.2 1447.5,1159.8 1448.0,1159.7 1448.5,1158.9 1449.0,1159.3 1449.5,1159.0 1450.0,1158.7 1450.5,1159.4 1451.0,1158.9 1451.5,1160.0 1452.0,1158.9 1452.5,1159.0 1453.0,1159.3 1453.5,1159.0 1454.0,1159.3 1454.5,1158.9 1455.0,1158.5 1455.5,1158.5 1456.0,1158.6 1456.5,1160.0 1457.0,1159.5 1457.5,1159.4 1458.0,1159.0 1458.5,1159.2 1459.0,1159.4 1459.5,1158.5 1460.0,1158.8 1460.5,1158.8 1461.0,1160.0 1461.5,1158.7 1462.0,1159.9 1462.5,1159.0 1463.0,1160.0 1463.5,1159.2 1464.0,1159.3 1464.5,1160.0 1465.0,1159.8 1465.5,1159.8 1466.0,1158.7 1466.5,1159.9 1467.0,1160.0 1467.5,1159.2 1468.0,1159.0 1468.5,1158.7 1469.0,1159.8 1469.5,1159.4 1470.0,1159.3 1470.5,1158.6 1471.0,1160.0 1471.5,1159.8 1472.0,1159.3 1472.5,1160.0 1473.0,1158.7 1473.5,1159.8 1474.0,1158.7 1474.5,1160.0 1475.0,1159.1 1475.5,1159.9 1476.0,1159.0 1476.5,1159.5 1477.0,1159.9 1477.5,1158.8 1478.0,1159.3 1478.5,1158.8 1479.0,1159.7 1479.5,1158.9 1480.0,1159.1 1480.5,1159.2 1481.0,1159.9 1481.5,1158.7 1482.0,1159.2 1482.5,1159.1 1483.0,1159.0 1483.5,1158.8 1484.0,1159.2 1484.5,1159.4 1485.0,1158.5 1485.5,1159.4 1486.0,1158.6 1486.5,1159.3 1487.0,1160.0 1487.5,1158.7 1488.0,1159.2 1488.5,1159.1 1489.0,1159.8 1489.5,1159.0 1490.0,1158.5 1490.5,1158.5 1491.0,1159.3 1491.5,1159.4 1492.0,1159.8 1492.5,1159.0 1493.0,1159.6 1493.5,1158.7 1494.0,1160.0 1494.5,1159.2 1495.0,1158.9 1495.5,1159.3 1496.0,1160.0 1496.5,1158.8 1497.0,1158.6 1497.5,1158.7 1498.0,1158.6 1498.5,1159.2 1499.0,1159.4 1499.5,1159.1 1500.0,1159.3 1500.5,1159.9 1501.0,1159.1 1501.5,1158.5 1502.0,1158.5 1502.5,1159.4 1503.0,1158.9 1503.5,1159.1 1504.0,1159.5 1504.5,1159.5 1505.0,1158.5 1505.5,1158.7 1506.0,1159.3 1506.5,1159.1 1507.0,1159.9 1507.5,1158.9 1508.0,1158.4 1508.5,1159.9 1509.0,1158.4 1509.5,1158.7 1510.0,1159.4 1510.5,1158.6 1511.0,1160.0 1511.5,1159.3 1512.0,1159.5 1512.5,1159.0 1513.0,1160.0 1513.5,1159.5 1514.0,1158.8 1514.5,1159.9 1515.0,1158.4 1515.5,1158.9 1516.0,1159.3 1516.5,1159.3 1517.0,1158.7 1517.5,1159.9 1518.0,1159.9 1518.5,1158.7 1519.0,1159.4 1519.5,1158.8 1520.0,1158.9 1520.5,1159.7 1521.0,1159.2 1521.5,1159.1 1522.0,1159.2 1522.5,1158.5 1523.0,1159.8 1523.5,1158.7 1524.0,1159.8 1524.5,1158.9 1525.0,1158.9 1525.5,1159.9 1526.0,1159.2 1526.5,1158.8 1527.0,1158.8 1527.5,1159.4 1528.0,1159.9 1528.5,1159.4 1529.0,1158.9 1529.5,1158.4 1530.0,1158.7 1530.5,1159.0 1531.0,1159.2 1531.5,1158.7 1532.0,1159.7 1532.5,1158.5 1533.0,1158.6 1533.5,1159.2 1534.0,1159.2 1534.5,1158.7 1535.0,1159.4 1535.5,1158.1 1536.0,1159.6 1536.5,1159.6 1537.0,1159.6 1537.5,1158.8 1538.0,1159.5 1538.5,1158.7 1539.0,1159.4 1539.5,1158.4 1540.0,1158.6 1540.5,1158.7 1541.0,1157.5 1541.5,1158.1 1542.0,1158.8 1542.5,1157.1 1543.0,1157.9 1543.5,1158.1 1544.0,1157.5 1544.5,1157.2 1545.0,1157.6 1545.5,1156.8 1546.0,1155.5 1546.5,1155.4 1547.0,1155.4 1547.5,1155.3 1548.0,1154.5 1548.5,1154.3 1549.0,1154.7 1549.5,1152.6 1550.0,1153.6 1550.5,1153.0 1551.0,1152.3 1551.5,1151.5 1552.0,1151.0 1552.5,1150.7 1553.0,1150.2 1553.5,1149.2 1554.0,1149.7 1554.5,1148.5 1555.0,1148.7 1555.5,1148.3 1556.0,1147.7 1556.5,1148.6 1557.0,1148.3 1557.5,1147.8 1558.0,1148.5 1558.5,1148.1 1559.0,1149.9 1559.5,1149.8 1560.0,1150.7 1560.5,1150.0 1561.0,1151.2 1561.5,1150.7 1562.0,1151.3 1562.5,1152.2 1563.0,1153.0 1563.5,1153.7 1564.0,1153.6 1564.5,1154.8 1565.0,1155.1 1565.5,1154.5 1566.0,1155.3 1566.5,1155.3 1567.0,1156.9 1567.5,1156.2 1568.0,1157.2 1568.5,1157.5 1569.0,1157.1 1569.5,1157.2 1570.0,1157.9 1570.5,1157.4 1571.0,1157.3 1571.5,1157.6 1572.0,1158.4 1572.5,1158.5 1573.0,1159.2 1573.5,1157.8 1574.0,1158.9 1574.5,1158.0 1575.0,1159.3 1575.5,1159.1 1576.0,1158.9 1576.5,1159.6 1577.0,1158.7 1577.5,1158.6 1578.0,1158.3 1578.5,1158.6 1579.0,1159.0 1579.5,1159.3 1580.0,1159.7 1580.5,1158.8 1581.0,1158.6 1581.5,1158.8 1582.0,1158.8 1582.5,1158.8 1583.0,1158.8 1583.5,1158.6 1584.0,1159.0 1584.5,1158.8 1585.0,1159.0 1585.5,1158.3 1586.0,1159.2 1586.5,1159.4 1587.0,1159.5 1587.5,1158.8 1588.0,1158.5 1588.5,1158.4 1589.0,1158.5 1589.5,1158.8 1590.0,1159.0 1590.5,1158.4 1591.0,1159.5 1591.5,1158.4 1592.0,1158.8 1592.5,1158.8 1593.0,1159.6 1593.5,1159.9 1594.0,1159.0 1594.5,1159.0 1595.0,1159.0 1595.5,1159.1 1596.0,1159.1 1596.5,1160.0 1597.0,1158.6 1597.5,1159.1 1598.0,1158.8 1598.5,1159.4 1599.0,1158.9 1599.5,1159.5 1600.0,1158.6 1600.5,1160.0 1601.0,1159.3 1601.5,1158.4 1602.0,1159.6 1602.5,1159.0 1603.0,1158.6 1603.5,1159.5 1604.0,1158.9 1604.5,1159.6 1605.0,1158.9 1605.5,1159.7 1606.0,1159.3 1606.5,1159.4 1607.0,1159.3 1607.5,1159.0 1608.0,1159.0 1608.5,1159.5 1609.0,1159.6 1609.5,1159.0 1610.0,1160.0 1610.5,1160.0 1611.0,1158.6 1611.5,1159.8 1612.0,1159.2 1612.5,1159.4 1613.0,1158.8 1613.5,1160.0 1614.0,1158.8 1614.5,1159.2 1615.0,1158.9 1615.5,1160.0 1616.0,1159.9 1616.5,1158.5 1617.0,1159.0 1617.5,1159.4 1618.0,1159.0 1618.5,1159.1 1619.0,1158.7 1619.5,1159.4 1620.0,1158.7 1620.5,1159.7 1621.0,1160.0 1621.5,1159.1 1622.0,1160.0 1622.5,1159.5 1623.0,1158.9 1623.5,1159.1 1624.0,1158.7 1624.5,1159.3 1625.0,1159.6 1625.5,1159.8 1626.0,1159.1 1626.5,1158.6 1627.0,1159.2 1627.5,1160.0 1628.0,1159.4 1628.5,1159.2 1629.0,1158.5 1629.5,1159.0 1630.0,1159.6 1630.5,1158.8 1631.0,1160.0 1631.5,1159.0 1632.0,1158.8 1632.5,1159.0 1633.0,1159.2 1633.5,1159.8 1634.0,1159.0 1634.5,1158.5 1635.0,1159.2 1635.5,1159.6 1636.0,1160.0 1636.5,1158.7 1637.0,1160.0 1637.5,1159.6 1638.0,1159.5 1638.5,1158.9 1639.0,1158.8 1639.5,1158.8 1640.0,1159.8 1640.5,1159.4 1641.0,1159.8 1641.5,1160.0 1642.0,1159.3 1642.5,1159.2 1643.0,1160.0 1643.5,1158.6 1644.0,1159.0 1644.5,1159.1 1645.0,1159.1 1645.5,1159.4 1646.0,1158.8 1646.5,1159.9 1647.0,1158.5 1647.5,1158.8 1648.0,1158.5 1648.5,1158.5 1649.0,1159.6 1649.5,1159.6 1650.0,1159.2 1650.5,1159.7 1651.0,1159.6 1651.5,1159.0 1652.0,1159.3 1652.5,1159.5 1653.0,1160.0 1653.5,1159.0 1654.0,1159.5 1654.5,1159.6 1655.0,1159.9 1655.5,1159.5 1656.0,1159.9 1656.5,1158.7 1657.0,1159.1 1657.5,1158.5 1658.0,1159.3 1658.5,1160.0 1659.0,1159.4 1659.5,1159.3 1660.0,1159.4 1660.5,1159.4 1661.0,1158.6 1661.5,1158.9 1662.0,1159.2 1662.5,1159.4 1663.0,1158.8 1663.5,1159.2 1664.0,1158.9 1664.5,1158.6 1665.0,1158.9 1665.5,1158.8 1666.0,1159.7 1666.5,1160.0 1667.0,1159.6 1667.5,1159.2 1668.0,1159.0 1668.5,1158.5 1669.0,1159.0 1669.5,1160.1 1670.0,1159.9 1670.5,1159.4 1671.0,1159.2 1671.5,1159.3 1672.0,1159.5 1672.5,1159.3 1673.0,1159.5 1673.5,1158.9 1674.0,1159.3 1674.5,1159.1 1675.0,1159.9 1675.5,1158.6 1676.0,1160.0 1676.5,1159.2 1677.0,1159.0 1677.5,1159.3 1678.0,1159.4 1678.5,1159.2 1679.0,1159.5 1679.5,1159.0 1680.0,1158.5 1680.5,1159.7 1681.0,1159.3 1681.5,1160.1 1682.0,1159.5 1682.5,1158.5 1683.0,1160.0 1683.5,1158.9 1684.0,1159.6 1684.5,1160.1 1685.0,1159.9 1685.5,1158.7 1686.0,1159.2 1686.5,1158.5 1687.0,1159.6 1687.5,1159.6 1688.0,1158.7 1688.5,1159.5 1689.0,1159.8 1689.5,1159.7 1690.0,1158.9 1690.5,1158.9 1691.0,1158.7 1691.5,1158.6 1692.0,1159.5 1692.5,1159.3 1693.0,1160.0 1693.5,1159.4 1694.0,1159.1 1694.5,1158.5 1695.0,1160.1 1695.5,1159.4 1696.0,1159.3 1696.5,1158.7 1697.0,1158.7 1697.5,1159.6 1698.0,1158.8 1698.5,1159.6 1699.0,1159.6 1699.5,1159.1 1700.0,1158.5 1700.5,1159.5 1701.0,1160.0 1701.5,1158.8 1702.0,1158.6 1702.5,1159.9 1703.0,1159.4 1703.5,1159.0 1704.0,1159.9 1704.5,1159.1 1705.0,1159.5 1705.5,1159.1 1706.0,1158.9 1706.5,1159.4 1707.0,1158.8 1707.5,1158.5 1708.0,1159.0 1708.5,1160.0 1709.0,1159.9 1709.5,1160.1 1710.0,1159.8 1710.5,1160.1 1711.0,1159.4 1711.5,1159.1 1712.0,1159.5 1712.5,1158.8 1713.0,1159.7 1713.5,1159.0 1714.0,1159.4 1714.5,1158.8 1715.0,1159.2 1715.5,1159.8 1716.0,1159.2 1716.5,1158.9 1717.0,1159.4 1717.5,1159.8 1718.0,1159.2 1718.5,1158.7 1719.0,1158.5 1719.5,1158.6 1720.0,1159.9 1720.5,1159.2 1721.0,1159.6 1721.5,1159.9 1722.0,1159.4 1722.5,1159.6 1723.0,1159.0 1723.5,1158.5 1724.0,1159.6 1724.5,1159.2 1725.0,1159.6 1725.5,1158.7 1726.0,1159.2 1726.5,1160.1 1727.0,1158.8 1727.5,1159.3 1728.0,1160.0 1728.5,1159.2 1729.0,1159.4 1729.5,1158.5 1730.0,1159.7 1730.5,1159.1 1731.0,1160.0 1731.5,1159.2 1732.0,1159.1 1732.5,1159.5 1733.0,1159.2 1733.5,1159.0 1734.0,1160.1 1734.5,1159.8 1735.0,1159.4 1735.5,1159.7 1736.0,1159.7 1736.5,1159.6 1737.0,1159.3 1737.5,1159.3 1738.0,1159.5 1738.5,1159.6 1739.0,1159.5 1739.5,1159.0 1740.0,1159.3 1740.5,1159.5 1741.0,1158.8 1741.5,1159.3 1742.0,1159.7 1742.5,1159.4 1743.0,1159.1 1743.5,1159.3 1744.0,1159.0 1744.5,1159.8 1745.0,1159.1 1745.5,1158.5 1746.0,1158.7 1746.5,1159.5 1747.0,1159.4 1747.5,1159.0 1748.0,1158.6 1748.5,1159.2 1749.0,1158.9 1749.5,1158.9 1750.0,1159.3 1750.5,1158.9 1751.0,1159.5 1751.5,1158.9 1752.0,1159.1 1752.5,1159.2 1753.0,1160.1 1753.5,1160.1 1754.0,1159.8 1754.5,1158.9 1755.0,1159.3 1755.5,1159.8 1756.0,1159.7 1756.5,1158.5 1757.0,1159.3 1757.5,1158.9 1758.0,1159.7 1758.5,1159.6 1759.0,1159.0 1759.5,1160.1 1760.0,1159.2 1760.5,1160.1 1761.0,1159.2 1761.5,1159.2 1762.0,1160.1 1762.5,1159.0 1763.0,1159.1 1763.5,1160.1 1764.0,1159.3 1764.5,1159.6 1765.0,1158.6 1765.5,1160.1 1766.0,1159.8 1766.5,1159.5 1767.0,1159.7 1767.5,1159.0 1768.0,1159.1 1768.5,1158.5 1769.0,1159.5 1769.5,1160.0 1770.0,1159.8 1770.5,1159.8 1771.0,1159.7 1771.5,1158.8 1772.0,1158.6 1772.5,1159.6 1773.0,1159.4 1773.5,1159.8 1774.0,1159.2 1774.5,1158.8 1775.0,1159.5 1775.5,1159.0 1776.0,1158.5 1776.5,1159.0 1777.0,1158.8 1777.5,1158.7 1778.0,1159.0 1778.5,1159.8 1779.0,1160.1 1779.5,1160.1 1780.0,1159.1 1780.5,1159.9 1781.0,1159.3 1781.5,1159.5 1782.0,1158.9 1782.5,1159.3 1783.0,1158.5 1783.5,1160.1 1784.0,1158.9 1784.5,1159.6 1785.0,1159.0 1785.5,1159.4 1786.0,1158.7 1786.5,1159.1 1787.0,1159.8 1787.5,1159.6 1788.0,1158.5"/>
</g>
<g shape-rendering="crispEdges">
<rect x="1222" y="83" width="532" height="91" fill="#000"/><rect x="1224" y="86" width="527" height="86" fill="#fff"/>
<rect x="1219" y="676" width="532" height="91" fill="#000"/><rect x="1222" y="679" width="526" height="85" fill="#fff"/>
<rect x="1663" y="1229" width="92" height="91" fill="#000"/><rect x="1666" y="1232" width="87" height="85" fill="#fff"/>
<rect x="1624" y="1812" width="125" height="97" fill="#000"/><rect x="1626" y="1815" width="121" height="91" fill="#fff"/>
</g>
<g shape-rendering="crispEdges">
<rect x="1230" y="125" width="137" height="8" fill="#ff0000"/>
<rect x="1227" y="718" width="137" height="8" fill="#008000"/>
</g>
<g filter="url(#bw)">
<text transform="translate(262.69,625.80) scale(0.9354,1)" font-size="65.0">0</text>
<text transform="translate(144.35,476.10) scale(0.9354,1)" font-size="65.0">4,000</text>
<text transform="translate(144.35,326.50) scale(0.9354,1)" font-size="65.0">8,000</text>
<clipPath id="k0"><path clip-rule="evenodd" d="M-2000,-2000H4000V2000H-2000Z M5.16,-6.06H19.50V6H5.16Z M25.60,-6.06H39.18V6H25.60Z"/></clipPath>
<text transform="translate(110.53,176.80) scale(0.9354,1)" font-size="65.0" x="3.21 36.15 72.30 90.36 126.51 162.66" clip-path="url(#k0)">12,000</text>
<text transform="translate(265.59,1182.30) scale(0.9354,1)" font-size="65.0">0</text>
<text transform="translate(147.25,1017.00) scale(0.9354,1)" font-size="65.0">8,000</text>
<text transform="translate(113.43,851.60) scale(0.9354,1)" font-size="65.0" x="3.21 36.15 72.30 90.36 126.51 162.66" clip-path="url(#k0)">16,000</text>
<text transform="translate(113.43,686.30) scale(0.9354,1)" font-size="65.0">24,000</text>
<text transform="translate(182.26,1223.30) scale(0.9354,1)" font-size="65.0" x="3.21 36.15 72.30" clip-path="url(#k0)">100</text>
<text transform="translate(216.07,1368.20) scale(0.9354,1)" font-size="65.0">75</text>
<text transform="translate(216.07,1513.00) scale(0.9354,1)" font-size="65.0">50</text>
<text transform="translate(216.07,1657.90) scale(0.9354,1)" font-size="65.0">25</text>
<text transform="translate(182.26,1802.60) scale(0.9354,1)" font-size="65.0" x="3.21 36.15 72.30" clip-path="url(#k0)">100</text>
<text transform="translate(216.07,1947.50) scale(0.9354,1)" font-size="65.0">75</text>
<text transform="translate(216.07,2092.30) scale(0.9354,1)" font-size="65.0">50</text>
<text transform="translate(216.07,2237.20) scale(0.9354,1)" font-size="65.0">25</text>
<text transform="translate(249.89,2382.10) scale(0.9354,1)" font-size="65.0">0</text>
<text transform="translate(408.69,2462.40) scale(0.9354,1)" font-size="65.0">20</text>
<text transform="translate(631.79,2462.40) scale(0.9354,1)" font-size="65.0">30</text>
<text transform="translate(854.89,2462.40) scale(0.9354,1)" font-size="65.0">40</text>
<text transform="translate(1077.99,2462.40) scale(0.9354,1)" font-size="65.0">50</text>
<text transform="translate(1300.99,2462.40) scale(0.9354,1)" font-size="65.0">60</text>
<text transform="translate(1524.09,2462.40) scale(0.9354,1)" font-size="65.0">70</text>
<text transform="translate(1747.19,2462.40) scale(0.9354,1)" font-size="65.0">80</text>
<clipPath id="k1"><path clip-rule="evenodd" d="M-2000,-2000H4000V2000H-2000Z M131.67,-6.06H146.01V6H131.67Z M152.11,-6.06H165.69V6H152.11Z"/></clipPath>
<text transform="translate(1382.30,150.80) scale(0.9354,1)" font-size="65.0" x="0.00 36.15 72.30 108.45 129.72 162.66 198.81 234.96 253.02 290.98 309.04 352.39" clip-path="url(#k1)">400/100 + Ag</text>
<text transform="translate(1379.40,743.40) scale(0.9354,1)" font-size="65.0" x="0.00 36.15 72.30 108.45 129.72 162.66 198.81 234.96 253.02 290.98 309.04 352.39" clip-path="url(#k1)">300/100 + Ag</text>
<text transform="translate(1672.80,1296.00) scale(0.9354,1)" font-size="65.0">Ag</text>
<text transform="translate(1633.4,1886.0) scale(0.9354,1)" font-size="65.0">Ti <tspan style="font-family:'DejaVu Math TeX Gyre','Liberation Serif',serif" font-size="54.68" x="69.56" y="0.24" textLength="45.93" lengthAdjust="spacingAndGlyphs">α</tspan></text>
<text transform="translate(82,847.6) rotate(-90) scale(1,0.968)" font-size="70.2">Intensity [u.a]</text>
<text transform="translate(107.1,2040.6) rotate(-90) scale(0.9975,0.968)" font-size="70.2">Relative Intensity %</text>
<text transform="translate(937.47,2574.60) scale(0.9521,0.9971)" font-size="80.0">2<tspan style="font-family:'Liberation Serif',serif" font-size="77.23" x="45.10" y="0.55" textLength="40.67" lengthAdjust="spacingAndGlyphs">θ</tspan><tspan style="font-family:'Liberation Serif',serif" font-size="60"> </tspan><tspan style="font-family:'Liberation Serif',serif" font-size="78.81" x="110.01" y="-1.21" textLength="22.00" lengthAdjust="spacingAndGlyphs" stroke="#000" stroke-width="1.2" stroke-linejoin="round">(</tspan><tspan style="font-family:'Liberation Serif',serif" font-size="68.62" x="136.94" y="-11.75" textLength="25.69" lengthAdjust="spacingAndGlyphs" stroke="#000" stroke-width="1.0" stroke-linejoin="round">°</tspan><tspan style="font-family:'Liberation Serif',serif" font-size="78.81" x="168.43" y="-1.21" textLength="22.14" lengthAdjust="spacingAndGlyphs" stroke="#000" stroke-width="1.2" stroke-linejoin="round">)</tspan></text>
</g>
</svg></body></html>
